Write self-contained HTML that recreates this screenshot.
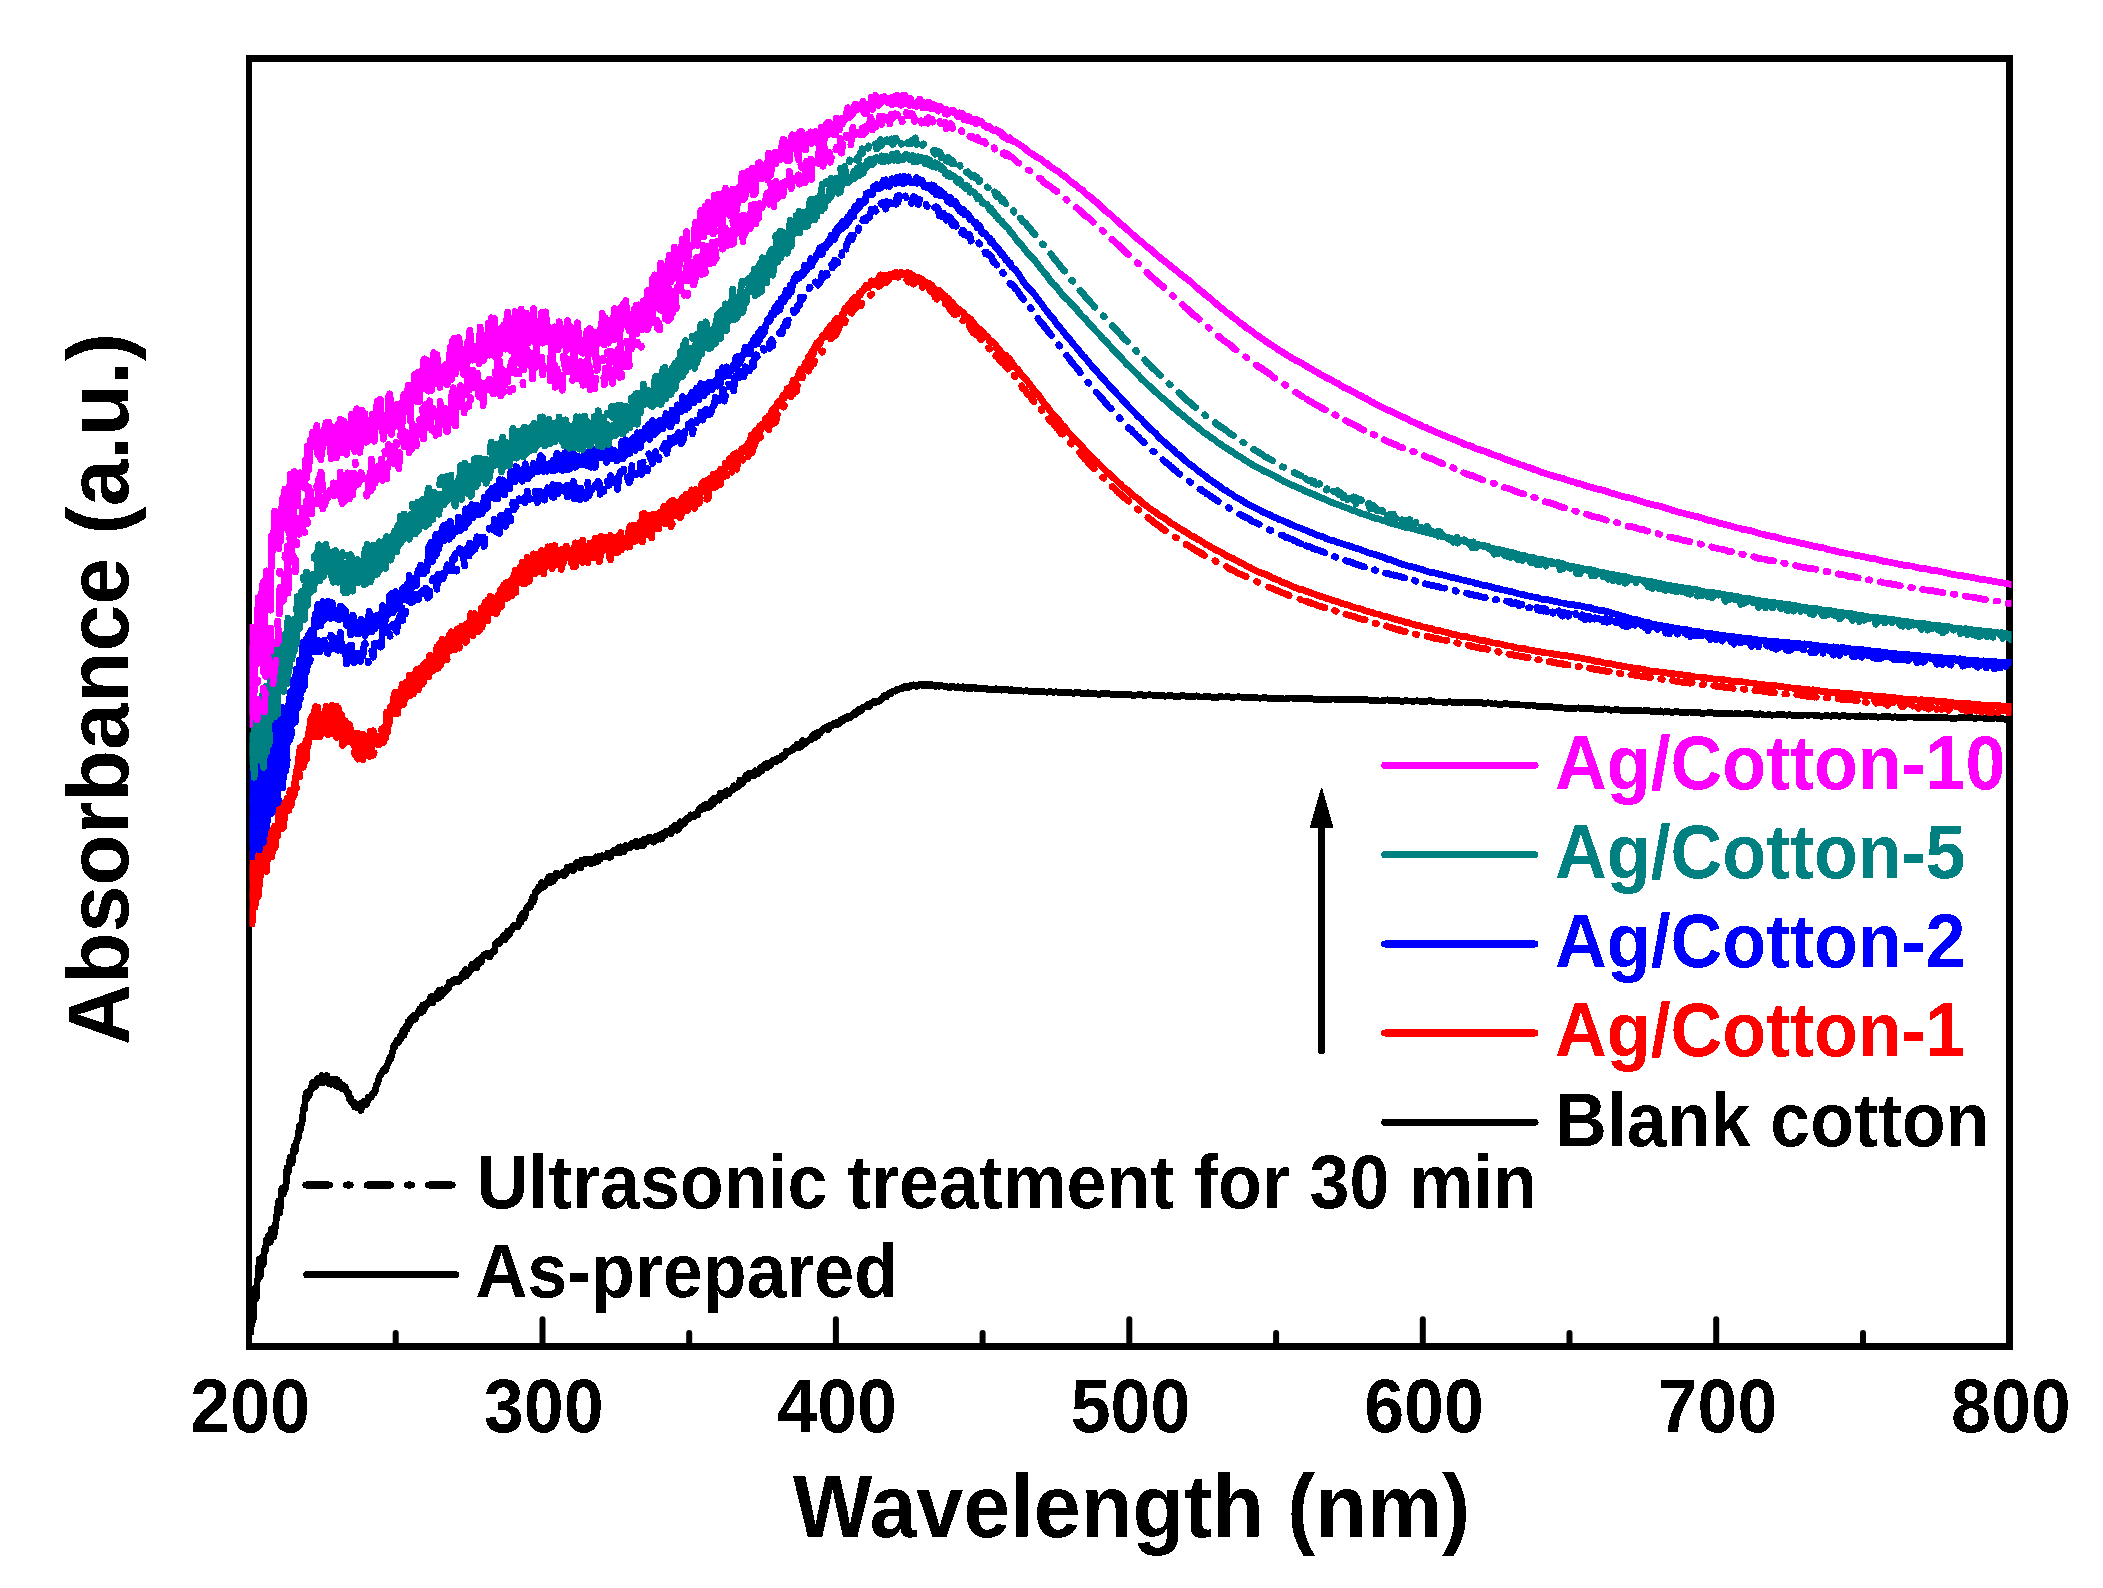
<!DOCTYPE html>
<html lang="en">
<head>
<meta charset="utf-8">
<title>UV-vis absorbance spectra of Ag/Cotton</title>
<style>
html,body{margin:0;padding:0;background:#fff;}
body{width:2103px;height:1588px;overflow:hidden;}
svg{display:block;}
text{font-family:"Liberation Sans",sans-serif;font-weight:bold;}
</style>
</head>
<body>
<svg width="2103" height="1588" viewBox="0 0 2103 1588">
<rect x="0" y="0" width="2103" height="1588" fill="#ffffff"/>
<!-- plot frame -->
<g shape-rendering="crispEdges">
<rect x="249.0" y="58.3" width="1760.7" height="1288.1" fill="none" stroke="#000" stroke-width="6.6"/>
</g>
<g stroke="#000" stroke-width="6" stroke-linecap="round">
<line x1="395.7" y1="1346.4" x2="395.7" y2="1332.9"/>
<line x1="542.5" y1="1346.4" x2="542.5" y2="1319.2"/>
<line x1="689.2" y1="1346.4" x2="689.2" y2="1332.9"/>
<line x1="835.9" y1="1346.4" x2="835.9" y2="1319.2"/>
<line x1="982.6" y1="1346.4" x2="982.6" y2="1332.9"/>
<line x1="1129.3" y1="1346.4" x2="1129.3" y2="1319.2"/>
<line x1="1276.1" y1="1346.4" x2="1276.1" y2="1332.9"/>
<line x1="1422.8" y1="1346.4" x2="1422.8" y2="1319.2"/>
<line x1="1569.5" y1="1346.4" x2="1569.5" y2="1332.9"/>
<line x1="1716.2" y1="1346.4" x2="1716.2" y2="1319.2"/>
<line x1="1863.0" y1="1346.4" x2="1863.0" y2="1332.9"/>
</g>
<!-- data curves -->
<defs><filter id="crisp" x="-5%" y="-5%" width="110%" height="110%" color-interpolation-filters="sRGB"><feComponentTransfer><feFuncA type="discrete" tableValues="0 1"/></feComponentTransfer></filter><clipPath id="pc"><rect x="249.6" y="0" width="1761.9" height="1588"/></clipPath></defs>
<g fill="none" stroke-width="6.8" stroke-linecap="round" stroke-linejoin="round" shape-rendering="crispEdges" clip-path="url(#pc)">
<path d="M250.0,1310.6 L251.0,1332.1 L252.1,1289.3 L253.1,1320.9 L254.1,1289.4 L255.1,1289.4 L256.2,1298.8 L257.2,1279.7 L258.2,1279.5 L259.2,1259.1 L260.3,1276.1 L261.3,1265.8 L262.3,1256.7 L263.4,1264.5 L264.4,1249.8 L265.4,1250.2 L266.4,1240.0 L267.5,1243.3 L268.5,1236.0 L269.5,1234.5 L270.5,1242.2 L271.6,1228.9 L272.6,1230.0 L273.6,1237.0 L274.6,1232.8 L275.7,1224.1 L276.7,1216.4 L277.7,1207.2 L278.8,1200.9 L279.8,1213.0 L280.8,1200.1 L281.8,1188.5 L282.9,1194.4 L283.9,1193.3 L284.9,1186.3 L285.9,1188.0 L287.0,1168.1 L288.0,1173.1 L289.0,1168.0 L290.1,1157.3 L291.1,1163.5 L292.1,1163.2 L293.1,1155.3 L294.2,1146.4 L295.2,1151.5 L296.2,1142.7 L297.2,1138.8 L298.3,1138.1 L299.3,1126.0 L300.3,1130.5 L301.4,1124.4 L302.4,1120.9 L303.4,1108.6 L304.4,1109.5 L305.5,1097.6 L306.5,1092.6 L307.5,1097.9 L308.5,1096.0 L309.6,1094.6 L310.6,1089.3 L311.6,1086.2 L312.7,1082.6 L313.7,1087.5 L314.7,1086.9 L315.7,1086.7 L316.8,1080.2 L317.8,1078.4 L318.8,1081.0 L319.8,1081.7 L320.9,1082.8 L321.9,1075.7 L322.9,1078.7 L323.9,1082.4 L325.0,1078.4 L326.0,1080.1 L327.0,1075.5 L328.1,1081.4 L329.1,1083.8 L330.1,1083.3 L331.1,1084.1 L332.2,1082.5 L333.2,1079.3 L334.2,1084.2 L335.2,1079.9 L336.3,1085.8 L337.3,1079.7 L338.3,1086.9 L339.4,1082.0 L340.4,1084.5 L341.4,1084.9 L342.4,1089.0 L343.5,1085.6 L344.5,1088.8 L345.5,1087.0 L346.5,1090.9 L347.6,1094.0 L348.6,1093.0 L349.6,1099.1 L350.7,1098.3 L351.7,1102.5 L352.7,1103.0 L353.7,1102.1 L354.8,1106.8 L355.8,1105.7 L356.8,1107.9 L357.8,1104.5 L358.9,1106.6 L359.9,1103.8 L360.9,1110.6 L362.0,1103.8 L363.0,1103.4 L364.0,1101.1 L365.0,1101.7 L366.1,1104.9 L367.1,1103.1 L368.1,1097.0 L369.1,1097.7 L370.2,1096.6 L371.2,1097.1 L372.2,1093.7 L373.2,1093.0 L374.3,1093.3 L375.3,1090.4 L376.3,1085.3 L377.4,1083.9 L378.4,1081.0 L379.4,1076.6 L380.4,1075.2 L381.5,1073.6 L382.5,1071.6 L383.5,1069.4 L384.5,1069.3 L385.6,1070.3 L386.6,1066.4 L387.6,1064.2 L388.7,1061.7 L389.7,1058.2 L390.7,1058.8 L391.7,1054.8 L392.8,1051.2 L393.8,1045.7 L394.8,1047.2 L395.8,1043.0 L396.9,1040.5 L397.9,1041.8 L398.9,1042.3 L400.0,1036.5 L401.0,1038.7 L402.0,1034.9 L403.0,1030.1 L404.1,1035.2 L405.1,1028.8 L406.1,1026.3 L407.1,1029.3 L408.2,1021.7 L409.2,1025.2 L410.2,1019.2 L411.3,1019.4 L412.3,1016.7 L413.3,1020.4 L414.3,1015.4 L415.4,1019.0 L416.4,1014.9 L417.4,1014.4 L418.4,1011.9 L419.5,1009.2 L420.5,1008.9 L421.5,1012.4 L422.5,1005.4 L423.6,1010.9 L424.6,1008.1 L425.6,1004.0 L426.7,1005.4 L427.7,1002.4 L428.7,1001.5 L429.7,1001.6 L430.8,996.8 L431.8,999.9 L432.8,1002.9 L433.8,996.5 L434.9,999.4 L435.9,996.1 L436.9,993.4 L438.0,998.3 L439.0,990.2 L440.0,991.8 L441.0,996.6 L442.1,989.8 L443.1,993.8 L444.1,991.0 L445.1,991.8 L446.2,989.6 L447.2,986.6 L448.2,989.0 L449.3,982.2 L450.3,984.8 L451.3,983.4 L452.3,983.4 L453.4,979.8 L454.4,979.7 L455.4,981.6 L456.4,979.4 L457.5,981.9 L458.5,979.5 L459.5,980.8 L460.6,978.9 L461.6,977.0 L462.6,973.7 L463.6,976.9 L464.7,971.8 L465.7,969.5 L466.7,975.8 L467.7,971.6 L468.8,972.7 L469.8,970.0 L470.8,969.8 L471.8,964.4 L472.9,964.8 L473.9,967.9 L474.9,966.3 L476.0,962.2 L477.0,967.7 L478.0,960.5 L479.0,962.5 L480.1,958.8 L481.1,962.5 L482.1,958.1 L483.1,956.1 L484.2,954.5 L485.2,954.6 L486.2,953.8 L487.3,955.6 L488.3,953.9 L489.3,957.0 L490.3,955.9 L491.4,953.7 L492.4,951.6 L493.4,952.0 L494.4,951.7 L495.5,943.4 L496.5,943.1 L497.5,943.9 L498.6,940.8 L499.6,943.7 L500.6,940.0 L501.6,939.0 L502.7,938.1 L503.7,935.6 L504.7,939.7 L505.7,938.0 L506.8,936.6 L507.8,931.2 L508.8,933.3 L509.8,934.3 L510.9,929.2 L511.9,930.0 L512.9,926.1 L514.0,925.5 L515.0,925.4 L516.0,925.8 L517.0,924.9 L518.1,926.9 L519.1,921.1 L520.1,917.3 L521.1,922.1 L522.2,914.6 L523.2,913.2 L524.2,918.3 L525.3,915.0 L526.3,910.0 L527.3,906.7 L528.3,907.0 L529.4,904.8 L530.4,907.2 L531.4,901.9 L532.4,897.4 L533.5,902.1 L534.5,897.9 L535.5,892.1 L536.6,890.3 L537.6,891.3 L538.6,886.8 L539.6,889.5 L540.7,888.0 L541.7,882.4 L542.7,887.3 L543.7,886.2 L544.8,886.3 L545.8,883.6 L546.8,883.1 L547.9,878.3 L548.9,876.6 L549.9,876.3 L550.9,882.6 L552.0,879.6 L553.0,881.4 L554.0,876.3 L555.0,878.8 L556.1,873.1 L557.1,873.3 L558.1,873.6 L559.1,875.2 L560.2,874.7 L561.2,873.7 L562.2,872.6 L563.3,873.2 L564.3,875.6 L565.3,871.2 L566.3,873.5 L567.4,867.0 L568.4,869.0 L569.4,869.8 L570.4,869.7 L571.5,866.4 L572.5,867.0 L573.5,870.7 L574.6,867.9 L575.6,867.0 L576.6,862.6 L577.6,862.1 L578.7,862.9 L579.7,861.9 L580.7,867.9 L581.7,860.2 L582.8,862.6 L583.8,859.9 L584.8,864.0 L585.9,859.2 L586.9,859.1 L587.9,858.9 L588.9,860.0 L590.0,862.0 L591.0,863.5 L592.0,859.2 L593.0,859.0 L594.1,862.7 L595.1,861.8 L596.1,856.9 L597.2,861.6 L598.2,861.5 L599.2,856.3 L600.2,859.3 L601.3,855.7 L602.3,855.7 L603.3,857.1 L604.3,857.0 L605.4,856.2 L606.4,856.3 L607.4,853.4 L608.4,857.2 L609.5,853.1 L610.5,857.3 L611.5,854.0 L612.6,852.0 L613.6,850.6 L614.6,852.5 L615.6,851.3 L616.7,852.7 L617.7,851.3 L618.7,847.5 L619.7,852.9 L620.8,846.8 L621.8,852.1 L622.8,851.5 L623.9,851.9 L624.9,849.6 L625.9,845.5 L626.9,847.1 L628.0,846.7 L629.0,847.6 L630.0,845.4 L631.0,847.1 L632.1,843.3 L633.1,844.0 L634.1,845.0 L635.2,843.8 L636.2,841.2 L637.2,847.0 L638.2,844.7 L639.3,845.3 L640.3,841.6 L641.3,845.5 L642.3,844.3 L643.4,845.2 L644.4,839.3 L645.4,841.0 L646.5,840.1 L647.5,841.4 L648.5,838.5 L649.5,837.1 L650.6,839.5 L651.6,840.4 L652.6,838.2 L653.6,842.2 L654.7,837.7 L655.7,836.6 L656.7,839.8 L657.7,836.9 L658.8,835.1 L659.8,834.8 L660.8,839.1 L661.9,838.7 L662.9,836.0 L663.9,832.8 L664.9,835.4 L666.0,831.4 L667.0,831.6 L668.0,832.6 L669.0,831.0 L670.1,830.1 L671.1,834.0 L672.1,827.7 L673.2,830.2 L674.2,825.6 L675.2,825.3 L676.2,825.5 L677.3,830.4 L678.3,827.8 L679.3,828.1 L680.3,821.7 L681.4,825.4 L682.4,823.0 L683.4,822.1 L684.5,823.4 L685.5,819.8 L686.5,820.5 L687.5,817.9 L688.6,818.1 L689.6,818.3 L690.6,814.9 L691.6,815.0 L692.7,815.3 L693.7,814.9 L694.7,816.5 L695.8,814.6 L696.8,813.4 L697.8,814.8 L698.8,809.4 L699.9,808.0 L700.9,809.3 L701.9,806.9 L702.9,809.1 L704.0,808.5 L705.0,804.7 L706.0,808.0 L707.0,806.2 L708.1,804.6 L709.1,807.3 L710.1,806.2 L711.2,801.1 L712.2,800.0 L713.2,804.4 L714.2,798.5 L715.3,801.9 L716.3,798.2 L717.3,797.8 L718.3,798.4 L719.4,800.1 L720.4,793.2 L721.4,793.6 L722.5,796.6 L723.5,793.7 L724.5,792.3 L725.5,796.0 L726.6,790.7 L727.6,792.9 L728.6,793.9 L729.6,791.8 L730.7,790.7 L731.7,790.1 L732.7,789.9 L733.8,785.7 L734.8,787.3 L735.8,787.7 L736.8,787.5 L737.9,786.9 L738.9,786.1 L739.9,780.1 L740.9,781.2 L742.0,781.0 L743.0,783.1 L744.0,779.3 L745.1,777.6 L746.1,775.3 L747.1,776.3 L748.1,778.8 L749.2,773.3 L750.2,773.6 L751.2,773.9 L752.2,774.6 L753.3,773.0 L754.3,775.7 L755.3,770.8 L756.3,772.5 L757.4,773.3 L758.4,773.7 L759.4,772.7 L760.5,767.6 L761.5,771.1 L762.5,769.8 L763.5,767.7 L764.6,764.7 L765.6,765.0 L766.6,768.0 L767.6,763.3 L768.7,764.1 L769.7,763.1 L770.7,765.5 L771.8,762.4 L772.8,760.1 L773.8,761.1 L774.8,760.2 L775.9,761.8 L776.9,758.7 L777.9,760.2 L778.9,758.5 L780.0,759.9 L781.0,758.2 L782.0,755.5 L783.1,755.3 L784.1,754.5 L785.1,756.2 L786.1,751.1 L787.2,752.2 L788.2,752.1 L789.2,750.9 L790.2,751.2 L791.3,750.0 L792.3,748.8 L793.3,749.8 L794.3,747.0 L795.4,748.0 L796.4,748.1 L797.4,744.0 L798.5,744.5 L799.5,747.4 L800.5,746.9 L801.5,746.4 L802.6,740.4 L803.6,744.2 L804.6,744.2 L805.6,743.4 L806.7,741.7 L807.7,740.9 L808.7,740.5 L809.8,739.1 L810.8,739.6 L811.8,737.5 L812.8,735.4 L813.9,734.1 L814.9,737.8 L815.9,736.4 L816.9,732.8 L818.0,735.6 L819.0,732.3 L820.0,733.4 L821.1,731.4 L822.1,730.1 L823.1,729.3 L824.1,728.2 L825.2,727.6 L826.2,727.0 L827.2,726.6 L828.2,729.6 L829.3,727.5 L830.3,725.0 L831.3,726.3 L832.4,725.8 L833.4,725.0 L834.4,723.1 L835.4,723.6 L836.5,724.9 L837.5,722.2 L838.5,722.1 L839.5,723.4 L840.6,719.8 L841.6,721.3 L842.6,719.7 L843.6,720.4 L844.7,718.0 L845.7,718.2 L846.7,716.9 L847.8,718.4 L848.8,718.0 L849.8,716.3 L850.8,717.1 L851.9,715.5 L852.9,715.3 L853.9,715.0 L854.9,712.0 L856.0,714.2 L857.0,711.3 L858.0,711.2 L859.1,709.4 L860.1,711.3 L861.1,708.9 L862.1,709.6 L863.2,707.4 L864.2,707.3 L865.2,706.9 L866.2,705.8 L867.3,704.6 L868.3,706.5 L869.3,706.6 L870.4,703.6 L871.4,702.8 L872.4,702.9 L873.4,701.5 L874.5,702.8 L875.5,701.4 L876.5,701.4 L877.5,702.0 L878.6,701.3 L879.6,700.9 L880.6,700.4 L881.7,698.8 L882.7,697.9 L883.7,696.0 L884.7,695.6 L885.8,696.2 L886.8,696.5 L887.8,694.8 L888.8,693.0 L889.9,693.0 L890.9,693.8 L891.9,691.7 L892.9,691.2 L894.0,690.9 L895.0,691.1 L896.0,691.2 L897.1,689.2 L898.1,689.6 L899.1,689.1 L900.1,688.5 L901.2,688.4 L902.2,688.6 L903.2,687.0 L904.2,687.4 L905.3,686.2 L906.3,686.9 L907.3,687.4 L908.4,687.6 L909.4,686.3 L910.4,685.7 L911.4,686.2 L912.5,685.6 L913.5,684.9 L914.5,685.6 L915.5,686.1 L916.6,686.2 L917.6,686.2 L918.6,684.9 L919.7,684.5 L920.7,684.2 L921.7,684.8 L922.7,685.6 L923.8,684.4 L924.8,685.7 L925.8,685.4 L926.8,684.4 L927.9,685.3 L928.9,685.7 L929.9,686.0 L931.0,684.5 L932.0,685.9 L933.0,685.8 L934.0,684.9 L935.1,685.0 L936.1,686.4 L937.1,685.3 L938.1,685.3 L939.2,686.2 L940.2,685.2 L941.2,685.9 L942.2,685.8 L943.3,686.2 L944.3,686.4 L945.3,686.6 L946.4,686.3 L947.4,687.2 L948.4,687.2 L949.4,687.4 L950.5,686.6 L951.5,687.2 L952.5,686.7 L953.5,686.5 L954.6,687.2 L955.6,687.8 L956.6,687.6 L957.7,686.8 L958.7,686.8 L959.7,687.8 L960.7,687.7 L961.8,688.0 L962.8,686.9 L963.8,688.2 L964.8,687.5 L965.9,687.3 L966.9,687.5 L967.9,688.6 L969.0,688.6 L970.0,687.3 L971.0,687.7 L972.0,688.4 L973.1,687.4 L974.1,687.5 L975.1,687.5 L976.1,688.9 L977.2,688.1 L978.2,688.2 L979.2,688.9 L980.3,688.3 L981.3,689.0 L982.3,688.5 L983.3,688.4 L984.4,688.6 L985.4,688.4 L986.4,688.3 L987.4,689.5 L988.5,689.5 L989.5,689.0 L990.5,689.4 L991.5,689.7 L992.6,689.1 L993.6,689.6 L994.6,689.7 L995.7,688.8 L996.7,689.0 L997.7,689.8 L998.7,689.8 L999.8,689.2 L1000.8,690.1 L1001.8,690.1 L1002.8,689.5 L1003.9,689.6 L1004.9,689.4 L1005.9,689.8 L1007.0,689.5 L1008.0,690.1 L1009.0,690.2 L1010.0,690.2 L1011.1,689.6 L1012.0,690.4 L1014.9,690.7 L1017.8,690.0 L1020.8,690.7 L1023.7,691.2 L1026.6,690.5 L1029.6,691.5 L1032.5,691.7 L1035.4,691.5 L1038.4,691.9 L1041.3,691.2 L1044.2,691.8 L1047.2,692.3 L1050.1,691.3 L1053.1,692.4 L1056.0,691.8 L1058.9,692.6 L1061.9,692.5 L1064.8,692.8 L1067.7,692.4 L1070.7,692.6 L1073.6,693.3 L1076.5,692.3 L1079.5,692.5 L1082.4,693.7 L1085.3,693.7 L1088.3,692.8 L1091.2,694.0 L1094.1,693.2 L1097.1,694.1 L1100.0,694.2 L1102.9,693.2 L1105.9,693.2 L1108.8,693.7 L1111.7,694.6 L1114.7,694.5 L1117.6,694.1 L1120.5,694.8 L1123.5,694.2 L1126.4,694.3 L1129.3,694.2 L1132.3,695.3 L1135.2,695.2 L1138.2,694.8 L1141.1,694.6 L1144.0,695.6 L1147.0,695.0 L1149.9,694.8 L1152.8,695.2 L1155.8,695.6 L1158.7,695.8 L1161.6,695.0 L1164.6,696.2 L1167.5,695.9 L1170.4,695.2 L1173.4,696.2 L1176.3,696.5 L1179.2,696.4 L1182.2,695.4 L1185.1,696.1 L1188.0,696.3 L1191.0,696.8 L1193.9,696.3 L1196.8,695.9 L1199.8,697.0 L1202.7,697.1 L1205.6,696.6 L1208.6,696.1 L1211.5,697.2 L1214.5,697.1 L1217.4,697.5 L1220.3,696.3 L1223.3,697.0 L1226.2,696.8 L1229.1,696.7 L1232.1,697.6 L1235.0,697.1 L1237.9,696.8 L1240.9,697.0 L1243.8,697.9 L1246.7,697.7 L1249.7,697.3 L1252.6,698.0 L1255.5,697.3 L1258.5,698.1 L1261.4,698.1 L1264.3,697.3 L1267.3,698.1 L1270.2,698.4 L1273.1,698.5 L1276.1,698.5 L1279.0,698.8 L1281.9,698.7 L1284.9,699.0 L1287.8,698.4 L1290.7,698.0 L1293.7,698.2 L1296.6,698.4 L1299.6,698.2 L1302.5,698.3 L1305.4,698.9 L1308.4,698.6 L1311.3,698.7 L1314.2,699.4 L1317.2,699.6 L1320.1,699.7 L1323.0,699.1 L1326.0,699.6 L1328.9,699.9 L1331.8,699.0 L1334.8,699.1 L1337.7,699.8 L1340.6,699.3 L1343.6,699.3 L1346.5,699.6 L1349.4,699.2 L1352.4,699.8 L1355.3,699.4 L1358.2,699.7 L1361.2,699.7 L1364.1,699.9 L1367.0,699.7 L1370.0,700.2 L1372.9,700.5 L1375.8,700.1 L1378.8,700.9 L1381.7,700.9 L1384.7,700.2 L1387.6,699.9 L1390.5,700.9 L1393.5,700.3 L1396.4,700.5 L1399.3,700.9 L1402.3,701.5 L1405.2,700.6 L1408.1,700.9 L1411.1,701.1 L1414.0,701.3 L1416.9,700.7 L1419.9,701.3 L1422.8,701.3 L1425.7,701.5 L1428.7,700.8 L1431.6,700.9 L1434.5,702.1 L1437.5,701.9 L1440.4,702.0 L1443.3,702.2 L1446.3,702.4 L1449.2,701.7 L1452.1,702.2 L1455.1,702.2 L1458.0,702.2 L1460.9,702.4 L1463.9,702.0 L1466.8,702.9 L1469.8,702.4 L1472.7,702.1 L1475.6,702.1 L1478.6,703.0 L1481.5,702.6 L1484.4,703.7 L1487.4,702.8 L1490.3,703.1 L1493.2,704.1 L1496.2,703.7 L1499.1,704.4 L1502.0,704.3 L1505.0,703.6 L1507.9,703.9 L1510.8,704.3 L1513.8,705.1 L1516.7,704.5 L1519.6,704.9 L1522.6,705.1 L1525.5,705.0 L1528.4,705.8 L1531.4,705.0 L1534.3,705.4 L1537.2,706.4 L1540.2,706.3 L1543.1,706.3 L1546.0,706.3 L1549.0,706.1 L1551.9,706.7 L1554.9,707.6 L1557.8,707.2 L1560.7,707.4 L1563.7,708.1 L1566.6,708.1 L1569.5,708.4 L1572.5,708.5 L1575.4,708.3 L1578.3,707.9 L1581.3,708.5 L1584.2,708.3 L1587.1,709.0 L1590.1,708.3 L1593.0,708.8 L1595.9,709.5 L1598.9,709.1 L1601.8,709.4 L1604.7,708.9 L1607.7,709.2 L1610.6,710.2 L1613.5,710.0 L1616.5,709.7 L1619.4,710.0 L1622.3,710.5 L1625.3,710.6 L1628.2,710.8 L1631.1,710.2 L1634.1,710.2 L1637.0,710.8 L1640.0,710.8 L1642.9,711.0 L1645.8,710.6 L1648.8,710.8 L1651.7,711.5 L1654.6,711.1 L1657.6,711.7 L1660.5,710.9 L1663.4,712.2 L1666.4,711.3 L1669.3,711.8 L1672.2,712.5 L1675.2,711.7 L1678.1,711.7 L1681.0,712.8 L1684.0,712.8 L1686.9,712.4 L1689.8,711.9 L1692.8,712.7 L1695.7,712.3 L1698.6,712.4 L1701.6,713.4 L1704.5,713.1 L1707.4,712.9 L1710.4,712.5 L1713.3,713.0 L1716.2,713.7 L1719.2,713.1 L1722.1,713.2 L1725.1,713.6 L1728.0,713.3 L1730.9,713.7 L1733.9,714.1 L1736.8,713.5 L1739.7,713.8 L1742.7,714.1 L1745.6,713.8 L1748.5,713.7 L1751.5,713.7 L1754.4,714.3 L1757.3,714.9 L1760.3,713.7 L1763.2,714.9 L1766.1,715.1 L1769.1,714.6 L1772.0,715.2 L1774.9,715.0 L1777.9,714.8 L1780.8,714.8 L1783.7,714.8 L1786.7,715.2 L1789.6,714.7 L1792.5,715.3 L1795.5,715.1 L1798.4,715.4 L1801.4,715.8 L1804.3,715.0 L1807.2,715.2 L1810.2,715.1 L1813.1,714.9 L1816.0,715.7 L1819.0,715.8 L1821.9,716.3 L1824.8,715.8 L1827.8,715.6 L1830.7,716.3 L1833.6,715.2 L1836.6,715.7 L1839.5,716.3 L1842.4,715.6 L1845.4,715.9 L1848.3,716.6 L1851.2,716.0 L1854.2,715.9 L1857.1,716.8 L1860.0,715.8 L1863.0,716.8 L1865.9,716.2 L1868.8,716.1 L1871.8,716.5 L1874.7,716.6 L1877.6,717.2 L1880.6,717.0 L1883.5,716.7 L1886.5,716.9 L1889.4,716.6 L1892.3,717.5 L1895.3,716.8 L1898.2,717.5 L1901.1,717.2 L1904.1,717.6 L1907.0,716.9 L1909.9,717.1 L1912.9,717.0 L1915.8,717.7 L1918.7,717.9 L1921.7,717.8 L1924.6,717.3 L1927.5,717.9 L1930.5,717.8 L1933.4,717.6 L1936.3,717.2 L1939.3,717.3 L1942.2,718.0 L1945.1,717.3 L1948.1,717.9 L1951.0,718.2 L1953.9,718.1 L1956.9,718.1 L1959.8,717.6 L1962.7,717.5 L1965.7,717.4 L1968.6,717.5 L1971.6,717.8 L1974.5,718.3 L1977.4,718.1 L1980.4,717.9 L1983.3,718.1 L1986.2,718.3 L1989.2,718.8 L1992.1,718.6 L1995.0,717.9 L1998.0,718.5 L2000.9,718.1 L2003.8,719.1 L2006.8,719.1 L2009.7,718.8 L2011.0,719.0" stroke="#000000"/>
<path d="M250.0,871.6 L251.0,874.5 L252.1,924.1 L253.1,852.2 L254.1,898.3 L255.1,907.1 L256.2,857.4 L257.2,846.5 L258.2,862.6 L259.2,885.9 L260.3,875.6 L261.3,850.2 L262.3,861.1 L263.4,868.2 L264.4,853.7 L265.4,860.0 L266.4,871.5 L267.5,856.6 L268.5,841.9 L269.5,831.4 L270.5,835.7 L271.6,839.9 L272.6,852.1 L273.6,845.3 L274.6,826.3 L275.7,845.7 L276.7,827.4 L277.7,832.5 L278.8,810.6 L279.8,808.5 L280.8,809.2 L281.8,828.7 L282.9,819.7 L283.9,822.7 L284.9,813.6 L285.9,803.3 L287.0,804.3 L288.0,804.2 L289.0,810.4 L290.1,793.5 L291.1,805.8 L292.1,793.4 L293.1,797.5 L294.2,783.2 L295.2,786.5 L296.2,771.2 L297.2,774.3 L298.3,760.4 L299.3,753.1 L300.3,747.6 L301.4,767.3 L302.4,755.4 L303.4,767.2 L304.4,761.7 L305.5,742.6 L306.5,758.9 L307.5,741.8 L308.5,744.1 L309.6,728.9 L310.6,719.6 L311.6,717.1 L312.7,715.9 L313.7,728.8 L314.7,710.8 L315.7,706.5 L316.8,732.8 L317.8,707.3 L318.8,718.3 L319.8,719.0 L320.9,723.1 L321.9,719.1 L322.9,733.5 L323.9,727.3 L325.0,721.5 L326.0,723.0 L327.0,719.5 L328.1,734.6 L329.1,710.6 L330.1,725.9 L331.1,721.7 L332.2,705.3 L333.2,713.8 L334.2,734.4 L335.2,730.2 L336.3,705.9 L337.3,716.0 L338.3,708.1 L339.4,735.7 L340.4,714.4 L341.4,714.5 L342.4,745.3 L343.5,730.1 L344.5,727.7 L345.5,720.8 L346.5,732.6 L347.6,733.0 L348.6,738.9 L349.6,724.5 L350.7,729.9 L351.7,732.8 L352.7,740.7 L353.7,737.5 L354.8,747.4 L355.8,738.7 L356.8,757.2 L357.8,759.0 L358.9,733.7 L359.9,738.1 L360.9,748.0 L362.0,753.7 L363.0,734.1 L364.0,737.2 L365.0,744.3 L366.1,749.7 L367.1,755.5 L368.1,754.0 L369.1,751.5 L370.2,731.6 L371.2,755.2 L372.2,745.2 L373.2,730.7 L374.3,734.4 L375.3,743.1 L376.3,736.1 L377.4,736.7 L378.4,745.0 L379.4,744.3 L380.4,735.8 L381.5,740.8 L382.5,729.2 L383.5,742.3 L384.5,730.9 L385.6,738.4 L386.6,712.3 L387.6,731.7 L388.7,721.0 L389.7,722.5 L390.7,706.6 L391.7,713.3 L392.8,704.3 L393.8,697.2 L394.8,692.5 L395.8,713.8 L396.9,705.9 L397.9,692.2 L398.9,692.0 L400.0,695.9 L401.0,703.6 L402.0,684.2 L403.0,704.8 L404.1,702.9 L405.1,683.7 L406.1,692.8 L407.1,684.4 L408.2,692.0 L409.2,675.2 L410.2,684.0 L411.3,686.0 L412.3,685.9 L413.3,686.5 L414.3,690.6 L415.4,672.8 L416.4,669.5 L417.4,674.5 L418.4,678.0 L419.5,686.9 L420.5,679.4 L421.5,679.0 L422.5,683.9 L423.6,664.8 L424.6,663.5 L425.6,666.5 L426.7,662.2 L427.7,670.2 L428.7,676.8 L429.7,655.4 L430.8,663.6 L431.8,666.6 L432.8,660.9 L433.8,670.5 L434.9,665.0 L435.9,667.7 L436.9,647.1 L438.0,648.2 L439.0,643.9 L440.0,662.3 L441.0,664.7 L442.1,639.6 L443.1,658.3 L444.1,655.8 L445.1,659.4 L446.2,642.3 L447.2,652.6 L448.2,639.5 L449.3,634.5 L450.3,650.5 L451.3,631.8 L452.3,647.5 L453.4,636.1 L454.4,640.3 L455.4,649.6 L456.4,632.3 L457.5,637.1 L458.5,633.3 L459.5,628.2 L460.6,634.4 L461.6,626.2 L462.6,640.8 L463.6,635.2 L464.7,626.0 L465.7,642.4 L466.7,625.7 L467.7,633.0 L468.8,633.6 L469.8,621.0 L470.8,613.7 L471.8,634.9 L472.9,635.6 L473.9,615.0 L474.9,613.7 L476.0,619.8 L477.0,623.0 L478.0,631.9 L479.0,630.4 L480.1,630.0 L481.1,610.6 L482.1,618.5 L483.1,613.4 L484.2,607.4 L485.2,602.2 L486.2,603.8 L487.3,607.5 L488.3,599.6 L489.3,600.1 L490.3,596.3 L491.4,609.5 L492.4,605.1 L493.4,597.8 L494.4,603.6 L495.5,600.0 L496.5,604.7 L497.5,610.4 L498.6,594.9 L499.6,601.1 L500.6,589.6 L501.6,606.4 L502.7,597.4 L503.7,585.1 L504.7,586.5 L505.7,583.0 L506.8,582.5 L507.8,584.6 L508.8,596.2 L509.8,586.1 L510.9,580.5 L511.9,582.9 L512.9,578.0 L514.0,588.3 L515.0,570.5 L516.0,575.0 L517.0,574.7 L518.1,570.1 L519.1,582.6 L520.1,567.8 L521.1,569.7 L522.2,562.6 L523.2,578.8 L524.2,568.2 L525.3,574.5 L526.3,562.9 L527.3,557.3 L528.3,563.8 L529.4,574.3 L530.4,575.0 L531.4,562.4 L532.4,573.9 L533.5,553.8 L534.5,564.7 L535.5,557.6 L536.6,561.4 L537.6,555.5 L538.6,571.3 L539.6,556.3 L540.7,571.4 L541.7,550.5 L542.7,557.8 L543.7,557.6 L544.8,563.6 L545.8,554.3 L546.8,557.4 L547.9,546.8 L548.9,552.2 L549.9,561.8 L550.9,546.5 L552.0,554.7 L553.0,549.0 L554.0,546.9 L555.0,545.6 L556.1,562.1 L557.1,558.8 L558.1,551.1 L559.1,551.2 L560.2,559.2 L561.2,556.0 L562.2,563.3 L563.3,563.3 L564.3,552.6 L565.3,556.7 L566.3,553.8 L567.4,548.0 L568.4,551.4 L569.4,557.7 L570.4,553.5 L571.5,555.3 L572.5,551.7 L573.5,562.8 L574.6,558.4 L575.6,542.8 L576.6,559.1 L577.6,561.5 L578.7,558.9 L579.7,547.4 L580.7,547.9 L581.7,544.8 L582.8,540.1 L583.8,549.9 L584.8,558.8 L585.9,556.7 L586.9,553.9 L587.9,558.2 L588.9,553.5 L590.0,542.9 L591.0,556.5 L592.0,545.9 L593.0,558.1 L594.1,544.5 L595.1,538.7 L596.1,553.6 L597.2,538.6 L598.2,556.5 L599.2,545.3 L600.2,553.8 L601.3,536.3 L602.3,547.6 L603.3,550.5 L604.3,537.3 L605.4,548.3 L606.4,537.0 L607.4,540.5 L608.4,541.6 L609.5,547.3 L610.5,535.4 L611.5,536.3 L612.6,550.0 L613.6,548.1 L614.6,541.5 L615.6,537.0 L616.7,546.3 L617.7,540.5 L618.7,536.3 L619.7,549.0 L620.8,532.6 L621.8,546.2 L622.8,541.2 L623.9,541.2 L624.9,541.4 L625.9,542.3 L626.9,544.8 L628.0,545.0 L629.0,528.7 L630.0,525.9 L631.0,542.3 L632.1,525.4 L633.1,525.2 L634.1,538.1 L635.2,541.2 L636.2,537.6 L637.2,529.3 L638.2,525.4 L639.3,539.0 L640.3,532.5 L641.3,529.4 L642.3,514.4 L643.4,518.1 L644.4,513.3 L645.4,533.5 L646.5,517.4 L647.5,515.3 L648.5,524.4 L649.5,515.0 L650.6,522.5 L651.6,531.2 L652.6,528.7 L653.6,514.1 L654.7,528.7 L655.7,516.6 L656.7,518.9 L657.7,514.0 L658.8,528.3 L659.8,512.6 L660.8,521.4 L661.9,518.4 L662.9,519.3 L663.9,506.4 L664.9,515.0 L666.0,524.0 L667.0,514.4 L668.0,506.3 L669.0,502.9 L670.1,508.0 L671.1,515.8 L672.1,500.8 L673.2,500.7 L674.2,512.2 L675.2,515.9 L676.2,506.7 L677.3,509.6 L678.3,502.0 L679.3,501.7 L680.3,504.9 L681.4,499.5 L682.4,503.2 L683.4,497.0 L684.5,510.5 L685.5,504.8 L686.5,494.2 L687.5,495.3 L688.6,505.9 L689.6,497.2 L690.6,494.5 L691.6,489.8 L692.7,500.2 L693.7,497.7 L694.7,501.5 L695.8,489.6 L696.8,498.4 L697.8,498.8 L698.8,498.0 L699.9,495.9 L700.9,490.2 L701.9,483.2 L702.9,491.7 L704.0,481.4 L705.0,481.5 L706.0,485.5 L707.0,480.3 L708.1,484.3 L709.1,489.1 L710.1,478.5 L711.2,486.3 L712.2,488.0 L713.2,473.9 L714.2,478.2 L715.3,480.9 L716.3,480.2 L717.3,473.3 L718.3,479.0 L719.4,472.5 L720.4,469.4 L721.4,472.2 L722.5,472.3 L723.5,473.9 L724.5,470.8 L725.5,463.1 L726.6,467.6 L727.6,464.0 L728.6,466.8 L729.6,458.7 L730.7,464.1 L731.7,464.4 L732.7,455.7 L733.8,454.4 L734.8,461.9 L735.8,460.7 L736.8,452.8 L737.9,458.5 L738.9,452.7 L739.9,452.6 L740.9,451.0 L742.0,448.7 L743.0,452.2 L744.0,448.7 L745.1,450.2 L746.1,446.4 L747.1,447.7 L748.1,443.1 L749.2,441.6 L750.2,441.2 L751.2,435.4 L752.2,440.3 L753.3,434.0 L754.3,439.1 L755.3,430.8 L756.3,434.8 L757.4,433.9 L758.4,430.9 L759.4,426.3 L760.5,430.4 L761.5,425.4 L762.5,423.9 L763.5,425.5 L764.6,426.2 L765.6,418.6 L766.6,419.7 L767.6,420.0 L768.7,415.9 L769.7,419.0 L770.7,415.4 L771.8,410.4 L772.8,409.6 L773.8,408.2 L774.8,408.9 L775.9,410.5 L776.9,403.8 L777.9,402.6 L778.9,401.6 L780.0,402.5 L781.0,400.2 L782.0,398.6 L783.1,395.4 L784.1,398.3 L785.1,394.6 L786.1,395.6 L787.2,388.7 L788.2,389.9 L789.2,387.8 L790.2,389.3 L791.3,386.7 L792.3,384.1 L793.3,380.2 L794.3,381.9 L795.4,381.6 L796.4,379.2 L797.4,378.8 L798.5,374.8 L799.5,371.4 L800.5,369.1 L801.5,371.2 L802.6,369.6 L803.6,366.9 L804.6,366.2 L805.6,362.7 L806.7,363.5 L807.7,360.9 L808.7,356.4 L809.8,357.1 L810.8,356.0 L811.8,351.6 L812.8,354.8 L813.9,352.4 L814.9,346.7 L815.9,345.7 L816.9,342.9 L818.0,347.4 L819.0,341.1 L820.0,343.9 L821.1,340.4 L822.1,336.1 L823.1,335.7 L824.1,334.6 L825.2,336.5 L826.2,332.7 L827.2,329.9 L828.2,333.8 L829.3,329.7 L830.3,325.6 L831.3,330.2 L832.4,327.0 L833.4,324.3 L834.4,321.2 L835.4,323.5 L836.5,318.5 L837.5,322.6 L838.5,320.2 L839.5,318.8 L840.6,317.9 L841.6,317.3 L842.6,313.6 L843.6,314.5 L844.7,308.8 L845.7,311.4 L846.7,310.5 L847.8,305.8 L848.8,304.0 L849.8,307.9 L850.8,306.6 L851.9,300.4 L852.9,302.3 L853.9,298.6 L854.9,297.5 L856.0,301.0 L857.0,298.2 L858.0,297.6 L859.1,293.4 L860.1,295.4 L861.1,293.6 L862.1,290.5 L863.2,290.4 L864.2,287.8 L865.2,289.0 L866.2,285.4 L867.3,286.2 L868.3,288.0 L869.3,285.9 L870.4,284.8 L871.4,280.9 L872.4,284.7 L873.4,282.7 L874.5,284.1 L875.5,283.4 L876.5,282.8 L877.5,279.7 L878.6,280.6 L879.6,275.9 L880.6,275.0 L881.7,279.3 L882.7,278.2 L883.7,279.6 L884.7,275.1 L885.8,276.0 L886.8,277.6 L887.8,276.2 L888.8,277.4 L889.9,274.3 L890.9,276.9 L891.9,276.8 L892.9,276.8 L894.0,273.4 L895.0,276.5 L896.0,272.5 L897.1,274.1 L898.1,276.5 L899.1,274.2 L900.1,273.8 L901.2,272.3 L902.2,273.4 L903.2,273.3 L904.2,274.7 L905.3,274.1 L906.3,273.0 L907.3,272.6 L908.4,277.9 L909.4,276.0 L910.4,273.7 L911.4,275.1 L912.5,277.4 L913.5,275.4 L914.5,279.8 L915.5,278.1 L916.6,279.4 L917.6,279.8 L918.6,277.4 L919.7,282.4 L920.7,282.4 L921.7,278.9 L922.7,281.9 L923.8,282.3 L924.8,281.6 L925.8,282.6 L926.8,282.6 L927.9,285.3 L928.9,284.8 L929.9,283.7 L931.0,285.1 L932.0,285.4 L933.0,288.7 L934.0,289.0 L935.1,288.9 L936.1,290.5 L937.1,291.7 L938.1,290.3 L939.2,290.3 L940.2,295.8 L941.2,292.6 L942.2,293.8 L943.3,297.0 L944.3,299.3 L945.3,295.8 L946.4,298.1 L947.4,301.3 L948.4,298.4 L949.4,300.1 L950.5,302.8 L951.5,304.8 L952.5,302.2 L953.5,304.7 L954.6,306.5 L955.6,307.2 L956.6,308.1 L957.7,311.2 L958.7,312.1 L959.7,309.5 L960.7,310.7 L961.8,312.3 L962.8,312.0 L963.8,313.2 L964.8,316.1 L965.9,318.9 L966.9,316.8 L967.9,317.4 L969.0,320.2 L970.0,319.9 L971.0,319.6 L972.0,321.0 L973.1,325.4 L974.1,323.1 L975.1,326.3 L976.1,326.4 L977.2,328.9 L978.2,328.8 L979.2,328.7 L980.3,329.6 L981.3,330.7 L982.3,331.7 L983.3,332.8 L984.4,334.0 L985.4,336.2 L986.4,336.9 L987.4,336.2 L988.5,338.5 L989.5,341.5 L990.5,342.5 L991.5,341.2 L992.6,341.6 L993.6,343.1 L994.6,343.6 L995.7,345.1 L996.7,348.5 L997.7,349.3 L998.7,348.8 L999.8,350.2 L1000.8,351.7 L1001.8,352.7 L1002.8,353.7 L1003.9,354.9 L1004.9,355.5 L1005.9,355.0 L1007.0,357.9 L1008.0,359.0 L1009.0,358.5 L1010.0,359.7 L1011.1,362.3 L1012.0,362.5 L1014.9,367.2 L1017.8,369.2 L1020.8,374.0 L1023.7,377.5 L1026.6,379.9 L1029.6,384.2 L1032.5,388.1 L1035.4,391.8 L1038.4,395.0 L1041.3,399.1 L1044.2,403.5 L1047.2,406.4 L1050.1,410.9 L1053.1,414.0 L1056.0,417.5 L1058.9,420.5 L1061.9,425.0 L1064.8,427.1 L1067.7,431.9 L1070.7,434.6 L1073.6,438.4 L1076.5,441.0 L1079.5,443.9 L1082.4,447.0 L1085.3,450.8 L1088.3,453.4 L1091.2,456.2 L1094.1,459.0 L1097.1,461.9 L1100.0,465.1 L1102.9,468.0 L1105.9,471.1 L1108.8,473.3 L1111.7,476.3 L1114.7,478.7 L1117.6,481.5 L1120.5,484.3 L1123.5,487.3 L1126.4,489.2 L1129.3,491.7 L1132.3,494.6 L1135.2,496.9 L1138.2,498.8 L1141.1,501.7 L1144.0,504.2 L1147.0,506.2 L1149.9,508.6 L1152.8,510.6 L1155.8,512.3 L1158.7,514.8 L1161.6,516.6 L1164.6,518.2 L1167.5,520.4 L1170.4,522.9 L1173.4,524.5 L1176.3,526.2 L1179.2,528.3 L1182.2,530.1 L1185.1,531.5 L1188.0,533.6 L1191.0,535.7 L1193.9,536.8 L1196.8,538.9 L1199.8,540.3 L1202.7,542.1 L1205.6,544.3 L1208.6,545.6 L1211.5,547.6 L1214.5,549.2 L1217.4,550.7 L1220.3,551.9 L1223.3,553.7 L1226.2,555.7 L1229.1,557.0 L1232.1,558.0 L1235.0,559.9 L1237.9,561.4 L1240.9,562.9 L1243.8,564.3 L1246.7,566.1 L1249.7,567.3 L1252.6,569.0 L1255.5,570.5 L1258.5,571.8 L1261.4,573.1 L1264.3,573.8 L1267.3,575.1 L1270.2,576.6 L1273.1,578.2 L1276.1,579.3 L1279.0,580.4 L1281.9,582.3 L1284.9,583.1 L1287.8,584.1 L1290.7,585.5 L1293.7,587.1 L1296.6,588.0 L1299.6,589.3 L1302.5,589.6 L1305.4,591.2 L1308.4,591.9 L1311.3,593.0 L1314.2,594.1 L1317.2,595.1 L1320.1,596.4 L1323.0,596.9 L1326.0,598.1 L1328.9,599.0 L1331.8,600.1 L1334.8,601.0 L1337.7,601.5 L1340.6,603.1 L1343.6,603.9 L1346.5,604.4 L1349.4,605.6 L1352.4,606.9 L1355.3,607.8 L1358.2,608.2 L1361.2,609.0 L1364.1,610.5 L1367.0,611.2 L1370.0,612.0 L1372.9,612.7 L1375.8,613.9 L1378.8,614.2 L1381.7,615.6 L1384.7,616.4 L1387.6,617.0 L1390.5,617.8 L1393.5,618.9 L1396.4,619.5 L1399.3,620.3 L1402.3,621.0 L1405.2,622.3 L1408.1,622.5 L1411.1,623.7 L1414.0,624.4 L1416.9,625.7 L1419.9,625.7 L1422.8,626.9 L1425.7,627.3 L1428.7,628.7 L1431.6,628.7 L1434.5,630.1 L1437.5,630.6 L1440.4,630.9 L1443.3,631.8 L1446.3,632.3 L1449.2,633.2 L1452.1,634.2 L1455.1,634.5 L1458.0,635.6 L1460.9,636.2 L1463.9,636.2 L1466.8,636.8 L1469.8,637.9 L1472.7,638.2 L1475.6,638.8 L1478.6,640.0 L1481.5,640.3 L1484.4,640.7 L1487.4,641.5 L1490.3,642.1 L1493.2,643.0 L1496.2,643.2 L1499.1,643.9 L1502.0,644.2 L1505.0,645.4 L1507.9,646.1 L1510.8,645.9 L1513.8,647.1 L1516.7,647.9 L1519.6,648.3 L1522.6,648.8 L1525.5,648.9 L1528.4,650.1 L1531.4,650.0 L1534.3,651.0 L1537.2,651.4 L1540.2,651.8 L1543.1,652.5 L1546.0,653.0 L1549.0,653.0 L1551.9,653.5 L1554.9,654.4 L1557.8,654.5 L1560.7,655.3 L1563.7,655.2 L1566.6,655.7 L1569.5,656.3 L1572.5,656.7 L1575.4,657.4 L1578.3,657.7 L1581.3,658.1 L1584.2,658.8 L1587.1,659.2 L1590.1,659.9 L1593.0,660.5 L1595.9,661.5 L1598.9,661.6 L1601.8,662.3 L1604.7,663.1 L1607.7,663.3 L1610.6,663.7 L1613.5,664.5 L1616.5,665.2 L1619.4,665.3 L1622.3,666.3 L1625.3,666.6 L1628.2,667.1 L1631.1,667.7 L1634.1,668.1 L1637.0,668.3 L1640.0,668.8 L1642.9,669.1 L1645.8,670.3 L1648.8,670.6 L1651.7,671.3 L1654.6,671.1 L1657.6,671.8 L1660.5,672.2 L1663.4,672.2 L1666.4,673.0 L1669.3,673.4 L1672.2,673.6 L1675.2,674.0 L1678.1,674.2 L1681.0,674.5 L1684.0,675.3 L1686.9,675.3 L1689.8,675.6 L1692.8,676.7 L1695.7,677.0 L1698.6,676.9 L1701.6,677.3 L1704.5,677.4 L1707.4,678.4 L1710.4,678.2 L1713.3,679.0 L1716.2,679.3 L1719.2,679.0 L1722.1,679.3 L1725.1,680.0 L1728.0,680.0 L1730.9,681.1 L1733.9,681.5 L1736.8,681.5 L1739.7,681.6 L1742.7,681.9 L1745.6,682.1 L1748.5,682.9 L1751.5,682.9 L1754.4,683.3 L1757.3,684.0 L1760.3,684.5 L1763.2,684.6 L1766.1,685.3 L1769.1,685.5 L1772.0,685.5 L1774.9,685.8 L1777.9,686.0 L1780.8,686.8 L1783.7,686.9 L1786.7,687.6 L1789.6,687.6 L1792.5,688.2 L1795.5,688.4 L1798.4,688.6 L1801.4,689.1 L1804.3,689.4 L1807.2,689.2 L1810.2,690.1 L1813.1,689.8 L1816.0,690.5 L1819.0,690.8 L1821.9,691.3 L1824.8,691.2 L1827.8,691.9 L1830.7,692.3 L1833.6,692.2 L1836.6,692.7 L1839.5,692.8 L1842.4,693.4 L1845.4,693.8 L1848.3,693.7 L1851.2,693.6 L1854.2,694.6 L1857.1,694.6 L1860.0,694.5 L1863.0,695.3 L1865.9,695.3 L1868.8,695.3 L1871.8,695.7 L1874.7,696.2 L1877.6,696.2 L1880.6,696.3 L1883.5,696.5 L1886.5,697.1 L1889.4,697.6 L1892.3,697.5 L1895.3,697.8 L1898.2,698.4 L1901.1,698.5 L1904.1,699.1 L1907.0,699.2 L1909.9,699.5 L1912.9,699.4 L1915.8,699.8 L1918.7,700.3 L1921.7,699.7 L1924.6,700.3 L1927.5,700.8 L1930.5,700.6 L1933.4,700.7 L1936.3,701.3 L1939.3,701.1 L1942.2,701.4 L1945.1,701.6 L1948.1,702.4 L1951.0,702.0 L1953.9,703.0 L1956.9,702.9 L1959.8,703.0 L1962.7,703.0 L1965.7,703.4 L1968.6,703.5 L1971.6,704.3 L1974.5,704.2 L1977.4,704.0 L1980.4,705.0 L1983.3,705.3 L1986.2,705.5 L1989.2,705.1 L1992.1,705.5 L1995.0,705.9 L1998.0,705.5 L2000.9,706.0 L2003.8,706.1 L2006.8,706.8 L2009.7,706.3 L2011.0,707.1" stroke="#ff0000"/>
<path d="M250.0,854.2 L251.0,869.3 L252.1,923.8 L253.1,900.0 L254.1,852.5 L255.1,881.7 L256.2,883.4 L257.2,855.8 L258.2,896.8 L259.2,851.6 L260.3,866.8 L261.3,870.1 L262.3,862.2 L263.4,865.6 L264.4,868.9 L265.4,875.2 L266.4,843.4 L267.5,856.3 L268.5,855.7 L269.5,836.9 L270.5,823.3 L271.6,859.0 L272.6,830.9 L273.6,829.5 L274.6,848.3 L275.7,834.9 L276.7,828.6 L277.7,836.5 L278.8,809.4 L279.8,829.1 L280.8,816.0 L281.8,804.4 L282.9,820.4 L283.9,826.7 L284.9,800.7 L285.9,812.0 L287.0,798.5 L288.0,810.5 L289.0,807.1 L290.1,787.6 L291.1,805.1 L292.1,796.3 L293.1,794.0 L294.2,795.5 L295.2,779.0 L296.2,787.0 L297.2,788.0 L298.3,758.0 L299.3,780.5 L300.3,761.4 L301.4,761.0 L302.4,746.1 L303.4,761.9 L304.4,744.5 L305.5,760.8 L306.5,736.5 L307.5,742.4 L308.5,733.2 L309.6,737.5 L310.6,721.2 L311.6,719.0 L312.7,736.7 L313.7,735.4 L314.7,727.8 L315.7,738.5 L316.8,713.4 L317.8,734.1 L318.8,710.6 L319.8,736.6 L320.9,724.9 L321.9,724.2 L322.9,736.3 L323.9,730.2 L325.0,730.3 L326.0,706.2 L327.0,716.7 L328.1,707.5 L329.1,711.3 L330.1,712.1 L331.1,733.4 L332.2,709.8 L333.2,715.6 L334.2,722.2 L335.2,734.1 L336.3,738.4 L337.3,731.1 L338.3,716.5 L339.4,728.5 L340.4,735.3 L341.4,716.2 L342.4,737.7 L343.5,729.6 L344.5,738.0 L345.5,741.9 L346.5,743.1 L347.6,739.7 L348.6,741.8 L349.6,732.2 L350.7,742.2 L351.7,732.3 L352.7,743.9 L353.7,746.4 L354.8,754.1 L355.8,743.8 L356.8,733.7 L357.8,748.7 L358.9,739.9 L359.9,755.1 L360.9,745.3 L362.0,745.0 L363.0,759.4 L364.0,745.0 L365.0,743.5 L366.1,743.2 L367.1,746.3 L368.1,735.7 L369.1,747.2 L370.2,756.5 L371.2,746.6 L372.2,750.7 L373.2,755.4 L374.3,751.9 L375.3,748.6 L376.3,749.5 L377.4,748.7 L378.4,732.9 L379.4,737.6 L380.4,732.8 L381.5,729.3 L382.5,735.8 L383.5,727.6 L384.5,733.6 L385.6,730.7 L386.6,716.1 L387.6,722.6 L388.7,718.9 L389.7,724.7 L390.7,706.2 L391.7,705.9 L392.8,712.4 L393.8,707.4 L394.8,712.0 L395.8,701.4 L396.9,696.1 L397.9,713.4 L398.9,694.0 L400.0,690.1 L401.0,692.1 L402.0,692.4 L403.0,688.1 L404.1,694.9 L405.1,704.1 L406.1,682.0 L407.1,688.4 L408.2,693.8 L409.2,698.3 L410.2,700.1 L411.3,677.1 L412.3,686.2 L413.3,693.9 L414.3,671.7 L415.4,684.3 L416.4,672.6 L417.4,686.8 L418.4,690.0 L419.5,678.7 L420.5,664.1 L421.5,664.4 L422.5,672.3 L423.6,682.3 L424.6,665.6 L425.6,675.5 L426.7,667.7 L427.7,663.1 L428.7,673.2 L429.7,662.1 L430.8,662.6 L431.8,671.6 L432.8,663.7 L433.8,670.0 L434.9,662.2 L435.9,652.1 L436.9,658.3 L438.0,668.2 L439.0,659.4 L440.0,668.5 L441.0,643.1 L442.1,650.7 L443.1,660.6 L444.1,657.6 L445.1,653.5 L446.2,655.1 L447.2,659.5 L448.2,653.7 L449.3,649.4 L450.3,648.8 L451.3,650.5 L452.3,641.0 L453.4,648.8 L454.4,646.5 L455.4,649.9 L456.4,641.3 L457.5,628.9 L458.5,640.9 L459.5,648.1 L460.6,641.7 L461.6,640.8 L462.6,633.6 L463.6,631.8 L464.7,640.0 L465.7,623.0 L466.7,641.9 L467.7,641.2 L468.8,642.5 L469.8,620.9 L470.8,619.5 L471.8,638.1 L472.9,624.8 L473.9,620.7 L474.9,622.6 L476.0,628.7 L477.0,615.3 L478.0,622.6 L479.0,626.0 L480.1,626.6 L481.1,608.0 L482.1,627.0 L483.1,616.7 L484.2,615.7 L485.2,617.9 L486.2,609.8 L487.3,623.9 L488.3,606.0 L489.3,613.2 L490.3,602.7 L491.4,612.7 L492.4,618.6 L493.4,617.0 L494.4,597.3 L495.5,608.3 L496.5,613.8 L497.5,595.6 L498.6,599.9 L499.6,606.2 L500.6,605.8 L501.6,597.7 L502.7,601.4 L503.7,601.1 L504.7,592.3 L505.7,598.7 L506.8,595.8 L507.8,597.7 L508.8,592.1 L509.8,586.7 L510.9,587.9 L511.9,598.8 L512.9,579.6 L514.0,577.5 L515.0,572.9 L516.0,592.4 L517.0,594.6 L518.1,575.0 L519.1,574.6 L520.1,571.9 L521.1,580.6 L522.2,576.8 L523.2,584.0 L524.2,568.1 L525.3,583.6 L526.3,572.6 L527.3,580.2 L528.3,579.3 L529.4,581.2 L530.4,570.4 L531.4,572.5 L532.4,570.6 L533.5,560.9 L534.5,567.9 L535.5,577.7 L536.6,576.6 L537.6,554.4 L538.6,569.4 L539.6,560.7 L540.7,555.5 L541.7,555.1 L542.7,570.5 L543.7,574.0 L544.8,562.8 L545.8,559.0 L546.8,561.7 L547.9,569.0 L548.9,566.6 L549.9,549.6 L550.9,552.9 L552.0,568.4 L553.0,559.0 L554.0,562.8 L555.0,565.4 L556.1,561.7 L557.1,563.9 L558.1,559.1 L559.1,551.3 L560.2,550.1 L561.2,569.4 L562.2,545.6 L563.3,561.9 L564.3,566.3 L565.3,550.6 L566.3,546.0 L567.4,554.4 L568.4,552.6 L569.4,555.7 L570.4,554.8 L571.5,567.0 L572.5,547.2 L573.5,566.9 L574.6,545.2 L575.6,566.5 L576.6,551.9 L577.6,561.3 L578.7,543.8 L579.7,554.4 L580.7,559.8 L581.7,558.4 L582.8,562.6 L583.8,546.8 L584.8,552.6 L585.9,557.5 L586.9,543.4 L587.9,562.5 L588.9,552.3 L590.0,548.1 L591.0,547.3 L592.0,557.3 L593.0,542.8 L594.1,547.3 L595.1,548.5 L596.1,547.2 L597.2,558.2 L598.2,554.7 L599.2,561.8 L600.2,556.8 L601.3,546.9 L602.3,547.3 L603.3,542.3 L604.3,544.9 L605.4,553.2 L606.4,555.9 L607.4,545.3 L608.4,546.1 L609.5,556.7 L610.5,560.0 L611.5,539.1 L612.6,538.4 L613.6,554.3 L614.6,547.7 L615.6,545.6 L616.7,550.1 L617.7,552.6 L618.7,535.9 L619.7,556.4 L620.8,555.7 L621.8,542.4 L622.8,543.1 L623.9,537.9 L624.9,544.6 L625.9,535.0 L626.9,542.1 L628.0,550.1 L629.0,540.1 L630.0,546.9 L631.0,531.1 L632.1,546.9 L633.1,528.4 L634.1,529.8 L635.2,541.0 L636.2,530.6 L637.2,525.7 L638.2,524.3 L639.3,540.1 L640.3,521.5 L641.3,521.8 L642.3,541.9 L643.4,537.5 L644.4,527.4 L645.4,522.7 L646.5,537.9 L647.5,535.5 L648.5,532.3 L649.5,528.5 L650.6,527.9 L651.6,537.8 L652.6,526.9 L653.6,516.4 L654.7,515.8 L655.7,527.0 L656.7,529.6 L657.7,526.8 L658.8,528.8 L659.8,518.5 L660.8,519.7 L661.9,516.9 L662.9,518.8 L663.9,516.0 L664.9,527.5 L666.0,512.6 L667.0,513.4 L668.0,523.3 L669.0,516.2 L670.1,514.6 L671.1,526.8 L672.1,524.5 L673.2,510.5 L674.2,508.7 L675.2,514.8 L676.2,515.8 L677.3,510.8 L678.3,514.9 L679.3,515.9 L680.3,517.8 L681.4,506.5 L682.4,513.3 L683.4,501.9 L684.5,501.5 L685.5,500.7 L686.5,501.2 L687.5,512.5 L688.6,504.5 L689.6,506.0 L690.6,504.6 L691.6,499.7 L692.7,496.3 L693.7,498.0 L694.7,508.6 L695.8,499.2 L696.8,499.9 L697.8,496.6 L698.8,503.6 L699.9,502.2 L700.9,496.3 L701.9,497.5 L702.9,495.0 L704.0,496.9 L705.0,496.4 L706.0,495.3 L707.0,499.2 L708.1,498.9 L709.1,485.1 L710.1,489.0 L711.2,483.4 L712.2,487.2 L713.2,492.1 L714.2,489.4 L715.3,487.0 L716.3,479.8 L717.3,488.2 L718.3,484.7 L719.4,479.9 L720.4,484.9 L721.4,474.8 L722.5,475.7 L723.5,481.8 L724.5,472.3 L725.5,472.3 L726.6,475.5 L727.6,476.8 L728.6,474.5 L729.6,467.6 L730.7,469.2 L731.7,472.6 L732.7,468.0 L733.8,465.4 L734.8,462.6 L735.8,464.1 L736.8,469.3 L737.9,460.2 L738.9,463.7 L739.9,465.7 L740.9,462.8 L742.0,458.1 L743.0,460.2 L744.0,454.6 L745.1,456.7 L746.1,453.6 L747.1,457.6 L748.1,456.3 L749.2,454.3 L750.2,450.0 L751.2,452.2 L752.2,452.5 L753.3,446.5 L754.3,446.5 L755.3,442.5 L756.3,440.9 L757.4,444.4 L758.4,438.1 L759.4,441.0 L760.5,436.0 L761.5,438.9 L762.5,438.3 L763.5,438.3 L764.6,433.0 L765.6,431.7 L766.6,430.4 L767.6,431.3 L768.7,430.5 L769.7,424.4 L770.7,424.5 L771.8,421.3 L772.8,421.2 L773.8,423.2 L774.8,423.1 L775.9,421.9 L776.9,414.5 L777.9,415.3 L778.9,416.9 L780.0,413.1 L781.0,410.6 L782.0,412.0 L783.1,411.0 L784.1,405.0 L785.1,405.8 L786.1,402.0 L787.2,400.7 L788.2,401.4 L789.2,398.1 L790.2,400.0 L791.3,395.7 L792.3,392.9 L793.3,394.2 L794.3,390.2 L795.4,387.3 L796.4,391.6 L797.4,384.8 L798.5,382.8 L799.5,383.4 L800.5,378.8 L801.5,382.1 L802.6,375.9 L803.6,374.1 L804.6,378.4 L805.6,373.9 L806.7,375.0 L807.7,373.2 L808.7,370.6 L809.8,364.5 L810.8,366.9 L811.8,361.7 L812.8,359.9 L813.9,363.7 L814.9,358.8 L815.9,360.1 L816.9,357.3 L818.0,357.4 L819.0,355.1 L820.0,355.8 L821.1,351.2 L822.1,352.2 L823.1,350.6 L824.1,347.7 L825.2,345.9 L826.2,344.0 L827.2,344.1 L828.2,339.9 L829.3,340.1 L830.3,340.2 L831.3,336.7 L832.4,334.9 L833.4,332.9 L834.4,336.1 L835.4,335.3 L836.5,333.8 L837.5,331.7 L838.5,329.8 L839.5,325.1 L840.6,329.1 L841.6,325.3 L842.6,325.4 L843.6,320.6 L844.7,323.4 L845.7,318.4 L846.7,322.3 L847.8,319.6 L848.8,317.2 L849.8,316.8 L850.8,312.9 L851.9,313.4 L852.9,309.6 L853.9,309.7 L854.9,308.5 L856.0,306.6 L857.0,307.0 L858.0,303.5 L859.1,302.1 L860.1,302.8 L861.1,305.9 L862.1,303.0 L863.2,300.0 L864.2,297.4 L865.2,295.8 L866.2,296.7 L867.3,297.1 L868.3,297.3 L869.3,294.0 L870.4,295.5 L871.4,294.4 L872.4,293.7 L873.4,289.5 L874.5,289.5 L875.5,286.8 L876.5,288.7 L877.5,284.5 L878.6,286.4 L879.6,283.8 L880.6,285.2 L881.7,282.6 L882.7,280.9 L883.7,283.0 L884.7,282.5 L885.8,282.7 L886.8,279.5 L887.8,281.4 L888.8,279.6 L889.9,277.8 L890.9,279.5 L891.9,280.7 L892.9,278.1 L894.0,280.4 L895.0,280.7 L896.0,275.6 L897.1,276.8 L898.1,277.3 L899.1,279.2 L900.1,278.6 L901.2,279.2 L902.2,276.2 L903.2,277.7 L904.2,277.1 L905.3,280.9 L906.3,280.7 L907.3,278.5 L908.4,282.2 L909.4,277.9 L910.4,277.5 L911.4,279.9 L912.5,282.0 L913.5,284.1 L914.5,281.9 L915.5,280.2 L916.6,283.4 L917.6,280.6 L918.6,285.9 L919.7,283.7 L920.7,283.1 L921.7,284.0 L922.7,288.6 L923.8,289.7 L924.8,286.3 L925.8,291.6 L926.8,291.5 L927.9,289.2 L928.9,288.4 L929.9,289.7 L931.0,292.0 L932.0,291.5 L933.0,292.1 L934.0,293.4 L935.1,297.4 L936.1,293.7 L937.1,299.2 L938.1,297.5 L939.2,299.9 L940.2,299.5 L941.2,302.6 L942.2,299.5 L943.3,300.8 L944.3,303.0 L945.3,303.9" stroke="#ff0000" stroke-dasharray="23.7 16.5 2.5 16.5"/>
<path d="M945.3,303.9 L946.4,304.0 L947.4,304.8 L948.4,304.7 L949.4,307.7 L950.5,310.3 L951.5,311.4 L952.5,310.2 L953.5,313.9 L954.6,314.8 L955.6,312.7 L956.6,312.7 L957.7,317.1 L958.7,318.6 L959.7,318.2 L960.7,320.7 L961.8,319.4 L962.8,320.7 L963.8,319.7 L964.8,322.0 L965.9,325.6 L966.9,322.9 L967.9,324.1 L969.0,324.7 L970.0,327.8 L971.0,329.4 L972.0,330.1 L973.1,332.7 L974.1,332.9 L975.1,333.8 L976.1,334.7 L977.2,335.4 L978.2,334.7 L979.2,335.9 L980.3,339.2 L981.3,338.5 L982.3,340.5 L983.3,342.4 L984.4,343.3 L985.4,343.0 L986.4,344.2 L987.4,344.8 L988.5,347.8 L989.5,349.1 L990.5,348.0 L991.5,349.6 L992.6,350.2 L993.6,353.0 L994.6,352.9 L995.7,356.1 L996.7,355.0 L997.7,357.4 L998.7,358.5 L999.8,360.7 L1000.8,361.1 L1001.8,362.9 L1002.8,362.9 L1003.9,362.1 L1004.9,364.3 L1005.9,366.9 L1007.0,366.8 L1008.0,369.1 L1009.0,368.5 L1010.0,371.5 L1011.1,371.9 L1012.0,374.8 L1013.1,373.6 L1014.3,375.9 L1015.5,378.7 L1016.7,379.0 L1017.8,380.8 L1019.0,381.9 L1020.2,382.7 L1021.4,384.9 L1022.5,388.0 L1023.7,389.1 L1024.9,389.4 L1026.1,391.8 L1027.2,393.7 L1028.4,395.1 L1029.6,394.6 L1030.8,396.4 L1031.9,399.9 L1033.1,399.6 L1034.3,402.3 L1035.4,403.3 L1036.6,405.3 L1037.8,404.8 L1039.0,408.3 L1040.1,409.5 L1041.3,409.4 L1042.5,411.9 L1043.7,411.7 L1044.8,415.0 L1046.0,415.4 L1047.2,417.4 L1048.4,418.9 L1049.5,418.6 L1050.7,421.8 L1051.9,421.5 L1053.1,423.0 L1054.2,424.9 L1055.4,425.9 L1056.6,427.9 L1057.7,428.4 L1058.9,430.5 L1060.1,432.1 L1061.3,433.8 L1062.4,434.1 L1063.6,435.2 L1064.8,437.0 L1066.0,438.4 L1067.1,440.2 L1068.3,440.9 L1069.5,442.0 L1070.7,443.0 L1071.8,445.0 L1073.0,446.2 L1074.2,446.6 L1075.4,448.2 L1076.5,449.3 L1077.7,451.1 L1078.9,452.2 L1080.1,453.2 L1081.2,454.9 L1082.4,456.4 L1083.6,457.2 L1084.7,459.1 L1085.9,459.4 L1087.1,460.6 L1088.3,462.6 L1089.4,463.7 L1090.6,465.1 L1091.8,466.6 L1093.0,467.3 L1094.1,468.9 L1095.3,469.9 L1096.5,471.0 L1097.7,472.2 L1098.8,473.8 L1100.0,474.4 L1101.2,475.6 L1102.4,476.9 L1103.5,478.2 L1104.7,478.8 L1105.9,480.5 L1107.0,481.1 L1108.2,482.6 L1109.4,483.8 L1110.6,485.0 L1111.7,486.1 L1112.9,487.3 L1114.1,487.9 L1115.3,489.2 L1116.4,490.7 L1117.6,491.5 L1118.8,493.0 L1120.0,493.8 L1121.1,494.9 L1122.3,496.1 L1123.5,497.4 L1124.7,497.6 L1125.8,498.7 L1127.0,499.7 L1128.2,500.9 L1129.4,501.8 L1130.5,503.6 L1131.7,503.9 L1132.9,505.2 L1134.0,506.5 L1135.2,507.2 L1136.4,508.0 L1137.6,509.0 L1138.7,510.1 L1139.9,511.0 L1141.1,512.1 L1142.3,513.0 L1143.4,513.6 L1144.6,515.3 L1145.8,516.3 L1147.0,516.9 L1148.1,517.4 L1149.3,519.0 L1150.5,519.4 L1151.7,520.4 L1152.8,521.2 L1154.0,522.6 L1155.2,523.3 L1156.3,523.9 L1157.5,524.8 L1158.7,525.7 L1159.9,526.5 L1161.0,527.6 L1162.2,528.7 L1163.4,528.8 L1164.6,530.3 L1165.7,531.1 L1166.9,531.4 L1168.1,532.9 L1169.3,533.6 L1170.4,534.3 L1171.6,534.6 L1172.8,535.7 L1174.0,536.7 L1175.1,537.3 L1176.3,537.7 L1177.5,539.0 L1178.6,539.5 L1179.8,540.1 L1181.0,541.0 L1182.2,541.5 L1183.3,542.5 L1184.5,542.9 L1185.7,544.5 L1186.9,544.5 L1188.0,545.4 L1189.2,546.1 L1190.4,546.9 L1191.6,547.5 L1192.7,548.7 L1193.9,548.8 L1195.1,550.2 L1196.3,550.4 L1197.4,551.6 L1198.6,551.7 L1199.8,552.1 L1201.0,553.5 L1202.1,553.5 L1203.3,554.7 L1204.5,555.5 L1205.6,555.6 L1206.8,556.3 L1208.0,557.2 L1209.2,558.1 L1210.3,558.7 L1211.5,559.1 L1212.7,559.8 L1213.9,560.6 L1215.0,560.7 L1216.2,562.0 L1217.4,562.6 L1218.6,562.6 L1219.7,563.6 L1220.9,564.3 L1222.1,564.9 L1223.3,565.0 L1224.4,565.6 L1225.6,566.3 L1226.8,566.8 L1227.9,567.8 L1229.1,568.6 L1230.3,569.0 L1231.5,569.9 L1232.6,570.1 L1233.8,570.7 L1235.0,571.0 L1236.2,572.3 L1237.3,572.7 L1238.5,573.5 L1239.7,574.0 L1240.9,573.9 L1242.0,574.9 L1243.2,575.4 L1244.4,576.2 L1245.6,576.1 L1246.7,577.2 L1247.9,577.7 L1249.1,578.1 L1250.3,578.4 L1251.4,579.4 L1252.6,579.4 L1253.8,580.2 L1254.9,580.5 L1256.1,581.3 L1257.3,581.8 L1258.5,582.6 L1259.6,583.2 L1260.8,583.7 L1262.0,584.0 L1263.2,584.8 L1264.3,585.3 L1265.5,585.7 L1266.7,586.4 L1267.9,587.1 L1269.0,587.1 L1270.2,588.0 L1271.4,588.2 L1272.6,588.5 L1273.7,589.1 L1274.9,589.7 L1276.1,589.9 L1277.2,590.9 L1278.4,590.9 L1279.6,591.6 L1280.8,592.3 L1281.9,592.7 L1283.1,593.1 L1284.3,593.5 L1285.5,594.0 L1286.6,594.3 L1287.8,594.7 L1289.0,595.5 L1290.2,595.3 L1291.3,595.7 L1292.5,596.3 L1293.7,596.7 L1294.9,597.8 L1296.0,597.8 L1297.2,598.6 L1298.4,598.7 L1299.6,598.8 L1300.7,599.8" stroke="#ff0000" stroke-dasharray="22.5 12 1.5 12"/>
<path d="M1300.7,599.8 L1301.9,600.2 L1303.1,600.0 L1304.2,601.0 L1305.4,601.2 L1306.6,601.3 L1307.8,601.8 L1308.9,602.6 L1310.1,602.5 L1311.3,603.3 L1312.5,603.6 L1313.6,604.0 L1314.8,604.1 L1316.0,605.1 L1317.2,605.2 L1318.3,605.7 L1319.5,606.1 L1320.7,606.2 L1321.9,606.9 L1323.0,607.0 L1324.2,607.9 L1325.4,607.8 L1326.5,608.0 L1327.7,608.6 L1328.9,608.9 L1330.1,609.8 L1331.2,609.6 L1332.4,610.5 L1333.6,610.1 L1334.8,610.5 L1335.9,611.0 L1337.1,611.8 L1338.3,612.0 L1339.5,612.2 L1340.6,612.6 L1341.8,613.3 L1343.0,613.2 L1344.2,614.0 L1345.3,614.0 L1346.5,614.6 L1347.7,615.1 L1348.9,615.1 L1350.0,615.3 L1351.2,615.7 L1352.4,616.0 L1353.5,616.2 L1354.7,616.9 L1355.9,617.4 L1357.1,617.6 L1358.2,618.4 L1359.4,618.7 L1360.6,618.9 L1361.8,619.3 L1362.9,619.2 L1364.1,620.0 L1365.3,619.7 L1366.5,620.0 L1367.6,620.4 L1368.8,621.0 L1370.0,621.7 L1371.2,621.4 L1372.3,622.1 L1373.5,622.6 L1374.7,623.2 L1375.8,623.3 L1377.0,623.4 L1378.2,623.6 L1379.4,624.3 L1380.5,624.9 L1381.7,625.3 L1382.9,625.4 L1384.1,625.4 L1385.2,625.6 L1386.4,625.9 L1387.6,626.5 L1388.8,627.0 L1389.9,627.0 L1391.1,627.8 L1392.3,627.8 L1393.5,628.5 L1394.6,628.6 L1395.8,629.2 L1397.0,629.0 L1398.2,629.6 L1399.3,630.2 L1400.5,629.8 L1401.7,630.9 L1402.8,630.9 L1404.0,631.5 L1405.2,631.2 L1406.4,631.7 L1407.5,632.1 L1408.7,632.3 L1409.9,632.6 L1411.1,633.1 L1412.2,632.8 L1413.4,633.5 L1414.6,633.6 L1415.8,634.3 L1416.9,634.6 L1418.1,634.4 L1419.3,634.6 L1420.5,635.3 L1421.6,635.6 L1422.8,635.7 L1424.0,636.1 L1425.1,636.4 L1426.3,636.2 L1427.5,636.4 L1428.7,636.4 L1429.8,637.0 L1431.0,637.0 L1432.2,637.7 L1433.4,637.9 L1434.5,638.4 L1435.7,638.4 L1436.9,638.3 L1438.1,638.7 L1439.2,639.0 L1440.4,639.3 L1441.6,639.9 L1442.8,639.9 L1443.9,639.9 L1445.1,640.1 L1446.3,640.6 L1447.4,640.4 L1448.6,641.0 L1449.8,641.6 L1451.0,641.9 L1452.1,641.8 L1453.3,642.1 L1454.5,642.1 L1455.7,642.6 L1456.8,642.8 L1458.0,643.2 L1459.2,643.7 L1460.4,643.8 L1461.5,643.5 L1462.7,643.8 L1463.9,644.5 L1465.1,645.0 L1466.2,644.9 L1467.4,645.4 L1468.6,645.2 L1469.8,645.4 L1470.9,646.3 L1472.1,646.4 L1473.3,646.3 L1474.4,646.9 L1475.6,647.0 L1476.8,647.4 L1478.0,647.5 L1479.1,647.8 L1480.3,648.3 L1481.5,648.1 L1482.7,648.6 L1483.8,649.1 L1485.0,648.5 L1486.2,648.9 L1487.4,649.3 L1488.5,649.7 L1489.7,649.9 L1490.9,650.5 L1492.1,650.1 L1493.2,650.5 L1494.4,650.5 L1495.6,650.9 L1496.7,651.5 L1497.9,651.3 L1499.1,652.3 L1500.3,652.4 L1501.4,652.0 L1502.6,652.9 L1503.8,652.6 L1505.0,653.1 L1506.1,653.1 L1507.3,653.3 L1508.5,653.9 L1509.7,654.4 L1510.8,654.0 L1512.0,654.3 L1513.2,654.8 L1514.4,655.4 L1515.5,655.2 L1516.7,655.9 L1517.9,655.8 L1519.1,656.0 L1520.2,656.5 L1521.4,656.2 L1522.6,656.7 L1523.7,656.5 L1524.9,657.2 L1526.1,657.8 L1527.3,657.3 L1528.4,657.5 L1529.6,658.2 L1530.8,658.7 L1532.0,658.6 L1533.1,659.2 L1534.3,658.8 L1535.5,659.6 L1536.7,659.2 L1537.8,659.9 L1539.0,659.7 L1540.2,660.4 L1541.4,659.9 L1542.5,660.4 L1543.7,661.1 L1544.9,661.2 L1546.0,661.2 L1547.2,661.3 L1548.4,662.0 L1549.6,661.5 L1550.7,661.7 L1551.9,661.8 L1553.1,662.6 L1554.3,663.0 L1555.4,662.5 L1556.6,663.3 L1557.8,663.5 L1559.0,663.2 L1560.1,663.7 L1561.3,663.9 L1562.5,663.7 L1563.7,664.6 L1564.8,664.1 L1566.0,664.3 L1567.2,665.0 L1568.4,665.0 L1569.5,665.5 L1570.7,665.5 L1571.9,665.3 L1573.0,665.8 L1574.2,666.4 L1575.4,666.0 L1576.6,666.1 L1577.7,666.9 L1578.9,666.4 L1580.1,666.9 L1581.3,667.6 L1582.4,667.6 L1583.6,667.2 L1584.8,667.3 L1586.0,667.9 L1587.1,668.2 L1588.3,668.5 L1589.5,668.2 L1590.7,668.6 L1591.8,668.8 L1593.0,668.8 L1594.2,669.3 L1595.3,669.4 L1596.5,669.5 L1597.7,670.0 L1598.9,669.7 L1600.0,670.2 L1601.2,670.5 L1602.4,670.3 L1603.6,670.2 L1604.7,670.4 L1605.9,671.2 L1607.1,671.4 L1608.3,671.5 L1609.4,671.1 L1610.6,671.5 L1611.8,672.3 L1613.0,672.1 L1614.1,672.2 L1615.3,672.8 L1616.5,673.0 L1617.7,672.6 L1618.8,673.1 L1620.0,673.4 L1621.2,673.6 L1622.3,673.8 L1623.5,673.9 L1624.7,673.5 L1625.9,673.8 L1627.0,673.9 L1628.2,674.5 L1629.4,674.6 L1630.6,675.1 L1631.7,674.6 L1632.9,674.7 L1634.1,674.8 L1635.3,675.1 L1636.4,675.9 L1637.6,675.8 L1638.8,675.7 L1640.0,676.1 L1641.1,676.4 L1642.3,676.2 L1643.5,676.1 L1644.6,676.9 L1645.8,677.0 L1647.0,676.7 L1648.2,677.2 L1649.3,677.1 L1650.5,677.5 L1651.7,677.9 L1652.9,678.0 L1654.0,677.9 L1655.2,678.4 L1656.4,678.2 L1657.6,678.7 L1658.7,678.5 L1659.9,679.0 L1661.1,679.1 L1662.3,679.3 L1663.4,679.6 L1664.6,679.8 L1665.8,680.1 L1667.0,679.6 L1668.1,680.4 L1669.3,680.3 L1670.5,680.0 L1671.6,680.0 L1672.8,680.4 L1674.0,680.7 L1675.2,681.0 L1676.3,681.4 L1677.5,681.5 L1678.7,681.7 L1679.9,681.9 L1681.0,682.0 L1682.2,682.3 L1683.4,682.2 L1684.6,681.8 L1685.7,682.4 L1686.9,682.4 L1688.1,682.7 L1689.3,682.6 L1690.4,683.3 L1691.6,682.8 L1692.8,683.1 L1693.9,683.0 L1695.1,683.8 L1696.3,684.0 L1697.5,684.2 L1698.6,683.7 L1699.8,683.9 L1701.0,684.6 L1702.2,684.7 L1703.3,684.1 L1704.5,684.6 L1705.7,684.4 L1706.9,685.2 L1708.0,685.3 L1709.2,685.6 L1710.4,685.6 L1711.6,685.4 L1712.7,685.5 L1713.9,685.9 L1715.1,685.8 L1716.3,686.4 L1717.4,686.1 L1718.6,686.3 L1719.8,686.8 L1720.9,686.4 L1722.1,686.6 L1723.3,686.5 L1724.5,687.3 L1725.6,687.1 L1726.8,687.2 L1728.0,687.7 L1729.2,687.9 L1730.3,687.4 L1731.5,687.4 L1732.7,688.2 L1733.9,688.4 L1735.0,688.2 L1736.2,688.5 L1737.4,688.0 L1738.6,688.6 L1739.7,688.3 L1740.9,688.5 L1742.1,688.6 L1743.2,689.1 L1744.4,689.3 L1745.6,689.3 L1746.8,689.7 L1747.9,689.2 L1749.1,689.5 L1750.3,689.6 L1751.5,690.0 L1752.6,690.4 L1753.8,690.0 L1755.0,690.7 L1756.2,690.4 L1757.3,690.4 L1758.5,690.5 L1759.7,691.1 L1760.9,690.6 L1762.0,691.1 L1763.2,691.1 L1764.4,691.4 L1765.5,691.4 L1766.7,691.3 L1767.9,691.5 L1769.1,692.3 L1770.2,692.1 L1771.4,692.5 L1772.6,692.7 L1773.8,692.5 L1774.9,692.9 L1776.1,692.6 L1777.3,692.6 L1778.5,693.2 L1779.6,692.9 L1780.8,693.0 L1782.0,693.3 L1783.2,693.4 L1784.3,694.0 L1785.5,694.1 L1786.7,694.1 L1787.9,694.3 L1789.0,693.9 L1790.2,694.1 L1791.4,694.3 L1792.5,694.6 L1793.7,694.2 L1794.9,694.4 L1796.1,694.7 L1797.2,694.7 L1798.4,695.0 L1799.6,695.0 L1800.8,695.3 L1801.9,695.5 L1803.1,695.7 L1804.3,696.1 L1805.5,695.8 L1806.6,696.0 L1807.8,696.5 L1809.0,695.9 L1810.2,696.5 L1811.3,696.2 L1812.5,696.3 L1813.7,697.1 L1814.8,697.1 L1816.0,697.0 L1817.2,697.4 L1818.4,697.7 L1819.5,697.4 L1820.7,697.4 L1821.9,697.1 L1823.1,698.1 L1824.2,698.0 L1825.4,697.6 L1826.6,698.0 L1827.8,697.9 L1828.9,698.6 L1830.1,698.1 L1831.3,698.1 L1832.5,698.8 L1833.6,698.4 L1834.8,698.4 L1836.0,698.4 L1837.2,698.6 L1838.3,698.9 L1839.5,698.9 L1840.7,699.3 L1841.8,699.6 L1843.0,699.0 L1844.2,699.0 L1845.4,699.8 L1846.5,699.8 L1847.7,700.1 L1848.9,699.5 L1850.1,700.1 L1851.2,699.8 L1852.4,699.8 L1853.6,700.1 L1854.8,700.8 L1855.9,700.9 L1857.1,701.0 L1858.3,700.2 L1859.5,700.6 L1860.6,700.2 L1861.8,700.4 L1863.0,701.8 L1864.1,700.2 L1865.3,702.2 L1866.5,702.5 L1867.7,701.3 L1868.8,701.8 L1870.0,703.0 L1871.2,702.4 L1872.4,702.8 L1873.5,702.8 L1874.7,700.6 L1875.9,703.2 L1877.1,703.0 L1878.2,701.8 L1879.4,700.8 L1880.6,702.1 L1881.8,703.0 L1882.9,702.3 L1884.1,703.3 L1885.3,702.7 L1886.5,704.1 L1887.6,705.3 L1888.8,701.2 L1890.0,704.1 L1891.1,705.2 L1892.3,701.4 L1893.5,703.6 L1894.7,705.6 L1895.8,705.1 L1897.0,703.5 L1898.2,703.4 L1899.4,701.7 L1900.5,704.5 L1901.7,706.4 L1902.9,706.6 L1904.1,706.0 L1905.2,704.8 L1906.4,703.5 L1907.6,703.8 L1908.8,703.2 L1909.9,704.2 L1911.1,702.5 L1912.3,705.1 L1913.4,707.1 L1914.6,704.6 L1915.8,707.7 L1917.0,706.1 L1918.1,707.5 L1919.3,708.8 L1920.5,703.7 L1921.7,705.5 L1922.8,704.2 L1924.0,704.1 L1925.2,707.6 L1926.4,703.5 L1927.5,707.0 L1928.7,709.0 L1929.9,706.2 L1931.1,707.8 L1932.2,704.6 L1933.4,708.3 L1934.6,708.5 L1935.8,707.5 L1936.9,709.5 L1938.1,707.5 L1939.3,707.8 L1940.4,704.5 L1941.6,709.3 L1942.8,706.6 L1944.0,708.7 L1945.1,707.6 L1946.3,705.7 L1947.5,707.7 L1948.7,710.4 L1949.8,708.9 L1951.0,705.8 L1952.2,708.4 L1953.4,710.6 L1954.5,705.6 L1955.7,705.5 L1956.9,710.3 L1958.1,709.1 L1959.2,710.1 L1960.4,707.7 L1961.6,709.2 L1962.7,706.8 L1963.9,706.7 L1965.1,709.3 L1966.3,711.1 L1967.4,709.4 L1968.6,706.5 L1969.8,706.5 L1971.0,710.9 L1972.1,708.7 L1973.3,707.8 L1974.5,708.3 L1975.7,712.2 L1976.8,709.7 L1978.0,707.8 L1979.2,708.1 L1980.4,707.5 L1981.5,712.7 L1982.7,709.9 L1983.9,709.9 L1985.1,707.7 L1986.2,709.0 L1987.4,712.2 L1988.6,712.5 L1989.7,710.2 L1990.9,709.3 L1992.1,713.3 L1993.3,709.7 L1994.4,709.4 L1995.6,708.7 L1996.8,710.8 L1998.0,712.9 L1999.1,711.1 L2000.3,712.9 L2001.5,710.1 L2002.7,712.2 L2003.8,709.3 L2005.0,711.0 L2006.2,710.2 L2007.4,710.2 L2008.5,712.9 L2009.7,709.8 L2010.9,711.5 L2011.0,710.7" stroke="#ff0000" stroke-dasharray="20.5 10.7 1.5 10.7" stroke-dashoffset="-6"/>
<path d="M250.0,854.0 L251.0,801.3 L252.1,857.0 L253.1,748.7 L254.1,811.2 L255.1,782.9 L256.2,832.4 L257.2,757.5 L258.2,838.2 L259.2,798.4 L260.3,837.9 L261.3,786.4 L262.3,778.4 L263.4,816.5 L264.4,835.6 L265.4,763.1 L266.4,827.8 L267.5,820.7 L268.5,734.9 L269.5,780.9 L270.5,789.6 L271.6,813.6 L272.6,781.8 L273.6,723.6 L274.6,760.9 L275.7,759.0 L276.7,758.1 L277.7,803.1 L278.8,739.7 L279.8,725.4 L280.8,752.9 L281.8,762.1 L282.9,787.9 L283.9,750.1 L284.9,717.1 L285.9,771.1 L287.0,727.5 L288.0,737.5 L289.0,716.4 L290.1,692.3 L291.1,724.1 L292.1,724.9 L293.1,680.3 L294.2,694.8 L295.2,684.7 L296.2,669.4 L297.2,668.9 L298.3,707.3 L299.3,698.0 L300.3,666.8 L301.4,681.1 L302.4,642.7 L303.4,680.3 L304.4,658.5 L305.5,666.5 L306.5,639.2 L307.5,639.4 L308.5,634.6 L309.6,653.6 L310.6,630.8 L311.6,630.2 L312.7,641.7 L313.7,636.9 L314.7,618.5 L315.7,613.6 L316.8,626.7 L317.8,604.7 L318.8,612.3 L319.8,625.4 L320.9,625.7 L321.9,606.1 L322.9,601.6 L323.9,620.4 L325.0,615.7 L326.0,605.7 L327.0,612.7 L328.1,601.5 L329.1,618.0 L330.1,613.7 L331.1,618.5 L332.2,602.7 L333.2,617.4 L334.2,610.6 L335.2,614.3 L336.3,610.6 L337.3,618.8 L338.3,617.7 L339.4,619.6 L340.4,606.0 L341.4,610.8 L342.4,607.5 L343.5,616.1 L344.5,619.2 L345.5,610.5 L346.5,625.3 L347.6,621.4 L348.6,622.5 L349.6,625.7 L350.7,635.0 L351.7,627.0 L352.7,615.2 L353.7,617.1 L354.8,631.5 L355.8,622.5 L356.8,633.7 L357.8,627.7 L358.9,624.5 L359.9,633.4 L360.9,619.3 L362.0,621.5 L363.0,621.3 L364.0,624.0 L365.0,635.7 L366.1,632.9 L367.1,632.5 L368.1,627.3 L369.1,611.3 L370.2,617.6 L371.2,622.4 L372.2,631.7 L373.2,617.9 L374.3,621.9 L375.3,628.7 L376.3,615.6 L377.4,624.9 L378.4,620.5 L379.4,618.0 L380.4,619.8 L381.5,615.4 L382.5,605.5 L383.5,623.6 L384.5,624.3 L385.6,619.8 L386.6,606.9 L387.6,612.3 L388.7,614.2 L389.7,595.7 L390.7,611.8 L391.7,593.4 L392.8,612.5 L393.8,594.4 L394.8,610.3 L395.8,591.6 L396.9,597.7 L397.9,603.6 L398.9,606.3 L400.0,598.6 L401.0,600.8 L402.0,589.4 L403.0,597.0 L404.1,587.5 L405.1,599.6 L406.1,595.0 L407.1,584.8 L408.2,593.4 L409.2,575.5 L410.2,594.6 L411.3,588.0 L412.3,578.2 L413.3,584.4 L414.3,586.2 L415.4,581.1 L416.4,585.6 L417.4,573.1 L418.4,569.3 L419.5,568.8 L420.5,565.1 L421.5,568.1 L422.5,572.9 L423.6,573.9 L424.6,566.7 L425.6,568.5 L426.7,571.1 L427.7,562.2 L428.7,547.3 L429.7,558.0 L430.8,542.4 L431.8,555.7 L432.8,561.3 L433.8,548.0 L434.9,556.4 L435.9,534.2 L436.9,554.1 L438.0,534.7 L439.0,548.5 L440.0,535.0 L441.0,536.0 L442.1,529.0 L443.1,525.8 L444.1,540.7 L445.1,539.6 L446.2,524.7 L447.2,534.9 L448.2,525.9 L449.3,539.2 L450.3,521.4 L451.3,530.6 L452.3,536.4 L453.4,527.8 L454.4,529.9 L455.4,532.2 L456.4,529.1 L457.5,530.9 L458.5,517.0 L459.5,531.1 L460.6,521.5 L461.6,529.6 L462.6,524.1 L463.6,524.1 L464.7,527.9 L465.7,508.9 L466.7,524.5 L467.7,511.2 L468.8,521.7 L469.8,508.0 L470.8,512.4 L471.8,504.5 L472.9,517.8 L473.9,506.0 L474.9,508.9 L476.0,514.9 L477.0,505.0 L478.0,514.9 L479.0,506.1 L480.1,514.3 L481.1,509.8 L482.1,513.6 L483.1,506.8 L484.2,497.5 L485.2,501.2 L486.2,508.8 L487.3,507.6 L488.3,492.8 L489.3,492.0 L490.3,491.1 L491.4,498.0 L492.4,488.2 L493.4,497.9 L494.4,489.2 L495.5,499.0 L496.5,486.1 L497.5,499.1 L498.6,486.2 L499.6,479.4 L500.6,481.2 L501.6,493.6 L502.7,479.8 L503.7,480.6 L504.7,494.9 L505.7,482.4 L506.8,486.1 L507.8,483.4 L508.8,481.1 L509.8,488.9 L510.9,470.8 L511.9,477.0 L512.9,477.7 L514.0,481.7 L515.0,481.8 L516.0,466.6 L517.0,467.8 L518.1,469.9 L519.1,471.2 L520.1,479.2 L521.1,478.1 L522.2,481.2 L523.2,470.1 L524.2,469.8 L525.3,463.8 L526.3,478.2 L527.3,477.8 L528.3,478.4 L529.4,473.4 L530.4,475.9 L531.4,469.1 L532.4,474.1 L533.5,463.4 L534.5,471.6 L535.5,471.2 L536.6,468.0 L537.6,472.0 L538.6,468.5 L539.6,459.7 L540.7,455.5 L541.7,460.7 L542.7,457.8 L543.7,471.5 L544.8,464.0 L545.8,467.6 L546.8,471.2 L547.9,468.4 L548.9,469.6 L549.9,463.5 L550.9,467.2 L552.0,470.8 L553.0,460.6 L554.0,465.6 L555.0,470.4 L556.1,456.4 L557.1,453.0 L558.1,460.9 L559.1,468.8 L560.2,461.5 L561.2,455.3 L562.2,470.4 L563.3,460.4 L564.3,459.7 L565.3,452.6 L566.3,459.5 L567.4,470.0 L568.4,459.5 L569.4,466.1 L570.4,468.9 L571.5,451.0 L572.5,464.3 L573.5,453.7 L574.6,460.7 L575.6,467.3 L576.6,457.7 L577.6,464.6 L578.7,456.3 L579.7,462.2 L580.7,464.7 L581.7,461.0 L582.8,456.8 L583.8,464.7 L584.8,453.1 L585.9,456.7 L586.9,465.3 L587.9,459.8 L588.9,451.9 L590.0,462.9 L591.0,467.3 L592.0,453.0 L593.0,467.1 L594.1,449.6 L595.1,467.4 L596.1,460.7 L597.2,453.9 L598.2,451.9 L599.2,456.8 L600.2,456.5 L601.3,457.7 L602.3,457.7 L603.3,449.4 L604.3,452.1 L605.4,450.0 L606.4,462.4 L607.4,449.5 L608.4,458.9 L609.5,447.8 L610.5,458.1 L611.5,453.7 L612.6,454.6 L613.6,458.9 L614.6,450.3 L615.6,457.1 L616.7,460.8 L617.7,457.0 L618.7,453.9 L619.7,455.1 L620.8,458.3 L621.8,441.6 L622.8,458.9 L623.9,448.6 L624.9,455.8 L625.9,439.8 L626.9,443.3 L628.0,447.8 L629.0,447.4 L630.0,453.6 L631.0,441.6 L632.1,439.6 L633.1,446.4 L634.1,437.2 L635.2,450.4 L636.2,437.4 L637.2,432.6 L638.2,443.5 L639.3,435.6 L640.3,447.5 L641.3,432.1 L642.3,438.6 L643.4,439.6 L644.4,436.9 L645.4,428.0 L646.5,435.4 L647.5,427.4 L648.5,424.8 L649.5,439.5 L650.6,426.8 L651.6,422.4 L652.6,420.5 L653.6,435.1 L654.7,434.2 L655.7,431.5 L656.7,431.8 L657.7,421.9 L658.8,426.9 L659.8,429.2 L660.8,420.0 L661.9,428.2 L662.9,428.9 L663.9,423.5 L664.9,425.2 L666.0,413.6 L667.0,419.3 L668.0,417.8 L669.0,417.8 L670.1,427.1 L671.1,426.5 L672.1,409.9 L673.2,418.1 L674.2,410.0 L675.2,416.8 L676.2,421.1 L677.3,404.9 L678.3,407.8 L679.3,405.6 L680.3,410.8 L681.4,411.4 L682.4,396.6 L683.4,398.4 L684.5,400.4 L685.5,409.8 L686.5,405.5 L687.5,402.3 L688.6,407.5 L689.6,396.7 L690.6,403.1 L691.6,392.7 L692.7,392.2 L693.7,403.1 L694.7,400.7 L695.8,396.7 L696.8,388.0 L697.8,390.0 L698.8,400.1 L699.9,391.3 L700.9,383.5 L701.9,386.2 L702.9,391.7 L704.0,395.7 L705.0,388.2 L706.0,384.0 L707.0,392.5 L708.1,383.7 L709.1,382.3 L710.1,386.7 L711.2,384.9 L712.2,389.8 L713.2,382.3 L714.2,384.6 L715.3,380.7 L716.3,383.4 L717.3,386.1 L718.3,372.5 L719.4,384.2 L720.4,383.4 L721.4,374.1 L722.5,367.7 L723.5,373.9 L724.5,376.3 L725.5,368.1 L726.6,367.0 L727.6,368.8 L728.6,375.8 L729.6,370.4 L730.7,370.9 L731.7,368.2 L732.7,368.5 L733.8,364.1 L734.8,363.9 L735.8,357.3 L736.8,369.0 L737.9,356.2 L738.9,364.3 L739.9,360.6 L740.9,361.1 L742.0,357.0 L743.0,356.1 L744.0,352.2 L745.1,347.5 L746.1,353.7 L747.1,352.4 L748.1,347.4 L749.2,353.9 L750.2,352.8 L751.2,344.3 L752.2,344.3 L753.3,339.8 L754.3,345.0 L755.3,337.0 L756.3,337.3 L757.4,344.1 L758.4,332.6 L759.4,340.6 L760.5,335.0 L761.5,329.2 L762.5,335.4 L763.5,331.2 L764.6,332.1 L765.6,325.8 L766.6,323.6 L767.6,319.7 L768.7,318.5 L769.7,321.6 L770.7,318.7 L771.8,313.1 L772.8,313.1 L773.8,314.9 L774.8,308.2 L775.9,306.1 L776.9,312.0 L777.9,303.7 L778.9,305.8 L780.0,310.0 L781.0,298.8 L782.0,300.5 L783.1,296.7 L784.1,301.7 L785.1,297.0 L786.1,290.5 L787.2,296.3 L788.2,296.3 L789.2,293.2 L790.2,285.5 L791.3,292.1 L792.3,287.1 L793.3,282.4 L794.3,277.9 L795.4,281.1 L796.4,275.0 L797.4,274.2 L798.5,278.3 L799.5,278.0 L800.5,275.5 L801.5,272.6 L802.6,275.4 L803.6,274.5 L804.6,265.2 L805.6,271.1 L806.7,270.7 L807.7,267.6 L808.7,264.8 L809.8,267.1 L810.8,258.6 L811.8,266.0 L812.8,261.2 L813.9,260.5 L814.9,260.1 L815.9,257.0 L816.9,254.1 L818.0,252.4 L819.0,250.4 L820.0,247.7 L821.1,254.5 L822.1,254.3 L823.1,250.4 L824.1,245.5 L825.2,245.2 L826.2,247.8 L827.2,243.4 L828.2,241.4 L829.3,243.8 L830.3,237.8 L831.3,235.1 L832.4,236.5 L833.4,239.8 L834.4,239.6 L835.4,231.1 L836.5,235.1 L837.5,227.6 L838.5,231.6 L839.5,225.3 L840.6,225.0 L841.6,229.0 L842.6,221.6 L843.6,224.2 L844.7,221.3 L845.7,226.2 L846.7,222.9 L847.8,217.2 L848.8,222.6 L849.8,218.1 L850.8,212.4 L851.9,212.4 L852.9,216.2 L853.9,216.4 L854.9,206.5 L856.0,210.3 L857.0,205.5 L858.0,209.1 L859.1,201.2 L860.1,207.0 L861.1,203.8 L862.1,203.5 L863.2,200.9 L864.2,201.6 L865.2,202.0 L866.2,193.7 L867.3,195.2 L868.3,192.8 L869.3,194.3 L870.4,194.8 L871.4,192.0 L872.4,194.8 L873.4,186.5 L874.5,187.1 L875.5,186.0 L876.5,184.8 L877.5,189.0 L878.6,189.1 L879.6,185.4 L880.6,188.1 L881.7,184.3 L882.7,186.0 L883.7,180.3 L884.7,182.8 L885.8,179.7 L886.8,186.1 L887.8,184.9 L888.8,186.4 L889.9,186.4 L890.9,182.9 L891.9,178.7 L892.9,180.0 L894.0,183.1 L895.0,183.4 L896.0,183.4 L897.1,177.3 L898.1,177.4 L899.1,183.1 L900.1,176.7 L901.2,180.8 L902.2,180.0 L903.2,183.6 L904.2,176.4 L905.3,182.7 L906.3,178.6 L907.3,181.9 L908.4,176.8 L909.4,181.3 L910.4,182.6 L911.4,182.1 L912.5,182.9 L913.5,181.6 L914.5,180.9 L915.5,182.6 L916.6,177.7 L917.6,183.3 L918.6,178.9 L919.7,182.3 L920.7,182.8 L921.7,180.1 L922.7,181.6 L923.8,186.6 L924.8,186.3 L925.8,185.4 L926.8,187.7 L927.9,185.6 L928.9,186.8 L929.9,186.8 L931.0,190.2 L932.0,184.9 L933.0,191.7 L934.0,185.6 L935.1,188.7 L936.1,194.5 L937.1,189.1 L938.1,190.8 L939.2,189.9 L940.2,195.8 L941.2,191.3 L942.2,193.7 L943.3,194.1 L944.3,193.8 L945.3,197.1 L946.4,196.4 L947.4,201.5 L948.4,198.7 L949.4,201.4 L950.5,197.3 L951.5,203.8 L952.5,203.0 L953.5,201.8 L954.6,204.3 L955.6,201.6 L956.6,203.4 L957.7,207.9 L958.7,207.2 L959.7,210.8 L960.7,210.5 L961.8,212.8 L962.8,213.2 L963.8,209.6 L964.8,215.0 L965.9,215.0 L966.9,213.0 L967.9,213.8 L969.0,215.7 L970.0,219.6 L971.0,218.3 L972.0,220.2 L973.1,221.0 L974.1,222.8 L975.1,222.9 L976.1,222.1 L977.2,227.8 L978.2,227.0 L979.2,225.5 L980.3,227.4 L981.3,232.1 L982.3,233.3 L983.3,232.4 L984.4,232.9 L985.4,234.4 L986.4,235.1 L987.4,237.0 L988.5,238.6 L989.5,237.9 L990.5,242.4 L991.5,240.6 L992.6,241.3 L993.6,244.5 L994.6,244.8 L995.7,247.4 L996.7,246.6 L997.7,249.1 L998.7,248.9 L999.8,252.4 L1000.8,251.8 L1001.8,255.3 L1002.8,254.2 L1003.9,256.6 L1004.9,257.3 L1005.9,260.2 L1007.0,259.7 L1008.0,261.6 L1009.0,263.7 L1010.0,262.7 L1011.1,265.2 L1012.0,267.4 L1014.9,269.4 L1017.8,272.9 L1020.8,277.8 L1023.7,282.2 L1026.6,286.1 L1029.6,288.9 L1032.5,292.1 L1035.4,295.5 L1038.4,300.0 L1041.3,303.3 L1044.2,307.8 L1047.2,311.7 L1050.1,315.4 L1053.1,318.4 L1056.0,323.1 L1058.9,326.4 L1061.9,329.9 L1064.8,333.7 L1067.7,337.5 L1070.7,340.5 L1073.6,344.5 L1076.5,347.7 L1079.5,351.2 L1082.4,355.3 L1085.3,358.0 L1088.3,361.7 L1091.2,365.4 L1094.1,368.7 L1097.1,371.8 L1100.0,375.4 L1102.9,378.2 L1105.9,381.7 L1108.8,385.0 L1111.7,387.9 L1114.7,391.1 L1117.6,394.8 L1120.5,397.4 L1123.5,401.2 L1126.4,403.8 L1129.3,407.5 L1132.3,410.3 L1135.2,413.2 L1138.2,416.6 L1141.1,418.9 L1144.0,422.3 L1147.0,425.4 L1149.9,428.3 L1152.8,430.9 L1155.8,433.5 L1158.7,437.1 L1161.6,439.8 L1164.6,442.1 L1167.5,445.2 L1170.4,447.3 L1173.4,450.0 L1176.3,453.2 L1179.2,455.0 L1182.2,457.9 L1185.1,460.5 L1188.0,463.0 L1191.0,465.4 L1193.9,467.0 L1196.8,469.9 L1199.8,472.1 L1202.7,474.2 L1205.6,476.2 L1208.6,478.9 L1211.5,480.6 L1214.5,483.0 L1217.4,484.7 L1220.3,486.8 L1223.3,489.3 L1226.2,490.6 L1229.1,493.0 L1232.1,494.2 L1235.0,496.8 L1237.9,498.3 L1240.9,499.8 L1243.8,501.8 L1246.7,503.5 L1249.7,505.3 L1252.6,506.6 L1255.5,508.2 L1258.5,509.4 L1261.4,511.2 L1264.3,512.6 L1267.3,513.8 L1270.2,515.0 L1273.1,517.0 L1276.1,517.9 L1279.0,519.5 L1281.9,520.1 L1284.9,521.6 L1287.8,522.8 L1290.7,524.5 L1293.7,525.4 L1296.6,527.0 L1299.6,527.8 L1302.5,529.0 L1305.4,530.2 L1308.4,531.3 L1311.3,532.7 L1314.2,533.8 L1317.2,535.3 L1320.1,535.9 L1323.0,536.8 L1326.0,538.5 L1328.9,539.7 L1331.8,540.4 L1334.8,541.0 L1337.7,542.4 L1340.6,543.1 L1343.6,544.2 L1346.5,545.2 L1349.4,545.8 L1352.4,547.2 L1355.3,548.1 L1358.2,548.9 L1361.2,549.7 L1364.1,551.1 L1367.0,552.2 L1370.0,553.4 L1372.9,554.1 L1375.8,554.8 L1378.8,555.8 L1381.7,556.7 L1384.7,557.8 L1387.6,559.4 L1390.5,559.7 L1393.5,561.1 L1396.4,561.9 L1399.3,563.2 L1402.3,564.3 L1405.2,565.0 L1408.1,566.1 L1411.1,566.4 L1414.0,567.3 L1416.9,568.1 L1419.9,569.0 L1422.8,569.6 L1425.7,571.0 L1428.7,571.9 L1431.6,572.5 L1434.5,572.8 L1437.5,573.7 L1440.4,574.6 L1443.3,574.9 L1446.3,575.8 L1449.2,576.8 L1452.1,577.4 L1455.1,578.0 L1458.0,578.6 L1460.9,579.8 L1463.9,580.1 L1466.8,580.9 L1469.8,581.8 L1472.7,582.2 L1475.6,583.6 L1478.6,583.8 L1481.5,584.9 L1484.4,585.6 L1487.4,585.9 L1490.3,586.5 L1493.2,587.6 L1496.2,588.6 L1499.1,588.7 L1502.0,590.0 L1505.0,590.2 L1507.9,591.1 L1510.8,591.5 L1513.8,592.3 L1516.7,593.3 L1519.6,594.1 L1522.6,594.2 L1525.5,595.6 L1528.4,596.0 L1531.4,596.6 L1534.3,597.2 L1537.2,597.5 L1540.2,598.9 L1543.1,599.4 L1546.0,599.4 L1549.0,600.1 L1551.9,600.6 L1554.9,601.4 L1557.8,601.9 L1560.7,602.9 L1563.7,603.2 L1566.6,604.0 L1569.5,604.4 L1572.5,604.3 L1575.4,605.4 L1578.3,605.8 L1581.3,605.9 L1584.2,606.8 L1587.1,607.5 L1590.1,607.6 L1593.0,608.9 L1595.9,609.6 L1598.9,610.3 L1601.8,610.1 L1604.7,611.1 L1607.7,611.7 L1610.6,612.5 L1613.5,613.7 L1616.5,614.3 L1619.4,615.3 L1622.3,616.3 L1625.3,616.8 L1628.2,618.0 L1631.1,618.8 L1634.1,619.7 L1637.0,619.6 L1640.0,620.7 L1642.9,621.9 L1645.8,622.6 L1648.8,622.7 L1651.7,623.9 L1654.6,624.6 L1657.6,625.1 L1660.5,625.1 L1663.4,626.2 L1666.4,626.1 L1669.3,627.1 L1672.2,627.7 L1675.2,628.4 L1678.1,628.5 L1681.0,629.1 L1684.0,629.6 L1686.9,629.8 L1689.8,630.5 L1692.8,631.3 L1695.7,631.7 L1698.6,631.7 L1701.6,632.1 L1704.5,633.2 L1707.4,633.5 L1710.4,633.4 L1713.3,634.3 L1716.2,634.4 L1719.2,635.2 L1722.1,635.7 L1725.1,635.7 L1728.0,636.5 L1730.9,636.2 L1733.9,636.7 L1736.8,637.2 L1739.7,637.7 L1742.7,638.0 L1745.6,638.7 L1748.5,638.5 L1751.5,638.8 L1754.4,639.7 L1757.3,639.8 L1760.3,640.2 L1763.2,640.3 L1766.1,640.7 L1769.1,641.3 L1772.0,641.0 L1774.9,641.5 L1777.9,641.7 L1780.8,642.2 L1783.7,642.3 L1786.7,642.6 L1789.6,642.9 L1792.5,643.1 L1795.5,643.6 L1798.4,643.5 L1801.4,644.0 L1804.3,643.9 L1807.2,644.6 L1810.2,644.6 L1813.1,645.3 L1816.0,645.2 L1819.0,646.2 L1821.9,646.2 L1824.8,646.1 L1827.8,647.0 L1830.7,647.2 L1833.6,646.8 L1836.6,647.6 L1839.5,648.1 L1842.4,647.6 L1845.4,648.0 L1848.3,648.4 L1851.2,649.0 L1854.2,649.3 L1857.1,649.2 L1860.0,649.5 L1863.0,649.8 L1865.9,650.4 L1868.8,650.6 L1871.8,651.0 L1874.7,651.7 L1877.6,651.7 L1880.6,651.9 L1883.5,652.2 L1886.5,652.7 L1889.4,653.3 L1892.3,653.1 L1895.3,653.7 L1898.2,654.0 L1901.1,654.2 L1904.1,654.4 L1907.0,654.7 L1909.9,654.9 L1912.9,654.9 L1915.8,655.6 L1918.7,655.4 L1921.7,656.2 L1924.6,656.0 L1927.5,656.7 L1930.5,656.9 L1933.4,656.9 L1936.3,657.4 L1939.3,657.9 L1942.2,657.8 L1945.1,658.1 L1948.1,658.3 L1951.0,658.1 L1953.9,658.5 L1956.9,659.2 L1959.8,658.8 L1962.7,659.2 L1965.7,660.0 L1968.6,660.3 L1971.6,660.0 L1974.5,660.0 L1977.4,660.7 L1980.4,661.1 L1983.3,660.9 L1986.2,661.4 L1989.2,661.1 L1992.1,661.8 L1995.0,661.3 L1998.0,662.3 L2000.9,662.1 L2003.8,662.4 L2006.8,662.7 L2009.7,662.7 L2011.0,662.7" stroke="#0000ff"/>
<path d="M250.0,841.1 L251.0,841.3 L252.1,805.8 L253.1,778.0 L254.1,750.0 L255.1,788.8 L256.2,791.2 L257.2,747.6 L258.2,747.4 L259.2,857.4 L260.3,815.7 L261.3,765.7 L262.3,786.7 L263.4,845.7 L264.4,833.9 L265.4,824.8 L266.4,771.0 L267.5,779.6 L268.5,797.4 L269.5,727.1 L270.5,779.8 L271.6,747.1 L272.6,811.0 L273.6,722.4 L274.6,786.0 L275.7,804.2 L276.7,736.3 L277.7,803.0 L278.8,798.6 L279.8,711.8 L280.8,778.1 L281.8,707.3 L282.9,753.8 L283.9,745.1 L284.9,721.2 L285.9,728.9 L287.0,765.7 L288.0,719.5 L289.0,701.5 L290.1,739.7 L291.1,716.2 L292.1,737.1 L293.1,693.4 L294.2,695.6 L295.2,722.3 L296.2,699.7 L297.2,695.6 L298.3,676.2 L299.3,660.3 L300.3,705.0 L301.4,656.9 L302.4,690.4 L303.4,663.6 L304.4,686.5 L305.5,659.1 L306.5,678.8 L307.5,660.6 L308.5,646.3 L309.6,662.9 L310.6,658.6 L311.6,657.2 L312.7,648.7 L313.7,640.0 L314.7,651.9 L315.7,634.6 L316.8,651.3 L317.8,648.8 L318.8,640.6 L319.8,652.1 L320.9,634.6 L321.9,639.7 L322.9,650.3 L323.9,638.7 L325.0,647.1 L326.0,644.1 L327.0,652.3 L328.1,653.4 L329.1,646.2 L330.1,648.2 L331.1,631.1 L332.2,645.5 L333.2,649.1 L334.2,637.8 L335.2,642.2 L336.3,640.9 L337.3,654.0 L338.3,638.5 L339.4,641.7 L340.4,632.5 L341.4,644.3 L342.4,650.9 L343.5,659.7 L344.5,660.5 L345.5,646.3 L346.5,664.0 L347.6,644.5 L348.6,661.5 L349.6,645.6 L350.7,652.8 L351.7,645.3 L352.7,665.9 L353.7,666.0 L354.8,649.3 L355.8,659.5 L356.8,653.1 L357.8,659.2 L358.9,660.7 L359.9,649.2 L360.9,667.7 L362.0,652.4 L363.0,655.8 L364.0,645.2 L365.0,642.9 L366.1,646.7 L367.1,649.4 L368.1,663.0 L369.1,661.2 L370.2,650.2 L371.2,648.8 L372.2,653.3 L373.2,657.2 L374.3,643.6 L375.3,654.0 L376.3,643.5 L377.4,647.5 L378.4,650.2 L379.4,643.5 L380.4,647.2 L381.5,646.4 L382.5,628.6 L383.5,628.3 L384.5,629.9 L385.6,630.2 L386.6,628.7 L387.6,623.7 L388.7,626.4 L389.7,634.2 L390.7,639.7 L391.7,625.3 L392.8,624.2 L393.8,624.0 L394.8,628.8 L395.8,629.9 L396.9,632.1 L397.9,617.1 L398.9,623.6 L400.0,613.4 L401.0,623.4 L402.0,607.8 L403.0,621.5 L404.1,611.4 L405.1,615.1 L406.1,609.2 L407.1,602.6 L408.2,605.5 L409.2,593.7 L410.2,592.3 L411.3,602.6 L412.3,600.2 L413.3,607.4 L414.3,587.3 L415.4,598.8 L416.4,596.2 L417.4,597.7 L418.4,599.8 L419.5,594.1 L420.5,594.1 L421.5,591.5 L422.5,593.5 L423.6,584.2 L424.6,590.4 L425.6,592.4 L426.7,580.6 L427.7,598.2 L428.7,592.0 L429.7,596.1 L430.8,580.3 L431.8,583.1 L432.8,578.4 L433.8,572.9 L434.9,571.5 L435.9,576.1 L436.9,589.2 L438.0,572.6 L439.0,583.6 L440.0,572.7 L441.0,567.4 L442.1,569.1 L443.1,578.7 L444.1,573.5 L445.1,573.3 L446.2,569.9 L447.2,564.8 L448.2,568.4 L449.3,577.0 L450.3,560.1 L451.3,570.9 L452.3,559.5 L453.4,557.4 L454.4,559.4 L455.4,553.6 L456.4,571.2 L457.5,558.0 L458.5,553.1 L459.5,548.6 L460.6,549.1 L461.6,551.7 L462.6,555.4 L463.6,558.6 L464.7,566.0 L465.7,563.2 L466.7,548.5 L467.7,555.6 L468.8,561.3 L469.8,542.9 L470.8,558.1 L471.8,547.5 L472.9,554.8 L473.9,544.1 L474.9,549.6 L476.0,546.2 L477.0,536.8 L478.0,549.7 L479.0,550.1 L480.1,542.0 L481.1,539.1 L482.1,549.9 L483.1,536.9 L484.2,546.5 L485.2,536.0 L486.2,534.1 L487.3,532.9 L488.3,525.7 L489.3,529.3 L490.3,527.4 L491.4,523.0 L492.4,531.9 L493.4,528.9 L494.4,519.4 L495.5,521.2 L496.5,535.8 L497.5,518.8 L498.6,522.7 L499.6,533.5 L500.6,515.4 L501.6,520.4 L502.7,527.3 L503.7,510.4 L504.7,510.3 L505.7,526.7 L506.8,520.6 L507.8,511.0 L508.8,514.3 L509.8,508.6 L510.9,520.5 L511.9,520.6 L512.9,501.9 L514.0,510.0 L515.0,502.2 L516.0,505.7 L517.0,511.5 L518.1,510.1 L519.1,498.7 L520.1,500.8 L521.1,501.9 L522.2,500.4 L523.2,505.6 L524.2,507.1 L525.3,497.5 L526.3,499.1 L527.3,491.1 L528.3,496.5 L529.4,507.6 L530.4,498.2 L531.4,498.9 L532.4,499.3 L533.5,498.1 L534.5,502.4 L535.5,491.1 L536.6,491.8 L537.6,502.7 L538.6,494.6 L539.6,503.3 L540.7,486.8 L541.7,499.1 L542.7,492.6 L543.7,492.4 L544.8,500.1 L545.8,485.1 L546.8,492.3 L547.9,486.9 L548.9,488.6 L549.9,497.7 L550.9,489.3 L552.0,496.8 L553.0,481.6 L554.0,500.8 L555.0,499.9 L556.1,494.4 L557.1,485.0 L558.1,493.9 L559.1,484.9 L560.2,488.4 L561.2,481.8 L562.2,482.5 L563.3,484.2 L564.3,484.6 L565.3,497.3 L566.3,485.8 L567.4,497.0 L568.4,481.2 L569.4,482.2 L570.4,482.3 L571.5,499.0 L572.5,496.8 L573.5,481.4 L574.6,499.0 L575.6,485.4 L576.6,486.1 L577.6,492.2 L578.7,484.9 L579.7,499.7 L580.7,488.0 L581.7,491.9 L582.8,491.8 L583.8,486.2 L584.8,494.8 L585.9,499.6 L586.9,491.9 L587.9,482.0 L588.9,495.6 L590.0,492.7 L591.0,489.2 L592.0,492.1 L593.0,484.4 L594.1,484.9 L595.1,488.6 L596.1,479.9 L597.2,489.4 L598.2,481.4 L599.2,482.5 L600.2,494.3 L601.3,488.1 L602.3,481.3 L603.3,489.5 L604.3,494.7 L605.4,492.5 L606.4,490.2 L607.4,481.1 L608.4,485.5 L609.5,485.1 L610.5,475.5 L611.5,486.4 L612.6,482.8 L613.6,482.4 L614.6,486.0 L615.6,473.3 L616.7,475.4 L617.7,489.3 L618.7,476.1 L619.7,474.7 L620.8,470.8 L621.8,474.8 L622.8,478.9 L623.9,468.7 L624.9,472.8 L625.9,471.6 L626.9,469.2 L628.0,480.4 L629.0,482.9 L630.0,481.5 L631.0,472.1 L632.1,464.6 L633.1,469.2 L634.1,471.8 L635.2,468.6 L636.2,474.4 L637.2,474.0 L638.2,476.1 L639.3,467.7 L640.3,462.8 L641.3,474.4 L642.3,473.2 L643.4,458.7 L644.4,459.6 L645.4,467.0 L646.5,469.2 L647.5,471.0 L648.5,453.1 L649.5,455.4 L650.6,458.9 L651.6,460.4 L652.6,463.7 L653.6,458.9 L654.7,457.4 L655.7,451.6 L656.7,458.2 L657.7,456.2 L658.8,462.0 L659.8,447.6 L660.8,445.6 L661.9,449.0 L662.9,447.7 L663.9,449.2 L664.9,443.4 L666.0,452.1 L667.0,453.4 L668.0,438.0 L669.0,453.4 L670.1,437.9 L671.1,441.0 L672.1,443.4 L673.2,441.4 L674.2,436.9 L675.2,445.2 L676.2,446.3 L677.3,434.6 L678.3,432.6 L679.3,438.0 L680.3,430.6 L681.4,443.7 L682.4,441.3 L683.4,440.1 L684.5,431.7 L685.5,437.4 L686.5,429.5 L687.5,429.8 L688.6,422.7 L689.6,420.6 L690.6,430.7 L691.6,421.4 L692.7,433.8 L693.7,426.0 L694.7,425.3 L695.8,429.9 L696.8,418.5 L697.8,412.5 L698.8,415.2 L699.9,418.3 L700.9,412.0 L701.9,413.3 L702.9,420.1 L704.0,412.9 L705.0,411.3 L706.0,408.4 L707.0,412.4 L708.1,419.1 L709.1,404.3 L710.1,414.4 L711.2,412.2 L712.2,408.3 L713.2,406.3 L714.2,404.9 L715.3,397.2 L716.3,403.6 L717.3,409.2 L718.3,404.1 L719.4,398.9 L720.4,397.5 L721.4,403.1 L722.5,388.7 L723.5,390.6 L724.5,401.2 L725.5,395.5 L726.6,397.0 L727.6,391.6 L728.6,383.1 L729.6,389.5 L730.7,389.8 L731.7,380.7 L732.7,385.4 L733.8,391.0 L734.8,377.2 L735.8,375.9 L736.8,375.6 L737.9,382.7 L738.9,384.5 L739.9,373.0 L740.9,381.4 L742.0,371.7 L743.0,374.9 L744.0,376.7 L745.1,366.8 L746.1,370.5 L747.1,374.5 L748.1,366.5 L749.2,371.2 L750.2,365.5 L751.2,370.7 L752.2,362.5 L753.3,366.8 L754.3,356.0 L755.3,358.3 L756.3,354.7 L757.4,356.8 L758.4,355.7 L759.4,352.6 L760.5,353.7 L761.5,355.8 L762.5,353.4 L763.5,348.2 L764.6,352.8 L765.6,351.6 L766.6,347.0 L767.6,346.3 L768.7,341.7 L769.7,348.4 L770.7,341.5 L771.8,339.6 L772.8,345.8 L773.8,337.3 L774.8,334.8 L775.9,335.7 L776.9,336.0 L777.9,335.8 L778.9,332.1 L780.0,334.0 L781.0,325.2 L782.0,334.0 L783.1,327.4 L784.1,325.9 L785.1,324.5 L786.1,321.3 L787.2,325.7 L788.2,320.3 L789.2,315.0 L790.2,316.2 L791.3,316.1 L792.3,313.2 L793.3,308.9 L794.3,315.6 L795.4,306.3 L796.4,310.7 L797.4,305.9 L798.5,305.1 L799.5,305.4 L800.5,297.2 L801.5,300.6 L802.6,298.9 L803.6,297.2 L804.6,291.6 L805.6,290.5 L806.7,294.1 L807.7,292.6 L808.7,290.2 L809.8,287.0 L810.8,288.3 L811.8,290.3 L812.8,290.7 L813.9,289.1 L814.9,280.6 L815.9,282.8 L816.9,283.2 L818.0,285.2 L819.0,281.7 L820.0,282.8 L821.1,280.6 L822.1,273.5 L823.1,281.0 L824.1,275.8 L825.2,275.0 L826.2,270.6 L827.2,275.4 L828.2,275.1 L829.3,267.8 L830.3,267.9 L831.3,262.7 L832.4,268.0 L833.4,265.6 L834.4,260.5 L835.4,264.8 L836.5,260.8 L837.5,263.1 L838.5,260.7 L839.5,252.7 L840.6,252.6 L841.6,256.9 L842.6,247.8 L843.6,247.3 L844.7,253.2 L845.7,250.7 L846.7,244.0 L847.8,243.3 L848.8,238.9 L849.8,238.3 L850.8,235.6 L851.9,239.6 L852.9,238.3 L853.9,232.4 L854.9,237.4 L856.0,232.6 L857.0,232.2 L858.0,231.3 L859.1,225.5 L860.1,229.7 L861.1,224.5 L862.1,223.9 L863.2,218.9 L864.2,218.7 L865.2,219.4 L866.2,220.7 L867.3,217.0 L868.3,216.9 L869.3,217.9 L870.4,213.6 L871.4,209.0 L872.4,213.5 L873.4,216.4 L874.5,207.0 L875.5,210.4 L876.5,211.6 L877.5,209.3 L878.6,205.0 L879.6,208.4 L880.6,203.6 L881.7,202.9 L882.7,205.0 L883.7,202.8 L884.7,205.4 L885.8,209.1 L886.8,201.5 L887.8,208.5 L888.8,201.8 L889.9,206.0 L890.9,202.5 L891.9,204.5 L892.9,204.9 L894.0,204.3 L895.0,197.2 L896.0,204.2 L897.1,196.4 L898.1,202.1 L899.1,195.1 L900.1,197.4 L901.2,195.6 L902.2,200.2 L903.2,197.1 L904.2,199.4 L905.3,195.9 L906.3,197.7 L907.3,202.7 L908.4,199.8 L909.4,198.8 L910.4,201.4 L911.4,204.3 L912.5,198.2 L913.5,196.4 L914.5,198.0 L915.5,197.6 L916.6,200.4 L917.6,204.0 L918.6,204.6 L919.7,198.9 L920.7,199.8 L921.7,202.1 L922.7,206.9 L923.8,204.1 L924.8,205.0 L925.8,203.3 L926.8,206.1 L927.9,207.0 L928.9,205.2 L929.9,208.0 L931.0,209.8 L932.0,207.0 L933.0,208.4 L934.0,206.3 L935.1,208.0 L936.1,206.9 L937.1,207.7 L938.1,208.6 L939.2,215.7 L940.2,215.1 L941.2,214.6 L942.2,217.0 L943.3,213.0 L944.3,215.1 L945.3,217.5" stroke="#0000ff" stroke-dasharray="23.7 16.5 2.5 16.5"/>
<path d="M945.3,217.5 L946.4,220.3 L947.4,218.8 L948.4,216.6 L949.4,216.9 L950.5,217.8 L951.5,223.7 L952.5,225.5 L953.5,221.2 L954.6,226.7 L955.6,222.4 L956.6,228.5 L957.7,228.5 L958.7,227.9 L959.7,228.8 L960.7,228.0 L961.8,233.3 L962.8,230.1 L963.8,230.9 L964.8,234.8 L965.9,234.5 L966.9,235.0 L967.9,236.2 L969.0,234.5 L970.0,235.4 L971.0,241.1 L972.0,240.4 L973.1,240.8 L974.1,241.4 L975.1,240.6 L976.1,241.1 L977.2,244.2 L978.2,242.3 L979.2,243.3 L980.3,245.8 L981.3,248.0 L982.3,250.6 L983.3,249.4 L984.4,249.8 L985.4,253.8 L986.4,252.1 L987.4,254.0 L988.5,255.1 L989.5,254.6 L990.5,256.1 L991.5,256.9 L992.6,261.2 L993.6,260.9 L994.6,263.2 L995.7,263.7 L996.7,265.1 L997.7,267.7 L998.7,267.4 L999.8,267.8 L1000.8,271.0 L1001.8,270.3 L1002.8,273.2 L1003.9,274.1 L1004.9,275.6 L1005.9,277.9 L1007.0,279.5 L1008.0,281.2 L1009.0,282.0 L1010.0,283.4 L1011.1,285.0 L1012.0,284.5 L1013.1,285.9 L1014.3,286.5 L1015.5,289.0 L1016.7,289.4 L1017.8,291.3 L1019.0,293.2 L1020.2,294.7 L1021.4,297.0 L1022.5,297.7 L1023.7,299.8 L1024.9,299.6 L1026.1,302.7 L1027.2,304.3 L1028.4,304.2 L1029.6,306.5 L1030.8,308.6 L1031.9,309.1 L1033.1,312.1 L1034.3,314.0 L1035.4,315.1 L1036.6,316.4 L1037.8,318.2 L1039.0,320.1 L1040.1,321.6 L1041.3,322.1 L1042.5,324.2 L1043.7,324.8 L1044.8,327.7 L1046.0,327.9 L1047.2,329.8 L1048.4,331.8 L1049.5,332.8 L1050.7,334.6 L1051.9,336.1 L1053.1,338.1 L1054.2,339.4 L1055.4,341.3 L1056.6,342.6 L1057.7,344.2 L1058.9,344.9 L1060.1,347.2 L1061.3,349.0 L1062.4,349.6 L1063.6,351.8 L1064.8,353.4 L1066.0,354.1 L1067.1,356.2 L1068.3,357.3 L1069.5,358.9 L1070.7,361.0 L1071.8,362.1 L1073.0,363.4 L1074.2,365.3 L1075.4,366.3 L1076.5,367.5 L1077.7,369.8 L1078.9,370.5 L1080.1,372.7 L1081.2,374.2 L1082.4,375.2 L1083.6,376.3 L1084.7,378.0 L1085.9,379.6 L1087.1,381.2 L1088.3,382.9 L1089.4,383.6 L1090.6,384.8 L1091.8,387.1 L1093.0,387.6 L1094.1,389.9 L1095.3,391.2 L1096.5,392.6 L1097.7,393.6 L1098.8,394.8 L1100.0,396.5 L1101.2,397.7 L1102.4,399.3 L1103.5,400.2 L1104.7,401.8 L1105.9,403.6 L1107.0,404.6 L1108.2,406.2 L1109.4,407.4 L1110.6,408.2 L1111.7,409.9 L1112.9,410.8 L1114.1,412.0 L1115.3,413.7 L1116.4,414.5 L1117.6,415.8 L1118.8,417.3 L1120.0,418.4 L1121.1,420.1 L1122.3,421.0 L1123.5,422.2 L1124.7,423.6 L1125.8,424.8 L1127.0,426.3 L1128.2,427.5 L1129.4,428.8 L1130.5,429.2 L1131.7,430.4 L1132.9,432.2 L1134.0,433.0 L1135.2,433.9 L1136.4,435.4 L1137.6,436.4 L1138.7,437.4 L1139.9,439.0 L1141.1,440.2 L1142.3,440.9 L1143.4,442.3 L1144.6,443.1 L1145.8,444.7 L1147.0,445.4 L1148.1,446.6 L1149.3,447.4 L1150.5,448.7 L1151.7,449.7 L1152.8,451.2 L1154.0,451.7 L1155.2,453.1 L1156.3,454.0 L1157.5,455.5 L1158.7,456.3 L1159.9,457.3 L1161.0,458.0 L1162.2,458.9 L1163.4,460.4 L1164.6,461.7 L1165.7,462.0 L1166.9,463.3 L1168.1,464.2 L1169.3,464.9 L1170.4,466.4 L1171.6,467.3 L1172.8,468.2 L1174.0,469.5 L1175.1,470.3 L1176.3,470.9 L1177.5,472.5 L1178.6,473.4 L1179.8,474.1 L1181.0,474.6 L1182.2,475.9 L1183.3,476.3 L1184.5,477.4 L1185.7,478.5 L1186.9,479.4 L1188.0,480.6 L1189.2,481.2 L1190.4,482.2 L1191.6,482.9 L1192.7,484.0 L1193.9,484.4 L1195.1,485.9 L1196.3,486.7 L1197.4,487.6 L1198.6,488.4 L1199.8,489.1 L1201.0,489.5 L1202.1,490.9 L1203.3,491.6 L1204.5,492.1 L1205.6,492.6 L1206.8,494.1 L1208.0,494.3 L1209.2,495.0 L1210.3,496.1 L1211.5,497.2 L1212.7,497.4 L1213.9,498.2 L1215.0,499.4 L1216.2,500.0 L1217.4,500.7 L1218.6,501.5 L1219.7,502.4 L1220.9,503.1 L1222.1,503.4 L1223.3,504.2 L1224.4,505.5 L1225.6,506.1 L1226.8,506.6 L1227.9,507.1 L1229.1,508.3 L1230.3,508.4 L1231.5,509.3 L1232.6,510.1 L1233.8,510.9 L1235.0,511.6 L1236.2,512.2 L1237.3,512.5 L1238.5,513.3 L1239.7,514.3 L1240.9,514.8 L1242.0,515.7 L1243.2,515.7 L1244.4,517.1 L1245.6,517.3 L1246.7,517.8 L1247.9,518.2 L1249.1,518.8 L1250.3,520.3 L1251.4,520.7 L1252.6,521.5 L1253.8,522.0 L1254.9,522.2 L1256.1,522.6 L1257.3,523.5 L1258.5,523.9 L1259.6,524.4 L1260.8,525.3 L1262.0,525.9 L1263.2,526.9 L1264.3,527.3 L1265.5,527.2 L1266.7,527.9 L1267.9,528.8 L1269.0,529.5 L1270.2,530.3 L1271.4,530.5 L1272.6,530.9 L1273.7,531.1 L1274.9,532.0 L1276.1,532.9 L1277.2,532.8 L1278.4,533.7 L1279.6,534.6 L1280.8,535.2 L1281.9,534.9 L1283.1,535.6 L1284.3,536.1 L1285.5,537.3 L1286.6,537.6 L1287.8,537.7 L1289.0,538.3 L1290.2,539.1 L1291.3,539.0 L1292.5,539.6 L1293.7,540.7 L1294.9,540.7 L1296.0,541.2 L1297.2,542.3 L1298.4,542.6 L1299.6,543.2 L1300.7,543.6" stroke="#0000ff" stroke-dasharray="22.5 12 1.5 12"/>
<path d="M1300.7,543.6 L1301.9,543.9 L1303.1,544.0 L1304.2,545.0 L1305.4,545.3 L1306.6,545.9 L1307.8,546.4 L1308.9,546.9 L1310.1,546.8 L1311.3,547.3 L1312.5,548.4 L1313.6,548.7 L1314.8,549.3 L1316.0,549.1 L1317.2,550.0 L1318.3,550.0 L1319.5,550.5 L1320.7,550.9 L1321.9,551.5 L1323.0,552.0 L1324.2,552.3 L1325.4,553.2 L1326.5,553.6 L1327.7,554.1 L1328.9,554.8 L1330.1,554.7 L1331.2,555.1 L1332.4,555.6 L1333.6,556.5 L1334.8,556.8 L1335.9,557.3 L1337.1,557.3 L1338.3,557.6 L1339.5,558.3 L1340.6,559.1 L1341.8,559.0 L1343.0,559.9 L1344.2,560.2 L1345.3,560.3 L1346.5,561.0 L1347.7,561.7 L1348.9,561.4 L1350.0,561.9 L1351.2,562.4 L1352.4,562.6 L1353.5,563.2 L1354.7,563.9 L1355.9,564.4 L1357.1,564.6 L1358.2,564.9 L1359.4,565.6 L1360.6,565.4 L1361.8,566.2 L1362.9,566.3 L1364.1,567.1 L1365.3,566.9 L1366.5,567.3 L1367.6,567.5 L1368.8,568.2 L1370.0,568.7 L1371.2,568.7 L1372.3,569.6 L1373.5,569.9 L1374.7,569.8 L1375.8,570.4 L1377.0,570.8 L1378.2,570.7 L1379.4,571.5 L1380.5,571.8 L1381.7,572.3 L1382.9,572.1 L1384.1,572.3 L1385.2,573.0 L1386.4,573.6 L1387.6,573.3 L1388.8,573.7 L1389.9,573.9 L1391.1,575.0 L1392.3,575.1 L1393.5,574.8 L1394.6,575.8 L1395.8,575.8 L1397.0,575.7 L1398.2,576.0 L1399.3,576.5 L1400.5,576.6 L1401.7,577.1 L1402.8,577.3 L1404.0,577.7 L1405.2,577.9 L1406.4,578.5 L1407.5,579.2 L1408.7,579.4 L1409.9,579.5 L1411.1,579.4 L1412.2,580.5 L1413.4,580.0 L1414.6,580.3 L1415.8,581.3 L1416.9,581.4 L1418.1,581.9 L1419.3,581.8 L1420.5,582.6 L1421.6,582.9 L1422.8,582.5 L1424.0,583.6 L1425.1,583.7 L1426.3,584.1 L1427.5,584.1 L1428.7,584.6 L1429.8,585.0 L1431.0,585.3 L1432.2,585.1 L1433.4,585.3 L1434.5,586.0 L1435.7,586.1 L1436.9,586.8 L1438.1,586.7 L1439.2,586.7 L1440.4,587.2 L1441.6,588.0 L1442.8,588.1 L1443.9,587.9 L1445.1,588.2 L1446.3,588.7 L1447.4,589.4 L1448.6,589.4 L1449.8,589.4 L1451.0,589.6 L1452.1,590.0 L1453.3,590.5 L1454.5,590.5 L1455.7,590.7 L1456.8,591.6 L1458.0,591.7 L1459.2,591.9 L1460.4,591.9 L1461.5,592.3 L1462.7,592.9 L1463.9,592.7 L1465.1,593.1 L1466.2,593.1 L1467.4,593.6 L1468.6,593.6 L1469.8,594.4 L1470.9,594.9 L1472.1,594.3 L1473.3,594.8 L1474.4,595.6 L1475.6,595.1 L1476.8,596.0 L1478.0,595.6 L1479.1,596.2 L1480.3,596.7 L1481.5,597.0 L1482.7,597.2 L1483.8,597.1 L1485.0,597.5 L1486.2,597.4 L1487.4,598.4 L1488.5,598.4 L1489.7,598.3 L1490.9,598.7 L1492.1,599.0 L1493.2,599.1 L1494.4,599.3 L1495.6,600.0 L1496.7,599.6 L1497.9,600.5 L1499.1,600.4 L1500.3,600.6 L1501.4,600.8 L1502.6,600.6 L1503.8,601.2 L1505.0,601.6 L1506.1,601.2 L1507.3,601.3 L1508.5,601.5 L1509.7,602.8 L1510.8,601.9 L1512.0,603.9 L1513.2,603.6 L1514.4,604.0 L1515.5,602.7 L1516.7,604.0 L1517.9,603.5 L1519.1,605.6 L1520.2,604.3 L1521.4,604.1 L1522.6,605.0 L1523.7,604.9 L1524.9,604.6 L1526.1,606.8 L1527.3,605.2 L1528.4,607.8 L1529.6,607.5 L1530.8,608.2 L1532.0,608.0 L1533.1,608.8 L1534.3,609.4 L1535.5,605.8 L1536.7,607.0 L1537.8,610.0 L1539.0,608.7 L1540.2,610.6 L1541.4,608.8 L1542.5,608.4 L1543.7,611.0 L1544.9,608.5 L1546.0,609.4 L1547.2,611.8 L1548.4,609.7 L1549.6,611.4 L1550.7,608.8 L1551.9,609.4 L1553.1,614.0 L1554.3,609.6 L1555.4,609.7 L1556.6,608.9 L1557.8,609.5 L1559.0,611.7 L1560.1,613.3 L1561.3,615.2 L1562.5,616.1 L1563.7,612.3 L1564.8,613.4 L1566.0,613.0 L1567.2,613.6 L1568.4,616.3 L1569.5,613.7 L1570.7,616.0 L1571.9,617.0 L1573.0,614.3 L1574.2,614.1 L1575.4,612.7 L1576.6,616.6 L1577.7,617.6 L1578.9,616.8 L1580.1,614.7 L1581.3,617.7 L1582.4,614.8 L1583.6,618.7 L1584.8,619.8 L1586.0,616.1 L1587.1,618.1 L1588.3,617.3 L1589.5,616.7 L1590.7,620.5 L1591.8,617.0 L1593.0,620.3 L1594.2,620.2 L1595.3,616.3 L1596.5,621.1 L1597.7,618.4 L1598.9,618.6 L1600.0,619.3 L1601.2,619.2 L1602.4,619.5 L1603.6,621.8 L1604.7,619.2 L1605.9,618.4 L1607.1,622.4 L1608.3,620.5 L1609.4,621.4 L1610.6,619.3 L1611.8,622.7 L1613.0,622.5 L1614.1,622.8 L1615.3,624.9 L1616.5,619.6 L1617.7,622.7 L1618.8,619.9 L1620.0,622.1 L1621.2,624.0 L1622.3,625.3 L1623.5,622.1 L1624.7,626.2 L1625.9,626.6 L1627.0,626.8 L1628.2,623.9 L1629.4,625.3 L1630.6,624.5 L1631.7,622.1 L1632.9,623.6 L1634.1,627.4 L1635.3,623.4 L1636.4,625.3 L1637.6,626.9 L1638.8,625.4 L1640.0,626.7 L1641.1,626.8 L1642.3,624.2 L1643.5,623.8 L1644.6,627.1 L1645.8,628.0 L1647.0,627.7 L1648.2,630.6 L1649.3,625.5 L1650.5,625.3 L1651.7,630.3 L1652.9,630.8 L1654.0,631.5 L1655.2,631.2 L1656.4,628.2 L1657.6,629.5 L1658.7,630.2 L1659.9,629.9 L1661.1,629.2 L1662.3,631.9 L1663.4,631.8 L1664.6,627.3 L1665.8,633.1 L1667.0,630.1 L1668.1,632.3 L1669.3,634.0 L1670.5,632.2 L1671.6,629.9 L1672.8,632.3 L1674.0,631.4 L1675.2,630.0 L1676.3,630.0 L1677.5,634.1 L1678.7,632.2 L1679.9,632.4 L1681.0,632.1 L1682.2,633.9 L1683.4,634.2 L1684.6,635.4 L1685.7,632.5 L1686.9,634.6 L1688.1,634.2 L1689.3,631.8 L1690.4,636.8 L1691.6,635.4 L1692.8,634.8 L1693.9,635.2 L1695.1,635.5 L1696.3,634.9 L1697.5,635.8 L1698.6,637.9 L1699.8,635.3 L1701.0,637.9 L1702.2,633.3 L1703.3,635.5 L1704.5,638.4 L1705.7,638.0 L1706.9,634.6 L1708.0,636.5 L1709.2,637.2 L1710.4,639.7 L1711.6,635.4 L1712.7,635.9 L1713.9,637.0 L1715.1,637.8 L1716.3,639.9 L1717.4,638.1 L1718.6,640.4 L1719.8,637.4 L1720.9,638.4 L1722.1,641.2 L1723.3,639.2 L1724.5,639.9 L1725.6,639.5 L1726.8,637.5 L1728.0,640.4 L1729.2,637.6 L1730.3,638.4 L1731.5,642.3 L1732.7,642.5 L1733.9,644.1 L1735.0,642.9 L1736.2,640.8 L1737.4,639.7 L1738.6,639.9 L1739.7,640.3 L1740.9,644.7 L1742.1,641.7 L1743.2,642.5 L1744.4,642.6 L1745.6,640.2 L1746.8,643.4 L1747.9,639.7 L1749.1,643.9 L1750.3,641.5 L1751.5,646.3 L1752.6,644.3 L1753.8,643.6 L1755.0,641.3 L1756.2,642.4 L1757.3,642.6 L1758.5,646.9 L1759.7,644.4 L1760.9,644.5 L1762.0,644.4 L1763.2,643.8 L1764.4,645.9 L1765.5,644.7 L1766.7,645.5 L1767.9,646.6 L1769.1,646.3 L1770.2,643.4 L1771.4,648.2 L1772.6,643.6 L1773.8,646.3 L1774.9,648.6 L1776.1,649.2 L1777.3,645.3 L1778.5,646.7 L1779.6,647.4 L1780.8,644.9 L1782.0,646.2 L1783.2,647.5 L1784.3,645.1 L1785.5,648.7 L1786.7,650.4 L1787.9,644.2 L1789.0,650.6 L1790.2,647.5 L1791.4,649.5 L1792.5,647.8 L1793.7,647.7 L1794.9,645.4 L1796.1,646.7 L1797.2,645.3 L1798.4,648.7 L1799.6,649.5 L1800.8,648.0 L1801.9,651.3 L1803.1,651.8 L1804.3,647.3 L1805.5,648.0 L1806.6,647.3 L1807.8,647.5 L1809.0,650.6 L1810.2,651.2 L1811.3,652.7 L1812.5,649.9 L1813.7,649.3 L1814.8,652.9 L1816.0,647.3 L1817.2,650.4 L1818.4,649.1 L1819.5,652.0 L1820.7,649.5 L1821.9,648.3 L1823.1,653.7 L1824.2,653.9 L1825.4,653.8 L1826.6,649.0 L1827.8,650.2 L1828.9,650.6 L1830.1,650.9 L1831.3,651.8 L1832.5,653.8 L1833.6,655.0 L1834.8,653.6 L1836.0,653.8 L1837.2,652.0 L1838.3,651.0 L1839.5,655.5 L1840.7,651.9 L1841.8,655.6 L1843.0,654.4 L1844.2,651.8 L1845.4,651.2 L1846.5,654.6 L1847.7,654.3 L1848.9,653.9 L1850.1,653.8 L1851.2,652.2 L1852.4,656.4 L1853.6,653.9 L1854.8,656.6 L1855.9,656.0 L1857.1,655.8 L1858.3,652.2 L1859.5,652.1 L1860.6,653.7 L1861.8,657.5 L1863.0,652.4 L1864.1,652.1 L1865.3,653.1 L1866.5,653.6 L1867.7,655.8 L1868.8,653.0 L1870.0,657.1 L1871.2,656.1 L1872.4,656.3 L1873.5,657.9 L1874.7,654.9 L1875.9,658.9 L1877.1,655.9 L1878.2,657.3 L1879.4,658.2 L1880.6,655.7 L1881.8,658.7 L1882.9,653.8 L1884.1,657.1 L1885.3,657.1 L1886.5,654.4 L1887.6,657.6 L1888.8,660.4 L1890.0,658.6 L1891.1,656.4 L1892.3,658.3 L1893.5,659.5 L1894.7,659.4 L1895.8,659.5 L1897.0,660.0 L1898.2,657.6 L1899.4,659.9 L1900.5,658.3 L1901.7,657.5 L1902.9,658.2 L1904.1,661.7 L1905.2,660.3 L1906.4,658.9 L1907.6,662.1 L1908.8,660.1 L1909.9,659.7 L1911.1,660.3 L1912.3,659.0 L1913.4,656.6 L1914.6,659.2 L1915.8,658.2 L1917.0,662.7 L1918.1,661.4 L1919.3,657.6 L1920.5,658.1 L1921.7,657.3 L1922.8,662.2 L1924.0,662.0 L1925.2,659.5 L1926.4,658.6 L1927.5,659.2 L1928.7,661.5 L1929.9,658.6 L1931.1,658.1 L1932.2,659.8 L1933.4,664.4 L1934.6,659.0 L1935.8,662.5 L1936.9,664.3 L1938.1,664.1 L1939.3,662.7 L1940.4,661.6 L1941.6,663.4 L1942.8,664.4 L1944.0,661.4 L1945.1,662.6 L1946.3,662.5 L1947.5,659.3 L1948.7,664.8 L1949.8,664.8 L1951.0,665.1 L1952.2,660.7 L1953.4,661.2 L1954.5,662.9 L1955.7,661.8 L1956.9,661.0 L1958.1,660.1 L1959.2,661.2 L1960.4,661.3 L1961.6,663.5 L1962.7,666.1 L1963.9,660.8 L1965.1,660.9 L1966.3,666.9 L1967.4,660.8 L1968.6,662.1 L1969.8,665.7 L1971.0,664.8 L1972.1,663.8 L1973.3,667.3 L1974.5,662.0 L1975.7,665.1 L1976.8,666.8 L1978.0,667.2 L1979.2,662.2 L1980.4,665.3 L1981.5,663.3 L1982.7,664.2 L1983.9,662.7 L1985.1,662.6 L1986.2,668.4 L1987.4,664.4 L1988.6,665.3 L1989.7,666.7 L1990.9,668.2 L1992.1,667.8 L1993.3,666.6 L1994.4,668.8 L1995.6,664.5 L1996.8,668.1 L1998.0,663.5 L1999.1,667.7 L2000.3,667.9 L2001.5,667.7 L2002.7,667.4 L2003.8,669.6 L2005.0,664.6 L2006.2,666.7 L2007.4,665.5 L2008.5,666.7 L2009.7,668.6 L2010.9,668.9 L2011.0,666.7" stroke="#0000ff" stroke-dasharray="20.5 10.7 1.5 10.7" stroke-dashoffset="-6"/>
<path d="M250.0,752.7 L251.0,740.2 L252.1,740.5 L253.1,739.5 L254.1,777.2 L255.1,753.4 L256.2,754.9 L257.2,730.1 L258.2,752.7 L259.2,711.5 L260.3,703.9 L261.3,760.7 L262.3,695.3 L263.4,767.4 L264.4,753.8 L265.4,748.5 L266.4,686.3 L267.5,696.4 L268.5,745.4 L269.5,708.1 L270.5,720.3 L271.6,675.7 L272.6,677.2 L273.6,698.9 L274.6,716.7 L275.7,695.6 L276.7,658.9 L277.7,713.6 L278.8,657.0 L279.8,675.9 L280.8,683.0 L281.8,662.3 L282.9,665.9 L283.9,691.4 L284.9,662.1 L285.9,663.8 L287.0,684.0 L288.0,643.4 L289.0,671.9 L290.1,641.9 L291.1,636.5 L292.1,659.2 L293.1,619.8 L294.2,651.0 L295.2,645.7 L296.2,644.9 L297.2,606.5 L298.3,610.5 L299.3,628.8 L300.3,611.8 L301.4,591.5 L302.4,615.4 L303.4,616.3 L304.4,619.7 L305.5,585.7 L306.5,586.7 L307.5,605.4 L308.5,575.8 L309.6,580.0 L310.6,583.8 L311.6,580.4 L312.7,582.2 L313.7,590.3 L314.7,580.0 L315.7,578.3 L316.8,574.2 L317.8,560.6 L318.8,566.3 L319.8,580.7 L320.9,577.6 L321.9,573.3 L322.9,566.5 L323.9,576.3 L325.0,569.5 L326.0,562.9 L327.0,566.8 L328.1,557.6 L329.1,568.7 L330.1,561.4 L331.1,575.3 L332.2,577.0 L333.2,582.2 L334.2,577.9 L335.2,555.9 L336.3,575.9 L337.3,579.3 L338.3,582.3 L339.4,572.6 L340.4,573.5 L341.4,576.5 L342.4,566.8 L343.5,591.1 L344.5,592.8 L345.5,572.5 L346.5,592.8 L347.6,571.2 L348.6,567.5 L349.6,586.0 L350.7,588.1 L351.7,569.9 L352.7,591.2 L353.7,574.7 L354.8,567.9 L355.8,570.6 L356.8,564.6 L357.8,583.0 L358.9,568.3 L359.9,579.4 L360.9,572.0 L362.0,561.7 L363.0,574.4 L364.0,584.8 L365.0,561.6 L366.1,583.5 L367.1,558.5 L368.1,571.1 L369.1,558.9 L370.2,582.0 L371.2,568.5 L372.2,577.2 L373.2,571.8 L374.3,563.7 L375.3,557.5 L376.3,574.5 L377.4,574.1 L378.4,570.4 L379.4,570.3 L380.4,547.4 L381.5,551.6 L382.5,560.3 L383.5,545.6 L384.5,559.2 L385.6,568.3 L386.6,550.0 L387.6,558.3 L388.7,542.9 L389.7,558.5 L390.7,560.0 L391.7,556.1 L392.8,543.9 L393.8,539.8 L394.8,530.8 L395.8,551.4 L396.9,551.7 L397.9,540.5 L398.9,545.2 L400.0,528.6 L401.0,542.6 L402.0,527.0 L403.0,539.7 L404.1,518.1 L405.1,527.7 L406.1,522.5 L407.1,515.9 L408.2,521.2 L409.2,539.2 L410.2,520.6 L411.3,514.3 L412.3,529.2 L413.3,531.4 L414.3,518.2 L415.4,534.0 L416.4,526.7 L417.4,521.3 L418.4,530.8 L419.5,527.4 L420.5,520.8 L421.5,509.9 L422.5,516.9 L423.6,518.9 L424.6,526.1 L425.6,526.5 L426.7,500.6 L427.7,513.2 L428.7,524.2 L429.7,509.0 L430.8,517.5 L431.8,501.8 L432.8,519.4 L433.8,498.7 L434.9,500.5 L435.9,499.3 L436.9,495.6 L438.0,510.0 L439.0,514.2 L440.0,493.9 L441.0,494.4 L442.1,499.3 L443.1,495.8 L444.1,504.8 L445.1,489.1 L446.2,501.8 L447.2,498.8 L448.2,487.1 L449.3,495.8 L450.3,493.0 L451.3,483.6 L452.3,490.3 L453.4,498.6 L454.4,504.6 L455.4,506.1 L456.4,499.2 L457.5,489.2 L458.5,481.1 L459.5,495.6 L460.6,491.8 L461.6,499.3 L462.6,481.3 L463.6,492.1 L464.7,475.3 L465.7,480.7 L466.7,483.4 L467.7,493.4 L468.8,479.6 L469.8,486.6 L470.8,496.3 L471.8,494.4 L472.9,480.2 L473.9,471.8 L474.9,482.6 L476.0,486.9 L477.0,480.4 L478.0,483.9 L479.0,467.9 L480.1,469.2 L481.1,464.7 L482.1,461.1 L483.1,471.7 L484.2,479.8 L485.2,467.7 L486.2,483.3 L487.3,465.4 L488.3,465.5 L489.3,478.1 L490.3,471.8 L491.4,467.5 L492.4,458.2 L493.4,453.2 L494.4,454.7 L495.5,454.0 L496.5,460.4 L497.5,457.2 L498.6,462.6 L499.6,453.7 L500.6,465.0 L501.6,471.8 L502.7,467.4 L503.7,459.8 L504.7,450.1 L505.7,464.5 L506.8,465.1 L507.8,443.3 L508.8,464.0 L509.8,465.4 L510.9,444.3 L511.9,443.1 L512.9,457.8 L514.0,450.2 L515.0,438.0 L516.0,452.6 L517.0,458.1 L518.1,454.6 L519.1,434.8 L520.1,433.9 L521.1,446.8 L522.2,450.1 L523.2,457.0 L524.2,450.4 L525.3,448.9 L526.3,453.8 L527.3,439.9 L528.3,432.6 L529.4,430.3 L530.4,436.5 L531.4,450.3 L532.4,440.7 L533.5,425.9 L534.5,449.8 L535.5,447.0 L536.6,424.8 L537.6,445.2 L538.6,427.9 L539.6,424.0 L540.7,433.7 L541.7,442.4 L542.7,430.0 L543.7,434.6 L544.8,446.1 L545.8,425.8 L546.8,440.5 L547.9,431.3 L548.9,424.1 L549.9,444.0 L550.9,441.4 L552.0,435.4 L553.0,435.6 L554.0,433.4 L555.0,441.6 L556.1,422.7 L557.1,425.6 L558.1,425.0 L559.1,425.8 L560.2,438.5 L561.2,434.8 L562.2,441.8 L563.3,438.2 L564.3,445.8 L565.3,443.7 L566.3,425.0 L567.4,426.6 L568.4,443.0 L569.4,448.3 L570.4,447.6 L571.5,426.9 L572.5,441.2 L573.5,428.4 L574.6,432.6 L575.6,448.0 L576.6,441.4 L577.6,447.4 L578.7,440.8 L579.7,449.1 L580.7,431.2 L581.7,436.9 L582.8,449.6 L583.8,444.7 L584.8,424.4 L585.9,428.8 L586.9,433.2 L587.9,440.6 L588.9,430.7 L590.0,446.0 L591.0,445.0 L592.0,433.8 L593.0,429.0 L594.1,428.3 L595.1,427.9 L596.1,435.3 L597.2,436.3 L598.2,445.9 L599.2,434.5 L600.2,436.0 L601.3,426.2 L602.3,447.0 L603.3,432.4 L604.3,422.8 L605.4,426.3 L606.4,438.2 L607.4,424.7 L608.4,444.5 L609.5,431.8 L610.5,437.8 L611.5,431.8 L612.6,433.6 L613.6,424.9 L614.6,435.9 L615.6,435.2 L616.7,434.5 L617.7,428.9 L618.7,433.0 L619.7,432.4 L620.8,415.9 L621.8,410.0 L622.8,433.9 L623.9,418.3 L624.9,408.9 L625.9,430.5 L626.9,429.0 L628.0,421.9 L629.0,407.0 L630.0,427.7 L631.0,416.3 L632.1,404.4 L633.1,406.1 L634.1,404.4 L635.2,424.0 L636.2,423.8 L637.2,424.2 L638.2,406.4 L639.3,412.9 L640.3,413.0 L641.3,405.0 L642.3,394.6 L643.4,394.9 L644.4,394.6 L645.4,404.2 L646.5,402.2 L647.5,390.6 L648.5,390.6 L649.5,398.7 L650.6,405.2 L651.6,400.3 L652.6,406.4 L653.6,400.0 L654.7,385.9 L655.7,385.5 L656.7,391.6 L657.7,397.5 L658.8,403.8 L659.8,403.2 L660.8,404.5 L661.9,400.6 L662.9,386.9 L663.9,390.2 L664.9,375.2 L666.0,398.7 L667.0,387.8 L668.0,371.5 L669.0,393.9 L670.1,388.1 L671.1,394.4 L672.1,368.6 L673.2,376.6 L674.2,366.6 L675.2,388.7 L676.2,365.6 L677.3,380.3 L678.3,378.0 L679.3,374.8 L680.3,370.1 L681.4,367.7 L682.4,376.8 L683.4,370.3 L684.5,361.8 L685.5,371.5 L686.5,368.7 L687.5,361.1 L688.6,367.2 L689.6,351.1 L690.6,357.2 L691.6,365.9 L692.7,364.9 L693.7,362.7 L694.7,368.3 L695.8,350.2 L696.8,363.6 L697.8,358.5 L698.8,356.9 L699.9,343.5 L700.9,335.9 L701.9,353.5 L702.9,332.7 L704.0,348.1 L705.0,329.0 L706.0,332.5 L707.0,338.5 L708.1,348.2 L709.1,332.1 L710.1,348.2 L711.2,347.6 L712.2,341.1 L713.2,328.8 L714.2,330.6 L715.3,343.8 L716.3,331.4 L717.3,331.1 L718.3,329.1 L719.4,316.7 L720.4,338.7 L721.4,326.5 L722.5,327.7 L723.5,330.3 L724.5,320.3 L725.5,312.4 L726.6,330.3 L727.6,308.2 L728.6,312.3 L729.6,320.5 L730.7,312.1 L731.7,315.2 L732.7,303.7 L733.8,319.9 L734.8,319.2 L735.8,306.3 L736.8,318.3 L737.9,315.8 L738.9,308.5 L739.9,295.7 L740.9,289.1 L742.0,312.8 L743.0,311.5 L744.0,301.6 L745.1,298.4 L746.1,302.6 L747.1,292.0 L748.1,288.7 L749.2,288.3 L750.2,287.1 L751.2,291.2 L752.2,275.4 L753.3,280.1 L754.3,288.2 L755.3,295.9 L756.3,284.7 L757.4,276.7 L758.4,293.7 L759.4,290.1 L760.5,272.6 L761.5,291.3 L762.5,281.8 L763.5,268.5 L764.6,276.9 L765.6,267.8 L766.6,282.9 L767.6,273.1 L768.7,256.2 L769.7,267.6 L770.7,267.1 L771.8,273.2 L772.8,275.2 L773.8,266.5 L774.8,262.3 L775.9,259.5 L776.9,248.1 L777.9,262.2 L778.9,254.2 L780.0,249.8 L781.0,258.0 L782.0,245.9 L783.1,253.7 L784.1,242.2 L785.1,237.2 L786.1,245.5 L787.2,253.3 L788.2,233.3 L789.2,231.1 L790.2,234.1 L791.3,246.2 L792.3,235.0 L793.3,231.8 L794.3,230.4 L795.4,228.3 L796.4,232.2 L797.4,227.8 L798.5,220.7 L799.5,232.9 L800.5,218.7 L801.5,226.3 L802.6,223.8 L803.6,212.5 L804.6,216.4 L805.6,227.0 L806.7,226.5 L807.7,225.8 L808.7,210.0 L809.8,221.0 L810.8,212.1 L811.8,208.6 L812.8,206.9 L813.9,218.9 L814.9,219.6 L815.9,210.5 L816.9,216.5 L818.0,201.0 L819.0,197.7 L820.0,204.8 L821.1,211.1 L822.1,203.6 L823.1,198.4 L824.1,208.4 L825.2,202.8 L826.2,197.1 L827.2,199.9 L828.2,200.0 L829.3,190.4 L830.3,196.6 L831.3,196.5 L832.4,188.1 L833.4,188.7 L834.4,185.9 L835.4,187.8 L836.5,184.5 L837.5,191.1 L838.5,193.2 L839.5,183.3 L840.6,192.0 L841.6,183.2 L842.6,179.4 L843.6,183.3 L844.7,180.9 L845.7,180.5 L846.7,179.1 L847.8,183.0 L848.8,177.7 L849.8,181.5 L850.8,178.9 L851.9,178.2 L852.9,178.3 L853.9,171.6 L854.9,178.4 L856.0,174.3 L857.0,168.3 L858.0,169.5 L859.1,175.8 L860.1,172.5 L861.1,165.7 L862.1,166.0 L863.2,173.5 L864.2,165.7 L865.2,167.1 L866.2,167.4 L867.3,161.4 L868.3,164.5 L869.3,165.1 L870.4,159.4 L871.4,162.9 L872.4,164.8 L873.4,163.2 L874.5,158.6 L875.5,160.2 L876.5,157.5 L877.5,159.0 L878.6,158.2 L879.6,158.5 L880.6,160.8 L881.7,155.8 L882.7,161.9 L883.7,160.2 L884.7,161.5 L885.8,156.3 L886.8,158.4 L887.8,158.6 L888.8,161.0 L889.9,158.7 L890.9,157.1 L891.9,154.2 L892.9,159.3 L894.0,160.4 L895.0,158.2 L896.0,157.3 L897.1,153.2 L898.1,161.0 L899.1,159.8 L900.1,158.1 L901.2,157.2 L902.2,158.8 L903.2,159.9 L904.2,156.1 L905.3,154.7 L906.3,156.3 L907.3,154.7 L908.4,157.2 L909.4,159.5 L910.4,156.9 L911.4,157.6 L912.5,155.7 L913.5,161.6 L914.5,156.2 L915.5,161.4 L916.6,157.0 L917.6,161.7 L918.6,156.8 L919.7,160.2 L920.7,160.2 L921.7,157.6 L922.7,160.9 L923.8,160.8 L924.8,163.5 L925.8,158.6 L926.8,161.6 L927.9,159.0 L928.9,164.6 L929.9,160.1 L931.0,165.6 L932.0,165.2 L933.0,167.0 L934.0,165.1 L935.1,162.9 L936.1,167.3 L937.1,163.6 L938.1,164.7 L939.2,166.5 L940.2,168.5 L941.2,166.5 L942.2,169.6 L943.3,168.5 L944.3,169.6 L945.3,174.0 L946.4,172.5 L947.4,175.7 L948.4,174.8 L949.4,173.7 L950.5,176.9 L951.5,176.7 L952.5,175.3 L953.5,176.2 L954.6,177.2 L955.6,178.3 L956.6,181.8 L957.7,182.5 L958.7,179.0 L959.7,181.7 L960.7,181.1 L961.8,185.2 L962.8,184.5 L963.8,185.0 L964.8,187.3 L965.9,188.6 L966.9,185.5 L967.9,187.1 L969.0,187.6 L970.0,192.4 L971.0,190.6 L972.0,191.4 L973.1,192.2 L974.1,192.5 L975.1,193.6 L976.1,195.3 L977.2,198.5 L978.2,197.3 L979.2,196.9 L980.3,199.0 L981.3,200.2 L982.3,202.7 L983.3,203.3 L984.4,203.7 L985.4,203.8 L986.4,204.0 L987.4,205.4 L988.5,207.0 L989.5,210.0 L990.5,207.9 L991.5,210.4 L992.6,212.3 L993.6,211.5 L994.6,213.9 L995.7,216.1 L996.7,216.4 L997.7,216.8 L998.7,219.7 L999.8,219.6 L1000.8,220.9 L1001.8,221.3 L1002.8,223.8 L1003.9,223.7 L1004.9,225.5 L1005.9,226.3 L1007.0,227.4 L1008.0,228.0 L1009.0,229.4 L1010.0,231.3 L1011.1,232.6 L1012.0,232.7 L1014.9,237.4 L1017.8,241.5 L1020.8,244.3 L1023.7,247.8 L1026.6,251.9 L1029.6,255.0 L1032.5,257.8 L1035.4,261.2 L1038.4,265.2 L1041.3,269.2 L1044.2,272.5 L1047.2,275.9 L1050.1,280.6 L1053.1,284.0 L1056.0,286.4 L1058.9,290.2 L1061.9,294.2 L1064.8,297.3 L1067.7,299.8 L1070.7,303.0 L1073.6,306.2 L1076.5,309.1 L1079.5,313.2 L1082.4,316.4 L1085.3,318.8 L1088.3,322.8 L1091.2,325.5 L1094.1,328.8 L1097.1,332.3 L1100.0,335.0 L1102.9,338.8 L1105.9,341.5 L1108.8,344.6 L1111.7,348.0 L1114.7,351.0 L1117.6,354.3 L1120.5,357.1 L1123.5,360.4 L1126.4,363.7 L1129.3,366.4 L1132.3,369.4 L1135.2,372.3 L1138.2,375.0 L1141.1,378.5 L1144.0,381.1 L1147.0,384.0 L1149.9,386.6 L1152.8,389.4 L1155.8,392.0 L1158.7,394.7 L1161.6,397.5 L1164.6,399.8 L1167.5,402.4 L1170.4,404.8 L1173.4,407.9 L1176.3,409.9 L1179.2,412.6 L1182.2,415.0 L1185.1,417.2 L1188.0,419.8 L1191.0,422.3 L1193.9,424.8 L1196.8,426.5 L1199.8,429.0 L1202.7,431.8 L1205.6,433.6 L1208.6,435.7 L1211.5,437.9 L1214.5,439.6 L1217.4,442.4 L1220.3,443.8 L1223.3,446.3 L1226.2,447.8 L1229.1,450.1 L1232.1,451.6 L1235.0,453.6 L1237.9,455.9 L1240.9,457.2 L1243.8,459.4 L1246.7,461.2 L1249.7,463.1 L1252.6,464.9 L1255.5,466.5 L1258.5,468.0 L1261.4,469.4 L1264.3,471.3 L1267.3,472.4 L1270.2,474.0 L1273.1,475.5 L1276.1,477.0 L1279.0,478.5 L1281.9,480.3 L1284.9,482.0 L1287.8,483.0 L1290.7,484.7 L1293.7,485.8 L1296.6,487.2 L1299.6,488.4 L1302.5,489.5 L1305.4,491.3 L1308.4,492.2 L1311.3,493.6 L1314.2,494.6 L1317.2,496.1 L1320.1,497.5 L1323.0,498.5 L1326.0,499.7 L1328.9,501.3 L1331.8,502.4 L1334.8,503.6 L1337.7,504.5 L1340.6,505.6 L1343.6,506.9 L1346.5,507.8 L1349.4,508.9 L1352.4,510.3 L1355.3,511.2 L1358.2,512.0 L1361.2,513.7 L1364.1,514.2 L1367.0,515.2 L1370.0,516.3 L1372.9,517.5 L1375.8,518.4 L1378.8,518.9 L1381.7,520.2 L1384.7,520.8 L1387.6,522.1 L1390.5,523.1 L1393.5,523.9 L1396.4,524.5 L1399.3,525.2 L1402.3,526.3 L1405.2,527.2 L1408.1,527.6 L1411.1,528.2 L1414.0,529.0 L1416.9,529.9 L1419.9,530.6 L1422.8,531.5 L1425.7,532.1 L1428.7,533.1 L1431.6,533.4 L1434.5,534.5 L1437.5,534.9 L1440.4,535.9 L1443.3,536.3 L1446.3,537.3 L1449.2,537.8 L1452.1,538.9 L1455.1,538.9 L1458.0,539.8 L1460.9,540.4 L1463.9,541.1 L1466.8,541.8 L1469.8,542.7 L1472.7,542.8 L1475.6,543.8 L1478.6,544.5 L1481.5,545.7 L1484.4,546.4 L1487.4,547.0 L1490.3,547.8 L1493.2,548.6 L1496.2,549.3 L1499.1,549.7 L1502.0,550.0 L1505.0,551.4 L1507.9,551.8 L1510.8,552.1 L1513.8,552.9 L1516.7,553.9 L1519.6,554.8 L1522.6,555.7 L1525.5,556.3 L1528.4,557.0 L1531.4,557.0 L1534.3,558.0 L1537.2,559.0 L1540.2,559.7 L1543.1,559.8 L1546.0,560.8 L1549.0,561.2 L1551.9,561.7 L1554.9,563.0 L1557.8,563.2 L1560.7,564.3 L1563.7,564.2 L1566.6,565.6 L1569.5,566.1 L1572.5,566.4 L1575.4,567.1 L1578.3,567.5 L1581.3,568.3 L1584.2,569.1 L1587.1,569.7 L1590.1,570.2 L1593.0,570.4 L1595.9,571.1 L1598.9,572.3 L1601.8,572.4 L1604.7,572.9 L1607.7,573.5 L1610.6,574.5 L1613.5,574.7 L1616.5,575.4 L1619.4,575.8 L1622.3,576.2 L1625.3,576.9 L1628.2,577.4 L1631.1,578.4 L1634.1,579.2 L1637.0,579.5 L1640.0,579.8 L1642.9,580.5 L1645.8,580.9 L1648.8,581.8 L1651.7,581.7 L1654.6,582.2 L1657.6,583.3 L1660.5,583.6 L1663.4,584.4 L1666.4,585.1 L1669.3,585.0 L1672.2,586.0 L1675.2,586.5 L1678.1,586.9 L1681.0,587.3 L1684.0,588.0 L1686.9,588.4 L1689.8,588.6 L1692.8,589.5 L1695.7,589.5 L1698.6,590.3 L1701.6,591.1 L1704.5,591.8 L1707.4,592.3 L1710.4,592.3 L1713.3,592.5 L1716.2,593.8 L1719.2,593.6 L1722.1,594.6 L1725.1,594.7 L1728.0,595.7 L1730.9,595.5 L1733.9,596.8 L1736.8,596.5 L1739.7,597.4 L1742.7,598.1 L1745.6,598.0 L1748.5,598.7 L1751.5,599.0 L1754.4,600.0 L1757.3,600.2 L1760.3,600.9 L1763.2,601.5 L1766.1,601.5 L1769.1,602.2 L1772.0,602.4 L1774.9,602.8 L1777.9,603.7 L1780.8,603.6 L1783.7,604.1 L1786.7,604.5 L1789.6,604.8 L1792.5,605.3 L1795.5,605.7 L1798.4,606.7 L1801.4,607.0 L1804.3,607.3 L1807.2,607.9 L1810.2,608.3 L1813.1,608.9 L1816.0,608.6 L1819.0,609.2 L1821.9,610.1 L1824.8,610.1 L1827.8,610.2 L1830.7,610.8 L1833.6,611.2 L1836.6,612.0 L1839.5,612.6 L1842.4,612.7 L1845.4,613.2 L1848.3,613.4 L1851.2,613.8 L1854.2,614.0 L1857.1,615.2 L1860.0,615.2 L1863.0,615.8 L1865.9,616.2 L1868.8,616.9 L1871.8,617.2 L1874.7,617.5 L1877.6,617.6 L1880.6,618.5 L1883.5,618.2 L1886.5,619.0 L1889.4,619.3 L1892.3,619.3 L1895.3,620.4 L1898.2,620.3 L1901.1,620.9 L1904.1,621.3 L1907.0,621.6 L1909.9,622.0 L1912.9,622.7 L1915.8,623.3 L1918.7,623.4 L1921.7,623.7 L1924.6,623.8 L1927.5,624.0 L1930.5,624.9 L1933.4,625.4 L1936.3,625.8 L1939.3,625.7 L1942.2,626.3 L1945.1,626.5 L1948.1,626.6 L1951.0,627.6 L1953.9,628.1 L1956.9,628.0 L1959.8,628.6 L1962.7,629.1 L1965.7,628.7 L1968.6,629.6 L1971.6,629.7 L1974.5,630.1 L1977.4,630.8 L1980.4,630.7 L1983.3,631.5 L1986.2,631.8 L1989.2,631.4 L1992.1,631.9 L1995.0,632.9 L1998.0,632.7 L2000.9,633.6 L2003.8,633.7 L2006.8,633.8 L2009.7,634.0 L2011.0,634.3" stroke="#008080"/>
<path d="M250.0,746.8 L251.0,762.2 L252.1,754.3 L253.1,719.2 L254.1,722.3 L255.1,758.1 L256.2,699.1 L257.2,752.7 L258.2,749.9 L259.2,725.2 L260.3,711.3 L261.3,707.2 L262.3,703.0 L263.4,715.1 L264.4,717.4 L265.4,718.9 L266.4,752.2 L267.5,732.9 L268.5,715.9 L269.5,742.3 L270.5,675.9 L271.6,667.7 L272.6,700.8 L273.6,651.0 L274.6,646.9 L275.7,682.6 L276.7,675.6 L277.7,706.4 L278.8,681.5 L279.8,670.1 L280.8,665.9 L281.8,646.6 L282.9,629.3 L283.9,638.3 L284.9,665.0 L285.9,633.8 L287.0,640.3 L288.0,618.1 L289.0,657.6 L290.1,620.8 L291.1,623.4 L292.1,648.2 L293.1,628.1 L294.2,639.2 L295.2,626.8 L296.2,627.4 L297.2,596.8 L298.3,611.9 L299.3,607.0 L300.3,618.1 L301.4,594.5 L302.4,600.7 L303.4,576.8 L304.4,586.5 L305.5,581.1 L306.5,572.0 L307.5,593.5 L308.5,575.1 L309.6,593.6 L310.6,577.6 L311.6,575.7 L312.7,574.3 L313.7,573.0 L314.7,553.6 L315.7,560.6 L316.8,552.3 L317.8,555.4 L318.8,544.8 L319.8,569.1 L320.9,546.5 L321.9,559.5 L322.9,548.7 L323.9,565.4 L325.0,559.4 L326.0,544.2 L327.0,565.1 L328.1,568.2 L329.1,567.3 L330.1,557.9 L331.1,545.9 L332.2,547.6 L333.2,569.2 L334.2,558.8 L335.2,548.5 L336.3,569.5 L337.3,563.5 L338.3,562.6 L339.4,558.3 L340.4,560.6 L341.4,557.0 L342.4,552.5 L343.5,577.8 L344.5,566.8 L345.5,569.7 L346.5,563.4 L347.6,575.9 L348.6,554.8 L349.6,564.6 L350.7,554.4 L351.7,556.7 L352.7,580.6 L353.7,571.1 L354.8,563.9 L355.8,566.1 L356.8,575.5 L357.8,559.6 L358.9,566.1 L359.9,568.1 L360.9,558.0 L362.0,562.1 L363.0,568.6 L364.0,572.1 L365.0,549.6 L366.1,571.6 L367.1,544.3 L368.1,565.2 L369.1,566.3 L370.2,546.3 L371.2,553.8 L372.2,564.6 L373.2,540.8 L374.3,557.9 L375.3,561.9 L376.3,553.1 L377.4,558.5 L378.4,543.4 L379.4,541.8 L380.4,545.7 L381.5,539.5 L382.5,543.3 L383.5,559.6 L384.5,547.7 L385.6,539.8 L386.6,536.6 L387.6,554.9 L388.7,538.8 L389.7,552.8 L390.7,538.0 L391.7,536.7 L392.8,546.0 L393.8,540.1 L394.8,534.1 L395.8,528.3 L396.9,539.9 L397.9,525.2 L398.9,538.7 L400.0,513.0 L401.0,522.3 L402.0,523.8 L403.0,535.1 L404.1,513.9 L405.1,528.8 L406.1,524.1 L407.1,524.3 L408.2,520.8 L409.2,529.7 L410.2,510.4 L411.3,511.4 L412.3,504.9 L413.3,499.7 L414.3,503.5 L415.4,522.8 L416.4,519.8 L417.4,498.1 L418.4,511.4 L419.5,507.0 L420.5,509.5 L421.5,510.6 L422.5,499.7 L423.6,517.7 L424.6,502.7 L425.6,506.6 L426.7,506.1 L427.7,492.4 L428.7,488.2 L429.7,497.4 L430.8,506.8 L431.8,507.5 L432.8,504.4 L433.8,486.0 L434.9,508.2 L435.9,504.3 L436.9,505.7 L438.0,494.8 L439.0,505.3 L440.0,479.7 L441.0,478.5 L442.1,477.5 L443.1,483.4 L444.1,482.6 L445.1,480.2 L446.2,490.3 L447.2,474.5 L448.2,489.6 L449.3,476.8 L450.3,490.7 L451.3,471.2 L452.3,478.8 L453.4,496.1 L454.4,484.0 L455.4,491.1 L456.4,486.0 L457.5,484.0 L458.5,471.3 L459.5,481.5 L460.6,465.6 L461.6,486.6 L462.6,490.4 L463.6,486.7 L464.7,463.0 L465.7,470.5 L466.7,469.2 L467.7,462.6 L468.8,476.5 L469.8,480.6 L470.8,466.1 L471.8,481.0 L472.9,478.3 L473.9,458.5 L474.9,475.9 L476.0,478.4 L477.0,458.1 L478.0,468.0 L479.0,469.0 L480.1,467.4 L481.1,452.0 L482.1,467.3 L483.1,465.6 L484.2,470.3 L485.2,468.9 L486.2,454.5 L487.3,465.0 L488.3,468.3 L489.3,468.2 L490.3,446.6 L491.4,442.0 L492.4,459.0 L493.4,445.9 L494.4,455.0 L495.5,465.1 L496.5,448.3 L497.5,444.0 L498.6,449.0 L499.6,454.0 L500.6,437.5 L501.6,444.7 L502.7,437.0 L503.7,451.3 L504.7,455.4 L505.7,441.8 L506.8,440.9 L507.8,445.0 L508.8,435.1 L509.8,435.3 L510.9,436.9 L511.9,439.9 L512.9,428.5 L514.0,446.9 L515.0,441.3 L516.0,432.7 L517.0,425.8 L518.1,444.6 L519.1,426.0 L520.1,425.5 L521.1,424.8 L522.2,422.8 L523.2,445.6 L524.2,426.9 L525.3,427.3 L526.3,441.6 L527.3,434.9 L528.3,422.0 L529.4,428.4 L530.4,440.5 L531.4,425.4 L532.4,434.3 L533.5,416.4 L534.5,433.7 L535.5,434.6 L536.6,435.7 L537.6,431.0 L538.6,422.2 L539.6,413.4 L540.7,426.1 L541.7,432.8 L542.7,416.8 L543.7,418.9 L544.8,426.5 L545.8,432.5 L546.8,436.7 L547.9,414.9 L548.9,416.6 L549.9,434.0 L550.9,429.6 L552.0,431.7 L553.0,439.5 L554.0,437.9 L555.0,435.2 L556.1,433.4 L557.1,422.7 L558.1,429.7 L559.1,416.9 L560.2,433.3 L561.2,433.5 L562.2,432.6 L563.3,425.0 L564.3,423.4 L565.3,424.7 L566.3,414.0 L567.4,437.0 L568.4,428.6 L569.4,424.2 L570.4,428.8 L571.5,433.6 L572.5,424.0 L573.5,436.6 L574.6,439.0 L575.6,423.9 L576.6,416.8 L577.6,434.3 L578.7,440.7 L579.7,416.8 L580.7,432.6 L581.7,435.6 L582.8,438.2 L583.8,415.6 L584.8,414.6 L585.9,439.7 L586.9,415.0 L587.9,416.6 L588.9,427.7 L590.0,423.9 L591.0,432.3 L592.0,416.4 L593.0,436.6 L594.1,416.8 L595.1,432.1 L596.1,412.2 L597.2,423.3 L598.2,410.7 L599.2,418.3 L600.2,417.9 L601.3,429.0 L602.3,421.2 L603.3,409.6 L604.3,435.6 L605.4,432.1 L606.4,432.4 L607.4,413.1 L608.4,416.7 L609.5,411.5 L610.5,408.0 L611.5,404.9 L612.6,417.5 L613.6,406.2 L614.6,407.1 L615.6,425.7 L616.7,414.5 L617.7,405.4 L618.7,418.4 L619.7,406.4 L620.8,413.1 L621.8,405.6 L622.8,411.5 L623.9,414.0 L624.9,410.8 L625.9,406.2 L626.9,416.6 L628.0,418.2 L629.0,398.1 L630.0,396.2 L631.0,394.8 L632.1,418.4 L633.1,416.6 L634.1,395.9 L635.2,415.9 L636.2,393.7 L637.2,401.3 L638.2,400.3 L639.3,411.2 L640.3,385.9 L641.3,392.7 L642.3,399.9 L643.4,384.1 L644.4,388.0 L645.4,393.5 L646.5,404.3 L647.5,400.1 L648.5,401.1 L649.5,398.3 L650.6,395.9 L651.6,399.0 L652.6,393.4 L653.6,394.0 L654.7,380.9 L655.7,376.2 L656.7,391.7 L657.7,374.3 L658.8,394.3 L659.8,384.3 L660.8,375.8 L661.9,391.8 L662.9,368.9 L663.9,377.9 L664.9,365.0 L666.0,388.4 L667.0,376.4 L668.0,381.7 L669.0,366.0 L670.1,379.4 L671.1,375.6 L672.1,372.8 L673.2,380.2 L674.2,364.7 L675.2,363.1 L676.2,369.7 L677.3,372.5 L678.3,357.5 L679.3,365.6 L680.3,351.7 L681.4,360.1 L682.4,365.0 L683.4,344.3 L684.5,361.6 L685.5,340.6 L686.5,365.7 L687.5,350.9 L688.6,348.1 L689.6,355.6 L690.6,348.9 L691.6,353.5 L692.7,334.3 L693.7,346.4 L694.7,345.1 L695.8,354.3 L696.8,328.3 L697.8,338.6 L698.8,342.3 L699.9,338.9 L700.9,324.4 L701.9,337.6 L702.9,326.1 L704.0,324.2 L705.0,342.0 L706.0,321.8 L707.0,327.8 L708.1,334.8 L709.1,332.4 L710.1,327.0 L711.2,332.9 L712.2,322.2 L713.2,325.4 L714.2,329.7 L715.3,324.7 L716.3,322.5 L717.3,314.8 L718.3,317.9 L719.4,312.3 L720.4,320.8 L721.4,309.6 L722.5,310.8 L723.5,317.7 L724.5,309.6 L725.5,303.9 L726.6,316.3 L727.6,302.8 L728.6,314.5 L729.6,311.7 L730.7,301.2 L731.7,307.4 L732.7,287.5 L733.8,296.2 L734.8,308.1 L735.8,299.1 L736.8,297.4 L737.9,299.2 L738.9,298.3 L739.9,294.6 L740.9,288.9 L742.0,281.1 L743.0,282.9 L744.0,281.8 L745.1,284.4 L746.1,298.9 L747.1,279.8 L748.1,281.3 L749.2,278.0 L750.2,282.6 L751.2,291.5 L752.2,288.6 L753.3,273.3 L754.3,269.0 L755.3,284.8 L756.3,272.8 L757.4,276.9 L758.4,258.7 L759.4,279.4 L760.5,262.8 L761.5,266.6 L762.5,257.1 L763.5,262.0 L764.6,271.9 L765.6,270.6 L766.6,259.5 L767.6,266.3 L768.7,256.4 L769.7,252.7 L770.7,256.1 L771.8,245.2 L772.8,246.9 L773.8,256.2 L774.8,256.5 L775.9,235.4 L776.9,252.5 L777.9,253.4 L778.9,241.6 L780.0,229.6 L781.0,245.2 L782.0,231.8 L783.1,241.1 L784.1,232.5 L785.1,238.0 L786.1,226.7 L787.2,231.0 L788.2,230.8 L789.2,232.2 L790.2,220.2 L791.3,237.7 L792.3,219.9 L793.3,219.1 L794.3,216.7 L795.4,211.1 L796.4,218.3 L797.4,225.2 L798.5,222.5 L799.5,209.7 L800.5,207.3 L801.5,210.3 L802.6,219.0 L803.6,211.7 L804.6,219.8 L805.6,213.0 L806.7,211.1 L807.7,212.9 L808.7,211.4 L809.8,202.1 L810.8,199.3 L811.8,201.7 L812.8,201.7 L813.9,194.0 L814.9,198.6 L815.9,201.2 L816.9,190.9 L818.0,190.0 L819.0,189.6 L820.0,190.6 L821.1,201.2 L822.1,184.3 L823.1,186.0 L824.1,184.7 L825.2,188.8 L826.2,180.5 L827.2,186.5 L828.2,181.0 L829.3,181.7 L830.3,188.5 L831.3,178.5 L832.4,183.8 L833.4,179.8 L834.4,178.9 L835.4,183.4 L836.5,173.5 L837.5,182.6 L838.5,181.1 L839.5,177.1 L840.6,168.3 L841.6,174.9 L842.6,173.1 L843.6,174.0 L844.7,166.5 L845.7,173.8 L846.7,171.9 L847.8,162.6 L848.8,163.7 L849.8,159.9 L850.8,167.0 L851.9,166.8 L852.9,166.5 L853.9,161.7 L854.9,161.3 L856.0,160.4 L857.0,158.4 L858.0,161.2 L859.1,156.9 L860.1,153.4 L861.1,154.3 L862.1,148.8 L863.2,154.8 L864.2,153.8 L865.2,150.5 L866.2,153.8 L867.3,152.3 L868.3,147.7 L869.3,144.7 L870.4,144.7 L871.4,144.6 L872.4,145.2 L873.4,146.0 L874.5,149.9 L875.5,143.6 L876.5,148.8 L877.5,146.4 L878.6,147.6 L879.6,143.2 L880.6,139.4 L881.7,145.9 L882.7,140.9 L883.7,139.7 L884.7,145.1 L885.8,143.9 L886.8,139.8 L887.8,140.1 L888.8,145.6 L889.9,140.0 L890.9,143.6 L891.9,138.9 L892.9,144.5 L894.0,138.9 L895.0,142.2 L896.0,138.4 L897.1,142.6 L898.1,145.0 L899.1,139.0 L900.1,140.6 L901.2,144.4 L902.2,143.2 L903.2,141.0 L904.2,143.4 L905.3,142.0 L906.3,145.0 L907.3,140.7 L908.4,144.0 L909.4,143.0 L910.4,143.6 L911.4,140.8 L912.5,143.2 L913.5,142.9 L914.5,140.5 L915.5,137.9 L916.6,144.5 L917.6,142.8 L918.6,139.4 L919.7,143.3 L920.7,140.6 L921.7,142.4 L922.7,145.5 L923.8,143.4 L924.8,143.0 L925.8,143.8 L926.8,143.1 L927.9,144.7 L928.9,145.8 L929.9,146.0 L931.0,146.0 L932.0,149.3 L933.0,148.5 L934.0,152.5 L935.1,154.3 L936.1,150.9 L937.1,153.4 L938.1,153.7 L939.2,151.7 L940.2,152.7 L941.2,157.8 L942.2,156.0 L943.3,158.6 L944.3,155.0 L945.3,158.6" stroke="#008080" stroke-dasharray="23.7 16.5 2.5 16.5"/>
<path d="M945.3,158.6 L946.4,160.8 L947.4,161.5 L948.4,157.3 L949.4,160.9 L950.5,160.7 L951.5,163.5 L952.5,160.5 L953.5,162.2 L954.6,165.8 L955.6,164.7 L956.6,165.3 L957.7,168.6 L958.7,166.0 L959.7,165.2 L960.7,167.7 L961.8,167.2 L962.8,167.5 L963.8,170.5 L964.8,173.0 L965.9,171.8 L966.9,172.8 L967.9,171.9 L969.0,173.7 L970.0,175.2 L971.0,175.1 L972.0,176.7 L973.1,176.3 L974.1,175.4 L975.1,177.8 L976.1,178.1 L977.2,177.5 L978.2,180.1 L979.2,181.7 L980.3,179.7 L981.3,182.1 L982.3,183.7 L983.3,183.2 L984.4,183.4 L985.4,184.7 L986.4,186.1 L987.4,187.5 L988.5,187.9 L989.5,187.1 L990.5,190.6 L991.5,191.8 L992.6,189.8 L993.6,191.2 L994.6,191.9 L995.7,195.1 L996.7,196.3 L997.7,194.3 L998.7,196.2 L999.8,196.8 L1000.8,198.6 L1001.8,201.0 L1002.8,199.4 L1003.9,200.7 L1004.9,202.6 L1005.9,203.8 L1007.0,205.4 L1008.0,205.5 L1009.0,205.7 L1010.0,207.4 L1011.1,210.2 L1012.0,210.4 L1013.1,209.9 L1014.3,213.0 L1015.5,212.9 L1016.7,215.4 L1017.8,214.6 L1019.0,218.1 L1020.2,217.5 L1021.4,219.5 L1022.5,221.3 L1023.7,222.2 L1024.9,222.7 L1026.1,223.9 L1027.2,225.6 L1028.4,226.4 L1029.6,228.1 L1030.8,229.3 L1031.9,231.3 L1033.1,232.4 L1034.3,234.3 L1035.4,235.0 L1036.6,235.9 L1037.8,237.9 L1039.0,240.1 L1040.1,240.6 L1041.3,242.3 L1042.5,244.3 L1043.7,245.1 L1044.8,247.4 L1046.0,248.9 L1047.2,249.3 L1048.4,251.4 L1049.5,252.2 L1050.7,253.5 L1051.9,255.4 L1053.1,257.1 L1054.2,259.0 L1055.4,259.4 L1056.6,261.6 L1057.7,262.8 L1058.9,263.8 L1060.1,266.3 L1061.3,267.5 L1062.4,268.3 L1063.6,270.6 L1064.8,271.2 L1066.0,272.6 L1067.1,274.4 L1068.3,276.5 L1069.5,276.9 L1070.7,279.3 L1071.8,280.5 L1073.0,281.3 L1074.2,283.3 L1075.4,284.6 L1076.5,286.1 L1077.7,287.6 L1078.9,289.0 L1080.1,290.7 L1081.2,291.2 L1082.4,293.2 L1083.6,294.2 L1084.7,295.9 L1085.9,297.4 L1087.1,298.8 L1088.3,299.4 L1089.4,300.9 L1090.6,302.7 L1091.8,304.0 L1093.0,304.8 L1094.1,306.6 L1095.3,307.4 L1096.5,308.7 L1097.7,310.3 L1098.8,311.3 L1100.0,312.6 L1101.2,313.8 L1102.4,315.1 L1103.5,316.1 L1104.7,317.3 L1105.9,319.2 L1107.0,320.3 L1108.2,321.6 L1109.4,323.0 L1110.6,323.7 L1111.7,325.0 L1112.9,326.3 L1114.1,327.6 L1115.3,329.2 L1116.4,330.1 L1117.6,331.3 L1118.8,332.8 L1120.0,333.7 L1121.1,334.9 L1122.3,336.6 L1123.5,337.9 L1124.7,338.7 L1125.8,340.3 L1127.0,341.0 L1128.2,342.6 L1129.4,343.9 L1130.5,344.9 L1131.7,346.2 L1132.9,347.7 L1134.0,348.9 L1135.2,349.7 L1136.4,351.4 L1137.6,352.1 L1138.7,354.1 L1139.9,354.7 L1141.1,355.9 L1142.3,357.1 L1143.4,359.0 L1144.6,359.6 L1145.8,361.1 L1147.0,362.6 L1148.1,363.8 L1149.3,364.2 L1150.5,365.8 L1151.7,367.0 L1152.8,368.3 L1154.0,369.2 L1155.2,370.3 L1156.3,371.2 L1157.5,372.4 L1158.7,374.0 L1159.9,374.8 L1161.0,376.0 L1162.2,377.3 L1163.4,378.2 L1164.6,379.3 L1165.7,381.2 L1166.9,381.9 L1168.1,382.8 L1169.3,384.3 L1170.4,384.8 L1171.6,386.1 L1172.8,387.8 L1174.0,388.9 L1175.1,389.7 L1176.3,390.3 L1177.5,391.6 L1178.6,392.4 L1179.8,393.6 L1181.0,394.5 L1182.2,395.6 L1183.3,397.1 L1184.5,397.7 L1185.7,398.8 L1186.9,400.4 L1188.0,401.0 L1189.2,402.0 L1190.4,402.7 L1191.6,404.4 L1192.7,405.2 L1193.9,406.1 L1195.1,407.2 L1196.3,407.7 L1197.4,408.8 L1198.6,410.0 L1199.8,411.3 L1201.0,412.1 L1202.1,412.9 L1203.3,413.7 L1204.5,414.2 L1205.6,415.9 L1206.8,416.1 L1208.0,417.0 L1209.2,418.4 L1210.3,419.4 L1211.5,420.3 L1212.7,420.9 L1213.9,421.5 L1215.0,422.3 L1216.2,423.8 L1217.4,424.8 L1218.6,425.0 L1219.7,426.4 L1220.9,426.9 L1222.1,427.6 L1223.3,428.6 L1224.4,429.0 L1225.6,430.2 L1226.8,430.8 L1227.9,432.1 L1229.1,432.7 L1230.3,433.9 L1231.5,434.7 L1232.6,435.0 L1233.8,435.8 L1235.0,437.2 L1236.2,437.6 L1237.3,438.0 L1238.5,438.8 L1239.7,440.4 L1240.9,440.8 L1242.0,441.2 L1243.2,442.4 L1244.4,443.1 L1245.6,443.9 L1246.7,445.1 L1247.9,445.9 L1249.1,445.9 L1250.3,446.7 L1251.4,447.7 L1252.6,448.8 L1253.8,449.4 L1254.9,450.3 L1256.1,450.9 L1257.3,451.3 L1258.5,452.6 L1259.6,452.6 L1260.8,454.0 L1262.0,454.3 L1263.2,455.3 L1264.3,456.4 L1265.5,456.8 L1266.7,457.1 L1267.9,458.1 L1269.0,459.0 L1270.2,459.2 L1271.4,460.1 L1272.6,460.6 L1273.7,461.7 L1274.9,462.2 L1276.1,463.0 L1277.2,463.5 L1278.4,464.5 L1279.6,464.7 L1280.8,466.0 L1281.9,466.7 L1283.1,466.9 L1284.3,467.5 L1285.5,468.5 L1286.6,468.6 L1287.8,469.7 L1289.0,469.9 L1290.2,470.9 L1291.3,471.1 L1292.5,471.9 L1293.7,472.8 L1294.9,472.6 L1296.0,473.9 L1297.2,474.2 L1298.4,474.7 L1299.6,475.2 L1300.7,475.5" stroke="#008080" stroke-dasharray="22.5 12 1.5 12"/>
<path d="M1300.7,475.5 L1301.9,476.2 L1303.1,477.2 L1304.2,477.0 L1305.4,478.4 L1306.6,479.6 L1307.8,480.3 L1308.9,480.7 L1310.1,481.1 L1311.3,480.1 L1312.5,482.8 L1313.6,481.1 L1314.8,483.7 L1316.0,484.3 L1317.2,484.0 L1318.3,484.2 L1319.5,483.5 L1320.7,485.3 L1321.9,484.9 L1323.0,484.7 L1324.2,485.1 L1325.4,488.8 L1326.5,490.0 L1327.7,486.6 L1328.9,486.4 L1330.1,488.2 L1331.2,487.9 L1332.4,488.7 L1333.6,491.5 L1334.8,491.1 L1335.9,491.6 L1337.1,490.7 L1338.3,494.2 L1339.5,492.2 L1340.6,493.4 L1341.8,494.4 L1343.0,498.0 L1344.2,493.9 L1345.3,497.7 L1346.5,495.4 L1347.7,499.9 L1348.9,497.0 L1350.0,498.2 L1351.2,501.3 L1352.4,500.4 L1353.5,496.9 L1354.7,497.6 L1355.9,504.1 L1357.1,497.9 L1358.2,500.3 L1359.4,505.3 L1360.6,499.3 L1361.8,500.8 L1362.9,501.6 L1364.1,501.2 L1365.3,504.4 L1366.5,505.7 L1367.6,504.3 L1368.8,503.3 L1370.0,508.7 L1371.2,509.1 L1372.3,507.9 L1373.5,505.4 L1374.7,508.7 L1375.8,509.8 L1377.0,508.9 L1378.2,512.4 L1379.4,509.6 L1380.5,511.0 L1381.7,508.7 L1382.9,512.3 L1384.1,514.2 L1385.2,514.4 L1386.4,511.6 L1387.6,517.2 L1388.8,515.8 L1389.9,514.2 L1391.1,514.7 L1392.3,517.7 L1393.5,514.0 L1394.6,517.7 L1395.8,518.7 L1397.0,517.8 L1398.2,520.7 L1399.3,518.4 L1400.5,518.9 L1401.7,518.1 L1402.8,523.0 L1404.0,519.3 L1405.2,522.4 L1406.4,520.8 L1407.5,525.0 L1408.7,525.5 L1409.9,519.6 L1411.1,526.8 L1412.2,524.5 L1413.4,521.3 L1414.6,524.7 L1415.8,522.1 L1416.9,526.0 L1418.1,523.9 L1419.3,525.6 L1420.5,525.7 L1421.6,528.2 L1422.8,530.2 L1424.0,531.4 L1425.1,527.6 L1426.3,529.7 L1427.5,526.2 L1428.7,529.2 L1429.8,533.8 L1431.0,528.3 L1432.2,534.0 L1433.4,532.9 L1434.5,530.9 L1435.7,534.7 L1436.9,531.7 L1438.1,536.3 L1439.2,531.1 L1440.4,531.8 L1441.6,536.6 L1442.8,534.9 L1443.9,533.2 L1445.1,536.2 L1446.3,535.1 L1447.4,537.3 L1448.6,539.0 L1449.8,540.2 L1451.0,535.1 L1452.1,539.2 L1453.3,542.3 L1454.5,539.0 L1455.7,541.6 L1456.8,537.3 L1458.0,543.1 L1459.2,541.4 L1460.4,544.0 L1461.5,543.6 L1462.7,544.6 L1463.9,539.3 L1465.1,544.3 L1466.2,541.0 L1467.4,541.9 L1468.6,542.6 L1469.8,544.8 L1470.9,545.5 L1472.1,547.9 L1473.3,541.9 L1474.4,543.5 L1475.6,545.0 L1476.8,548.5 L1478.0,547.0 L1479.1,547.0 L1480.3,549.1 L1481.5,548.7 L1482.7,546.5 L1483.8,545.4 L1485.0,548.3 L1486.2,551.5 L1487.4,549.9 L1488.5,546.4 L1489.7,549.4 L1490.9,549.3 L1492.1,551.0 L1493.2,551.4 L1494.4,554.2 L1495.6,550.2 L1496.7,551.0 L1497.9,552.7 L1499.1,554.9 L1500.3,554.0 L1501.4,552.6 L1502.6,555.3 L1503.8,553.3 L1505.0,556.9 L1506.1,552.5 L1507.3,551.7 L1508.5,556.8 L1509.7,553.4 L1510.8,557.5 L1512.0,556.1 L1513.2,555.7 L1514.4,553.0 L1515.5,558.2 L1516.7,553.4 L1517.9,560.0 L1519.1,559.6 L1520.2,555.9 L1521.4,555.0 L1522.6,560.5 L1523.7,558.0 L1524.9,555.8 L1526.1,558.6 L1527.3,557.1 L1528.4,558.5 L1529.6,560.4 L1530.8,562.6 L1532.0,562.1 L1533.1,557.9 L1534.3,560.3 L1535.5,560.7 L1536.7,564.4 L1537.8,558.4 L1539.0,561.6 L1540.2,564.7 L1541.4,561.4 L1542.5,560.7 L1543.7,563.0 L1544.9,561.6 L1546.0,566.1 L1547.2,560.5 L1548.4,561.6 L1549.6,561.0 L1550.7,565.6 L1551.9,563.0 L1553.1,567.5 L1554.3,567.7 L1555.4,568.2 L1556.6,563.8 L1557.8,562.3 L1559.0,565.2 L1560.1,569.5 L1561.3,568.3 L1562.5,563.7 L1563.7,568.4 L1564.8,570.2 L1566.0,570.8 L1567.2,569.3 L1568.4,570.6 L1569.5,570.7 L1570.7,567.6 L1571.9,566.0 L1573.0,570.7 L1574.2,566.8 L1575.4,568.8 L1576.6,573.3 L1577.7,570.5 L1578.9,570.5 L1580.1,573.7 L1581.3,569.4 L1582.4,574.6 L1583.6,574.2 L1584.8,570.7 L1586.0,570.7 L1587.1,569.5 L1588.3,575.3 L1589.5,570.5 L1590.7,569.5 L1591.8,575.9 L1593.0,574.1 L1594.2,574.8 L1595.3,575.5 L1596.5,571.0 L1597.7,571.5 L1598.9,574.6 L1600.0,571.7 L1601.2,575.2 L1602.4,577.0 L1603.6,576.7 L1604.7,576.7 L1605.9,572.9 L1607.1,574.5 L1608.3,579.4 L1609.4,574.2 L1610.6,577.3 L1611.8,574.2 L1613.0,580.6 L1614.1,575.5 L1615.3,577.4 L1616.5,578.6 L1617.7,580.0 L1618.8,581.8 L1620.0,580.6 L1621.2,578.2 L1622.3,576.5 L1623.5,581.2 L1624.7,583.2 L1625.9,576.8 L1627.0,582.3 L1628.2,578.4 L1629.4,580.6 L1630.6,581.3 L1631.7,582.2 L1632.9,585.0 L1634.1,583.1 L1635.3,581.3 L1636.4,583.8 L1637.6,582.3 L1638.8,582.1 L1640.0,582.0 L1641.1,583.2 L1642.3,581.9 L1643.5,581.9 L1644.6,581.5 L1645.8,583.7 L1647.0,582.9 L1648.2,586.9 L1649.3,587.2 L1650.5,583.9 L1651.7,586.1 L1652.9,588.3 L1654.0,584.7 L1655.2,586.3 L1656.4,585.8 L1657.6,587.4 L1658.7,589.8 L1659.9,584.3 L1661.1,590.3 L1662.3,588.4 L1663.4,589.6 L1664.6,588.7 L1665.8,590.5 L1667.0,586.9 L1668.1,589.8 L1669.3,587.0 L1670.5,588.9 L1671.6,590.3 L1672.8,587.2 L1674.0,586.4 L1675.2,591.7 L1676.3,592.1 L1677.5,591.3 L1678.7,589.1 L1679.9,591.7 L1681.0,587.9 L1682.2,592.1 L1683.4,591.7 L1684.6,592.2 L1685.7,591.3 L1686.9,589.9 L1688.1,593.6 L1689.3,592.0 L1690.4,594.2 L1691.6,591.7 L1692.8,590.0 L1693.9,593.4 L1695.1,594.2 L1696.3,596.5 L1697.5,596.4 L1698.6,590.9 L1699.8,596.0 L1701.0,592.7 L1702.2,595.9 L1703.3,593.9 L1704.5,593.7 L1705.7,595.1 L1706.9,595.6 L1708.0,596.9 L1709.2,596.8 L1710.4,597.2 L1711.6,595.4 L1712.7,597.6 L1713.9,595.5 L1715.1,597.6 L1716.3,596.7 L1717.4,597.6 L1718.6,594.1 L1719.8,597.6 L1720.9,595.9 L1722.1,597.2 L1723.3,595.2 L1724.5,599.5 L1725.6,601.3 L1726.8,597.8 L1728.0,596.2 L1729.2,600.0 L1730.3,596.8 L1731.5,602.3 L1732.7,597.1 L1733.9,599.0 L1735.0,600.1 L1736.2,597.7 L1737.4,599.3 L1738.6,599.2 L1739.7,602.4 L1740.9,604.5 L1742.1,600.3 L1743.2,603.5 L1744.4,599.2 L1745.6,602.4 L1746.8,601.6 L1747.9,600.8 L1749.1,604.7 L1750.3,604.3 L1751.5,600.2 L1752.6,601.5 L1753.8,605.4 L1755.0,606.8 L1756.2,604.3 L1757.3,606.3 L1758.5,607.2 L1759.7,605.7 L1760.9,605.2 L1762.0,602.5 L1763.2,603.7 L1764.4,605.6 L1765.5,607.9 L1766.7,603.8 L1767.9,604.6 L1769.1,602.2 L1770.2,607.0 L1771.4,605.4 L1772.6,608.1 L1773.8,604.3 L1774.9,607.5 L1776.1,607.7 L1777.3,606.5 L1778.5,604.7 L1779.6,606.4 L1780.8,608.9 L1782.0,605.2 L1783.2,604.7 L1784.3,607.5 L1785.5,606.1 L1786.7,610.2 L1787.9,610.5 L1789.0,611.5 L1790.2,611.0 L1791.4,609.8 L1792.5,606.8 L1793.7,611.4 L1794.9,610.9 L1796.1,611.2 L1797.2,611.0 L1798.4,612.1 L1799.6,608.6 L1800.8,611.3 L1801.9,610.4 L1803.1,609.3 L1804.3,609.4 L1805.5,608.4 L1806.6,610.9 L1807.8,610.2 L1809.0,610.8 L1810.2,613.9 L1811.3,612.9 L1812.5,613.1 L1813.7,615.3 L1814.8,610.2 L1816.0,612.4 L1817.2,609.6 L1818.4,611.9 L1819.5,615.9 L1820.7,610.1 L1821.9,614.9 L1823.1,615.9 L1824.2,613.5 L1825.4,615.7 L1826.6,613.4 L1827.8,613.0 L1828.9,614.2 L1830.1,612.2 L1831.3,613.1 L1832.5,613.3 L1833.6,618.2 L1834.8,613.8 L1836.0,613.3 L1837.2,618.4 L1838.3,613.0 L1839.5,618.9 L1840.7,618.3 L1841.8,617.0 L1843.0,615.6 L1844.2,614.2 L1845.4,613.7 L1846.5,613.9 L1847.7,615.8 L1848.9,616.3 L1850.1,620.1 L1851.2,617.6 L1852.4,620.9 L1853.6,619.2 L1854.8,615.3 L1855.9,618.3 L1857.1,615.8 L1858.3,615.1 L1859.5,621.6 L1860.6,617.5 L1861.8,616.6 L1863.0,616.2 L1864.1,620.2 L1865.3,619.0 L1866.5,616.1 L1867.7,621.1 L1868.8,618.1 L1870.0,621.9 L1871.2,620.1 L1872.4,620.5 L1873.5,620.2 L1874.7,621.9 L1875.9,624.2 L1877.1,623.0 L1878.2,618.1 L1879.4,621.2 L1880.6,619.6 L1881.8,618.8 L1882.9,619.7 L1884.1,620.2 L1885.3,625.3 L1886.5,624.0 L1887.6,624.9 L1888.8,624.0 L1890.0,621.5 L1891.1,622.1 L1892.3,622.6 L1893.5,621.8 L1894.7,622.8 L1895.8,625.4 L1897.0,620.7 L1898.2,622.3 L1899.4,623.9 L1900.5,625.4 L1901.7,625.3 L1902.9,626.1 L1904.1,621.9 L1905.2,622.6 L1906.4,623.6 L1907.6,623.6 L1908.8,627.0 L1909.9,628.8 L1911.1,626.8 L1912.3,622.5 L1913.4,624.5 L1914.6,628.1 L1915.8,629.1 L1917.0,627.0 L1918.1,625.4 L1919.3,625.6 L1920.5,627.7 L1921.7,629.5 L1922.8,626.0 L1924.0,625.1 L1925.2,623.9 L1926.4,625.0 L1927.5,630.1 L1928.7,628.7 L1929.9,631.4 L1931.1,625.1 L1932.2,627.3 L1933.4,630.4 L1934.6,629.6 L1935.8,625.7 L1936.9,628.1 L1938.1,629.9 L1939.3,630.4 L1940.4,628.9 L1941.6,627.2 L1942.8,632.8 L1944.0,629.4 L1945.1,631.3 L1946.3,630.2 L1947.5,627.2 L1948.7,628.4 L1949.8,627.3 L1951.0,628.3 L1952.2,628.5 L1953.4,630.2 L1954.5,629.7 L1955.7,630.1 L1956.9,633.4 L1958.1,628.0 L1959.2,628.7 L1960.4,633.7 L1961.6,631.9 L1962.7,631.4 L1963.9,630.3 L1965.1,632.4 L1966.3,630.3 L1967.4,634.9 L1968.6,634.8 L1969.8,631.4 L1971.0,629.4 L1972.1,635.6 L1973.3,631.6 L1974.5,634.2 L1975.7,635.8 L1976.8,635.5 L1978.0,636.1 L1979.2,633.6 L1980.4,636.2 L1981.5,633.6 L1982.7,632.4 L1983.9,634.0 L1985.1,633.1 L1986.2,636.3 L1987.4,636.9 L1988.6,632.2 L1989.7,632.5 L1990.9,634.1 L1992.1,634.8 L1993.3,638.3 L1994.4,638.4 L1995.6,638.7 L1996.8,637.1 L1998.0,636.9 L1999.1,634.2 L2000.3,635.0 L2001.5,632.6 L2002.7,638.5 L2003.8,634.7 L2005.0,633.5 L2006.2,635.2 L2007.4,635.4 L2008.5,638.3 L2009.7,633.4 L2010.9,635.1 L2011.0,639.7" stroke="#008080" stroke-dasharray="20.5 10.7 1.5 10.7" stroke-dashoffset="-6"/>
<path d="M250.0,627.4 L251.0,712.3 L252.1,627.0 L253.1,684.9 L254.1,693.5 L255.1,635.7 L256.2,640.5 L257.2,631.0 L258.2,597.8 L259.2,633.5 L260.3,603.0 L261.3,599.6 L262.3,586.4 L263.4,581.5 L264.4,638.4 L265.4,593.0 L266.4,570.8 L267.5,597.6 L268.5,593.0 L269.5,591.3 L270.5,610.2 L271.6,535.5 L272.6,550.9 L273.6,538.7 L274.6,511.2 L275.7,521.9 L276.7,536.7 L277.7,533.2 L278.8,548.5 L279.8,531.8 L280.8,541.1 L281.8,507.3 L282.9,497.5 L283.9,509.7 L284.9,489.1 L285.9,506.6 L287.0,510.6 L288.0,526.4 L289.0,533.9 L290.1,474.1 L291.1,534.0 L292.1,515.3 L293.1,530.7 L294.2,471.7 L295.2,486.6 L296.2,492.9 L297.2,506.1 L298.3,477.9 L299.3,484.4 L300.3,472.6 L301.4,480.7 L302.4,482.1 L303.4,483.0 L304.4,488.1 L305.5,460.0 L306.5,478.1 L307.5,446.0 L308.5,470.3 L309.6,459.2 L310.6,439.7 L311.6,443.6 L312.7,432.0 L313.7,445.3 L314.7,444.9 L315.7,447.1 L316.8,425.7 L317.8,454.5 L318.8,434.8 L319.8,432.0 L320.9,459.5 L321.9,445.4 L322.9,447.5 L323.9,441.1 L325.0,426.1 L326.0,422.7 L327.0,423.9 L328.1,430.8 L329.1,422.6 L330.1,436.5 L331.1,458.8 L332.2,448.1 L333.2,428.0 L334.2,427.6 L335.2,449.3 L336.3,457.9 L337.3,441.1 L338.3,424.4 L339.4,433.1 L340.4,419.4 L341.4,431.9 L342.4,452.7 L343.5,420.9 L344.5,431.7 L345.5,440.2 L346.5,454.5 L347.6,439.6 L348.6,430.8 L349.6,440.2 L350.7,423.5 L351.7,414.3 L352.7,447.6 L353.7,430.5 L354.8,451.3 L355.8,417.1 L356.8,408.8 L357.8,431.4 L358.9,440.2 L359.9,452.4 L360.9,436.0 L362.0,410.6 L363.0,431.6 L364.0,423.3 L365.0,413.7 L366.1,442.3 L367.1,437.1 L368.1,441.0 L369.1,431.5 L370.2,435.0 L371.2,434.1 L372.2,413.9 L373.2,427.4 L374.3,441.2 L375.3,417.8 L376.3,408.0 L377.4,401.0 L378.4,403.1 L379.4,418.8 L380.4,399.3 L381.5,428.7 L382.5,430.2 L383.5,439.2 L384.5,429.9 L385.6,414.9 L386.6,430.1 L387.6,428.6 L388.7,396.5 L389.7,394.0 L390.7,400.9 L391.7,434.3 L392.8,407.8 L393.8,426.8 L394.8,405.6 L395.8,417.7 L396.9,404.4 L397.9,423.8 L398.9,409.3 L400.0,427.9 L401.0,421.1 L402.0,427.9 L403.0,397.8 L404.1,394.5 L405.1,410.3 L406.1,412.0 L407.1,398.5 L408.2,385.1 L409.2,388.4 L410.2,420.9 L411.3,388.3 L412.3,388.0 L413.3,394.5 L414.3,374.8 L415.4,374.5 L416.4,401.5 L417.4,386.1 L418.4,372.2 L419.5,401.5 L420.5,371.5 L421.5,389.1 L422.5,388.5 L423.6,360.6 L424.6,358.9 L425.6,389.1 L426.7,359.8 L427.7,361.7 L428.7,391.2 L429.7,376.1 L430.8,390.8 L431.8,389.8 L432.8,382.1 L433.8,352.7 L434.9,371.5 L435.9,359.1 L436.9,354.7 L438.0,365.9 L439.0,381.8 L440.0,387.5 L441.0,367.6 L442.1,367.0 L443.1,382.9 L444.1,369.1 L445.1,379.7 L446.2,364.2 L447.2,384.7 L448.2,372.3 L449.3,360.5 L450.3,346.9 L451.3,379.7 L452.3,341.2 L453.4,340.5 L454.4,338.1 L455.4,373.9 L456.4,368.0 L457.5,338.2 L458.5,337.6 L459.5,341.8 L460.6,364.4 L461.6,348.9 L462.6,368.5 L463.6,374.6 L464.7,360.3 L465.7,351.9 L466.7,368.9 L467.7,341.9 L468.8,361.1 L469.8,330.5 L470.8,339.9 L471.8,356.1 L472.9,360.1 L473.9,345.9 L474.9,346.6 L476.0,358.4 L477.0,357.4 L478.0,356.8 L479.0,363.6 L480.1,326.9 L481.1,335.7 L482.1,354.8 L483.1,360.9 L484.2,358.3 L485.2,340.2 L486.2,355.0 L487.3,345.2 L488.3,323.5 L489.3,355.2 L490.3,335.7 L491.4,317.8 L492.4,325.7 L493.4,325.9 L494.4,318.3 L495.5,357.1 L496.5,333.3 L497.5,338.5 L498.6,339.7 L499.6,354.5 L500.6,336.7 L501.6,327.4 L502.7,331.2 L503.7,325.3 L504.7,344.5 L505.7,349.2 L506.8,318.7 L507.8,312.0 L508.8,348.1 L509.8,338.3 L510.9,350.5 L511.9,324.2 L512.9,318.1 L514.0,348.2 L515.0,311.7 L516.0,342.7 L517.0,343.0 L518.1,344.8 L519.1,328.1 L520.1,317.6 L521.1,309.0 L522.2,327.9 L523.2,350.5 L524.2,322.1 L525.3,330.2 L526.3,313.2 L527.3,336.5 L528.3,342.9 L529.4,319.9 L530.4,329.7 L531.4,318.4 L532.4,319.0 L533.5,308.7 L534.5,324.3 L535.5,342.9 L536.6,339.5 L537.6,337.1 L538.6,323.8 L539.6,329.6 L540.7,333.8 L541.7,312.5 L542.7,343.2 L543.7,320.2 L544.8,324.1 L545.8,311.8 L546.8,328.8 L547.9,341.6 L548.9,327.3 L549.9,333.1 L550.9,337.1 L552.0,351.0 L553.0,348.1 L554.0,333.1 L555.0,326.9 L556.1,348.8 L557.1,336.6 L558.1,349.6 L559.1,321.8 L560.2,326.3 L561.2,344.7 L562.2,341.6 L563.3,330.6 L564.3,332.4 L565.3,332.1 L566.3,350.7 L567.4,320.6 L568.4,326.8 L569.4,346.6 L570.4,326.3 L571.5,344.4 L572.5,337.1 L573.5,353.7 L574.6,352.8 L575.6,332.1 L576.6,328.6 L577.6,322.8 L578.7,339.0 L579.7,339.3 L580.7,351.9 L581.7,352.3 L582.8,353.3 L583.8,350.9 L584.8,347.6 L585.9,339.6 L586.9,330.8 L587.9,353.0 L588.9,355.0 L590.0,328.5 L591.0,332.4 L592.0,344.3 L593.0,332.1 L594.1,341.1 L595.1,357.9 L596.1,332.7 L597.2,344.8 L598.2,341.8 L599.2,331.5 L600.2,329.1 L601.3,332.2 L602.3,313.5 L603.3,317.2 L604.3,345.0 L605.4,317.7 L606.4,322.2 L607.4,329.4 L608.4,343.2 L609.5,339.0 L610.5,327.4 L611.5,338.2 L612.6,318.3 L613.6,340.1 L614.6,308.4 L615.6,316.1 L616.7,315.5 L617.7,321.0 L618.7,308.9 L619.7,340.3 L620.8,316.4 L621.8,325.7 L622.8,304.6 L623.9,320.9 L624.9,316.9 L625.9,300.7 L626.9,319.6 L628.0,325.8 L629.0,330.5 L630.0,325.4 L631.0,326.8 L632.1,319.5 L633.1,322.1 L634.1,309.1 L635.2,310.5 L636.2,304.9 L637.2,315.3 L638.2,304.9 L639.3,309.3 L640.3,321.5 L641.3,310.4 L642.3,304.5 L643.4,300.9 L644.4,310.0 L645.4,310.2 L646.5,315.6 L647.5,290.5 L648.5,295.2 L649.5,299.2 L650.6,306.1 L651.6,293.7 L652.6,278.9 L653.6,300.5 L654.7,274.9 L655.7,288.6 L656.7,307.8 L657.7,302.4 L658.8,301.8 L659.8,272.9 L660.8,263.2 L661.9,265.2 L662.9,291.7 L663.9,298.2 L664.9,298.2 L666.0,275.2 L667.0,286.2 L668.0,288.0 L669.0,255.4 L670.1,274.2 L671.1,282.0 L672.1,265.1 L673.2,267.8 L674.2,247.1 L675.2,252.5 L676.2,249.6 L677.3,262.2 L678.3,278.9 L679.3,264.4 L680.3,260.5 L681.4,249.3 L682.4,239.1 L683.4,252.5 L684.5,251.6 L685.5,243.9 L686.5,231.7 L687.5,266.0 L688.6,252.0 L689.6,248.0 L690.6,247.0 L691.6,246.0 L692.7,244.4 L693.7,245.4 L694.7,228.0 L695.8,222.2 L696.8,237.6 L697.8,245.3 L698.8,228.5 L699.9,231.5 L700.9,210.6 L701.9,227.5 L702.9,218.0 L704.0,236.8 L705.0,206.6 L706.0,210.6 L707.0,232.1 L708.1,202.4 L709.1,211.8 L710.1,219.5 L711.2,217.7 L712.2,217.8 L713.2,234.0 L714.2,195.5 L715.3,221.3 L716.3,205.9 L717.3,203.7 L718.3,194.0 L719.4,200.2 L720.4,225.1 L721.4,224.4 L722.5,225.0 L723.5,206.8 L724.5,192.0 L725.5,188.0 L726.6,196.2 L727.6,202.3 L728.6,202.0 L729.6,215.3 L730.7,199.8 L731.7,210.2 L732.7,189.3 L733.8,215.3 L734.8,212.9 L735.8,189.5 L736.8,209.7 L737.9,197.8 L738.9,188.5 L739.9,186.1 L740.9,189.8 L742.0,173.8 L743.0,199.5 L744.0,180.0 L745.1,197.6 L746.1,172.7 L747.1,184.5 L748.1,171.1 L749.2,183.2 L750.2,189.6 L751.2,182.7 L752.2,167.9 L753.3,195.1 L754.3,192.7 L755.3,193.3 L756.3,175.1 L757.4,176.4 L758.4,163.0 L759.4,162.4 L760.5,177.2 L761.5,179.0 L762.5,167.8 L763.5,174.9 L764.6,174.1 L765.6,166.7 L766.6,163.0 L767.6,179.8 L768.7,153.0 L769.7,157.2 L770.7,175.4 L771.8,165.4 L772.8,162.9 L773.8,159.7 L774.8,152.4 L775.9,164.0 L776.9,159.6 L777.9,152.1 L778.9,157.3 L780.0,157.2 L781.0,159.4 L782.0,143.5 L783.1,139.3 L784.1,139.5 L785.1,150.1 L786.1,153.8 L787.2,160.5 L788.2,149.6 L789.2,160.9 L790.2,148.4 L791.3,136.9 L792.3,134.8 L793.3,148.6 L794.3,143.2 L795.4,135.2 L796.4,141.7 L797.4,154.5 L798.5,159.8 L799.5,132.1 L800.5,131.6 L801.5,131.6 L802.6,139.3 L803.6,139.4 L804.6,136.4 L805.6,149.9 L806.7,134.8 L807.7,136.6 L808.7,136.6 L809.8,137.7 L810.8,131.9 L811.8,143.4 L812.8,139.4 L813.9,141.5 L814.9,135.4 L815.9,131.6 L816.9,135.5 L818.0,142.3 L819.0,146.0 L820.0,140.5 L821.1,127.3 L822.1,130.9 L823.1,138.0 L824.1,140.8 L825.2,126.1 L826.2,124.1 L827.2,122.6 L828.2,134.5 L829.3,122.4 L830.3,132.7 L831.3,129.4 L832.4,134.2 L833.4,125.0 L834.4,128.4 L835.4,135.1 L836.5,118.1 L837.5,122.3 L838.5,124.9 L839.5,130.0 L840.6,120.3 L841.6,118.7 L842.6,124.0 L843.6,118.2 L844.7,117.2 L845.7,119.4 L846.7,111.8 L847.8,107.8 L848.8,115.7 L849.8,117.2 L850.8,113.0 L851.9,111.6 L852.9,114.2 L853.9,107.0 L854.9,104.4 L856.0,110.6 L857.0,104.8 L858.0,106.6 L859.1,107.3 L860.1,104.7 L861.1,108.5 L862.1,110.2 L863.2,101.2 L864.2,113.2 L865.2,108.4 L866.2,113.4 L867.3,110.3 L868.3,105.0 L869.3,106.9 L870.4,104.9 L871.4,97.3 L872.4,109.5 L873.4,99.2 L874.5,99.4 L875.5,95.4 L876.5,101.0 L877.5,97.9 L878.6,105.6 L879.6,102.0 L880.6,103.7 L881.7,97.7 L882.7,100.3 L883.7,99.8 L884.7,96.5 L885.8,100.1 L886.8,100.9 L887.8,102.8 L888.8,98.2 L889.9,98.5 L890.9,100.8 L891.9,104.9 L892.9,97.0 L894.0,103.9 L895.0,104.0 L896.0,95.8 L897.1,99.3 L898.1,95.8 L899.1,100.4 L900.1,104.5 L901.2,105.2 L902.2,95.9 L903.2,95.5 L904.2,103.9 L905.3,95.4 L906.3,104.1 L907.3,99.6 L908.4,102.5 L909.4,105.3 L910.4,98.3 L911.4,103.4 L912.5,102.3 L913.5,105.3 L914.5,103.2 L915.5,104.3 L916.6,106.5 L917.6,101.7 L918.6,102.0 L919.7,99.2 L920.7,106.1 L921.7,103.6 L922.7,108.0 L923.8,102.7 L924.8,107.6 L925.8,103.8 L926.8,107.5 L927.9,102.6 L928.9,102.0 L929.9,103.9 L931.0,108.5 L932.0,109.0 L933.0,104.0 L934.0,105.4 L935.1,108.3 L936.1,105.7 L937.1,110.3 L938.1,111.0 L939.2,106.7 L940.2,106.2 L941.2,108.6 L942.2,109.3 L943.3,109.2 L944.3,110.9 L945.3,114.0 L946.4,109.2 L947.4,114.3 L948.4,113.3 L949.4,112.1 L950.5,111.0 L951.5,110.5 L952.5,110.6 L953.5,110.4 L954.6,113.0 L955.6,113.6 L956.6,113.2 L957.7,116.8 L958.7,116.9 L959.7,112.9 L960.7,116.2 L961.8,114.2 L962.8,113.7 L963.8,119.5 L964.8,116.4 L965.9,116.8 L966.9,116.5 L967.9,120.5 L969.0,116.6 L970.0,119.7 L971.0,121.5 L972.0,121.6 L973.1,120.1 L974.1,121.5 L975.1,119.0 L976.1,123.6 L977.2,119.8 L978.2,123.0 L979.2,123.1 L980.3,121.3 L981.3,121.6 L982.3,123.0 L983.3,124.3 L984.4,126.0 L985.4,125.6 L986.4,127.5 L987.4,127.4 L988.5,127.9 L989.5,126.4 L990.5,128.7 L991.5,129.1 L992.6,130.0 L993.6,130.4 L994.6,130.3 L995.7,129.8 L996.7,130.3 L997.7,131.8 L998.7,131.2 L999.8,133.2 L1000.8,132.2 L1001.8,133.1 L1002.8,136.7 L1003.9,135.0 L1004.9,137.5 L1005.9,137.9 L1007.0,137.6 L1008.0,139.5 L1009.0,139.3 L1010.0,137.8 L1011.1,139.3 L1012.0,140.8 L1014.9,141.8 L1017.8,143.5 L1020.8,145.6 L1023.7,147.5 L1026.6,150.3 L1029.6,152.4 L1032.5,154.1 L1035.4,156.0 L1038.4,158.2 L1041.3,159.4 L1044.2,162.3 L1047.2,163.6 L1050.1,166.4 L1053.1,168.4 L1056.0,170.2 L1058.9,171.8 L1061.9,174.8 L1064.8,176.3 L1067.7,178.7 L1070.7,181.6 L1073.6,183.6 L1076.5,185.6 L1079.5,188.7 L1082.4,190.1 L1085.3,193.3 L1088.3,195.9 L1091.2,197.6 L1094.1,200.8 L1097.1,202.6 L1100.0,205.3 L1102.9,208.1 L1105.9,211.1 L1108.8,213.2 L1111.7,215.5 L1114.7,218.7 L1117.6,221.0 L1120.5,224.2 L1123.5,226.2 L1126.4,229.2 L1129.3,231.2 L1132.3,234.3 L1135.2,236.4 L1138.2,239.5 L1141.1,241.4 L1144.0,244.1 L1147.0,246.8 L1149.9,248.7 L1152.8,251.3 L1155.8,254.1 L1158.7,256.5 L1161.6,258.9 L1164.6,261.2 L1167.5,263.5 L1170.4,265.7 L1173.4,268.5 L1176.3,270.4 L1179.2,273.2 L1182.2,275.4 L1185.1,277.6 L1188.0,279.7 L1191.0,282.1 L1193.9,284.8 L1196.8,287.7 L1199.8,290.1 L1202.7,292.1 L1205.6,294.9 L1208.6,297.1 L1211.5,299.5 L1214.5,302.4 L1217.4,304.7 L1220.3,307.3 L1223.3,309.5 L1226.2,312.3 L1229.1,313.9 L1232.1,316.7 L1235.0,318.6 L1237.9,320.8 L1240.9,323.6 L1243.8,325.3 L1246.7,328.2 L1249.7,329.7 L1252.6,331.8 L1255.5,334.3 L1258.5,336.0 L1261.4,338.4 L1264.3,340.2 L1267.3,342.5 L1270.2,344.3 L1273.1,346.1 L1276.1,348.0 L1279.0,350.2 L1281.9,351.7 L1284.9,353.7 L1287.8,355.6 L1290.7,357.3 L1293.7,359.0 L1296.6,360.8 L1299.6,362.2 L1302.5,363.7 L1305.4,365.6 L1308.4,367.4 L1311.3,368.9 L1314.2,370.7 L1317.2,372.4 L1320.1,374.2 L1323.0,375.7 L1326.0,377.5 L1328.9,378.9 L1331.8,380.2 L1334.8,382.1 L1337.7,383.3 L1340.6,385.4 L1343.6,387.3 L1346.5,388.6 L1349.4,389.6 L1352.4,391.6 L1355.3,392.8 L1358.2,394.9 L1361.2,395.9 L1364.1,398.0 L1367.0,398.9 L1370.0,401.1 L1372.9,402.5 L1375.8,404.1 L1378.8,405.6 L1381.7,406.9 L1384.7,408.6 L1387.6,409.9 L1390.5,411.1 L1393.5,412.5 L1396.4,413.9 L1399.3,415.4 L1402.3,417.1 L1405.2,417.9 L1408.1,419.4 L1411.1,421.3 L1414.0,422.3 L1416.9,423.9 L1419.9,424.8 L1422.8,426.7 L1425.7,427.3 L1428.7,429.1 L1431.6,430.0 L1434.5,431.7 L1437.5,432.9 L1440.4,433.8 L1443.3,435.2 L1446.3,436.2 L1449.2,437.7 L1452.1,438.7 L1455.1,439.9 L1458.0,441.2 L1460.9,442.3 L1463.9,444.1 L1466.8,445.1 L1469.8,445.6 L1472.7,446.8 L1475.6,448.6 L1478.6,449.4 L1481.5,450.4 L1484.4,451.1 L1487.4,452.2 L1490.3,453.6 L1493.2,454.7 L1496.2,455.7 L1499.1,456.5 L1502.0,457.8 L1505.0,459.3 L1507.9,460.1 L1510.8,461.1 L1513.8,462.5 L1516.7,463.0 L1519.6,464.6 L1522.6,465.2 L1525.5,466.7 L1528.4,467.4 L1531.4,468.2 L1534.3,469.6 L1537.2,470.3 L1540.2,471.8 L1543.1,472.9 L1546.0,473.6 L1549.0,474.8 L1551.9,475.5 L1554.9,476.7 L1557.8,477.1 L1560.7,478.0 L1563.7,478.8 L1566.6,479.9 L1569.5,480.9 L1572.5,481.7 L1575.4,482.4 L1578.3,483.6 L1581.3,484.0 L1584.2,485.2 L1587.1,486.4 L1590.1,487.0 L1593.0,487.9 L1595.9,488.6 L1598.9,489.4 L1601.8,489.9 L1604.7,490.7 L1607.7,491.8 L1610.6,493.0 L1613.5,493.6 L1616.5,494.5 L1619.4,495.5 L1622.3,496.3 L1625.3,497.0 L1628.2,497.6 L1631.1,498.1 L1634.1,499.2 L1637.0,499.9 L1640.0,501.0 L1642.9,502.0 L1645.8,502.9 L1648.8,503.6 L1651.7,504.3 L1654.6,505.1 L1657.6,505.8 L1660.5,506.3 L1663.4,507.4 L1666.4,508.3 L1669.3,509.1 L1672.2,510.4 L1675.2,511.0 L1678.1,512.0 L1681.0,512.7 L1684.0,513.3 L1686.9,514.2 L1689.8,515.0 L1692.8,515.7 L1695.7,516.3 L1698.6,517.0 L1701.6,517.9 L1704.5,518.8 L1707.4,520.2 L1710.4,520.5 L1713.3,521.3 L1716.2,522.0 L1719.2,523.2 L1722.1,523.8 L1725.1,524.4 L1728.0,525.4 L1730.9,525.9 L1733.9,526.9 L1736.8,527.9 L1739.7,528.2 L1742.7,529.5 L1745.6,529.8 L1748.5,530.3 L1751.5,530.9 L1754.4,531.8 L1757.3,532.7 L1760.3,533.8 L1763.2,534.2 L1766.1,535.2 L1769.1,535.7 L1772.0,536.4 L1774.9,536.7 L1777.9,537.9 L1780.8,538.8 L1783.7,539.4 L1786.7,540.1 L1789.6,540.8 L1792.5,541.0 L1795.5,542.0 L1798.4,542.6 L1801.4,543.4 L1804.3,543.8 L1807.2,544.6 L1810.2,545.4 L1813.1,546.0 L1816.0,546.6 L1819.0,547.2 L1821.9,547.6 L1824.8,548.3 L1827.8,549.7 L1830.7,550.1 L1833.6,550.3 L1836.6,551.5 L1839.5,552.2 L1842.4,552.7 L1845.4,553.1 L1848.3,554.1 L1851.2,554.0 L1854.2,555.1 L1857.1,555.7 L1860.0,555.9 L1863.0,556.6 L1865.9,557.1 L1868.8,557.9 L1871.8,558.8 L1874.7,558.8 L1877.6,559.5 L1880.6,560.5 L1883.5,561.3 L1886.5,561.7 L1889.4,562.1 L1892.3,562.9 L1895.3,563.2 L1898.2,564.1 L1901.1,564.4 L1904.1,565.2 L1907.0,565.8 L1909.9,565.9 L1912.9,566.2 L1915.8,567.3 L1918.7,567.9 L1921.7,568.5 L1924.6,568.7 L1927.5,569.0 L1930.5,570.1 L1933.4,570.7 L1936.3,570.7 L1939.3,571.4 L1942.2,572.0 L1945.1,572.4 L1948.1,573.4 L1951.0,574.1 L1953.9,574.7 L1956.9,575.1 L1959.8,575.4 L1962.7,575.8 L1965.7,576.7 L1968.6,576.8 L1971.6,577.4 L1974.5,577.9 L1977.4,578.5 L1980.4,579.4 L1983.3,579.5 L1986.2,580.0 L1989.2,580.4 L1992.1,581.1 L1995.0,581.6 L1998.0,582.1 L2000.9,582.7 L2003.8,583.1 L2006.8,583.4 L2009.7,584.2 L2011.0,584.2" stroke="#ff00ff"/>
<path d="M250.0,724.3 L251.0,648.6 L252.1,688.6 L253.1,709.3 L254.1,700.6 L255.1,722.8 L256.2,714.7 L257.2,719.6 L258.2,619.8 L259.2,664.1 L260.3,668.1 L261.3,622.5 L262.3,615.3 L263.4,698.9 L264.4,711.9 L265.4,689.5 L266.4,641.0 L267.5,676.6 L268.5,635.1 L269.5,673.9 L270.5,628.0 L271.6,670.6 L272.6,685.1 L273.6,680.6 L274.6,666.9 L275.7,664.3 L276.7,640.7 L277.7,621.2 L278.8,645.2 L279.8,570.8 L280.8,588.5 L281.8,602.3 L282.9,587.4 L283.9,606.9 L284.9,556.8 L285.9,542.7 L287.0,543.2 L288.0,599.2 L289.0,536.2 L290.1,539.7 L291.1,547.3 L292.1,561.0 L293.1,568.6 L294.2,520.0 L295.2,572.1 L296.2,558.4 L297.2,528.4 L298.3,518.1 L299.3,539.8 L300.3,537.1 L301.4,515.9 L302.4,508.0 L303.4,539.1 L304.4,531.2 L305.5,535.4 L306.5,501.3 L307.5,525.3 L308.5,487.6 L309.6,480.7 L310.6,486.2 L311.6,513.8 L312.7,499.5 L313.7,502.2 L314.7,500.1 L315.7,501.5 L316.8,486.0 L317.8,504.1 L318.8,470.9 L319.8,487.3 L320.9,472.0 L321.9,474.9 L322.9,510.7 L323.9,496.3 L325.0,504.7 L326.0,495.7 L327.0,493.8 L328.1,503.7 L329.1,495.4 L330.1,489.8 L331.1,491.6 L332.2,491.8 L333.2,481.0 L334.2,495.8 L335.2,483.4 L336.3,494.5 L337.3,486.4 L338.3,498.2 L339.4,495.4 L340.4,465.0 L341.4,498.9 L342.4,503.8 L343.5,477.5 L344.5,495.7 L345.5,500.5 L346.5,484.3 L347.6,467.0 L348.6,494.4 L349.6,499.0 L350.7,474.4 L351.7,469.8 L352.7,494.7 L353.7,482.8 L354.8,459.5 L355.8,467.5 L356.8,468.1 L357.8,484.5 L358.9,483.1 L359.9,480.9 L360.9,472.5 L362.0,474.5 L363.0,479.1 L364.0,481.9 L365.0,481.4 L366.1,487.9 L367.1,500.2 L368.1,488.6 L369.1,476.4 L370.2,498.2 L371.2,458.9 L372.2,496.2 L373.2,475.1 L374.3,473.8 L375.3,489.9 L376.3,478.3 L377.4,487.3 L378.4,466.0 L379.4,473.7 L380.4,477.2 L381.5,457.6 L382.5,480.6 L383.5,452.0 L384.5,450.0 L385.6,455.2 L386.6,478.7 L387.6,462.4 L388.7,441.3 L389.7,447.6 L390.7,463.0 L391.7,439.1 L392.8,449.5 L393.8,443.6 L394.8,464.0 L395.8,438.2 L396.9,447.2 L397.9,449.5 L398.9,468.7 L400.0,444.9 L401.0,431.4 L402.0,442.9 L403.0,439.1 L404.1,446.5 L405.1,425.0 L406.1,436.9 L407.1,445.8 L408.2,433.3 L409.2,455.9 L410.2,428.2 L411.3,449.6 L412.3,424.0 L413.3,425.6 L414.3,438.0 L415.4,429.4 L416.4,445.9 L417.4,442.8 L418.4,414.9 L419.5,415.7 L420.5,429.4 L421.5,435.3 L422.5,404.1 L423.6,439.1 L424.6,413.8 L425.6,403.8 L426.7,408.8 L427.7,432.2 L428.7,407.4 L429.7,400.8 L430.8,421.8 L431.8,435.5 L432.8,408.3 L433.8,416.8 L434.9,410.9 L435.9,435.3 L436.9,431.4 L438.0,414.2 L439.0,435.7 L440.0,401.6 L441.0,409.9 L442.1,416.0 L443.1,424.7 L444.1,421.3 L445.1,408.1 L446.2,430.7 L447.2,432.0 L448.2,425.6 L449.3,407.4 L450.3,422.9 L451.3,397.7 L452.3,392.8 L453.4,387.7 L454.4,419.1 L455.4,426.0 L456.4,395.1 L457.5,412.9 L458.5,391.8 L459.5,413.4 L460.6,385.7 L461.6,400.3 L462.6,411.4 L463.6,418.3 L464.7,404.3 L465.7,404.0 L466.7,390.7 L467.7,379.3 L468.8,406.5 L469.8,373.7 L470.8,402.3 L471.8,382.2 L472.9,370.0 L473.9,373.6 L474.9,389.8 L476.0,379.7 L477.0,370.9 L478.0,378.7 L479.0,399.1 L480.1,395.4 L481.1,383.4 L482.1,378.7 L483.1,405.5 L484.2,384.0 L485.2,390.7 L486.2,397.4 L487.3,382.5 L488.3,387.2 L489.3,379.0 L490.3,395.7 L491.4,392.0 L492.4,377.9 L493.4,394.1 L494.4,367.9 L495.5,372.4 L496.5,386.1 L497.5,361.9 L498.6,396.5 L499.6,356.5 L500.6,395.8 L501.6,367.4 L502.7,393.2 L503.7,367.3 L504.7,387.6 L505.7,376.3 L506.8,371.7 L507.8,375.7 L508.8,395.0 L509.8,390.3 L510.9,363.9 L511.9,360.6 L512.9,390.1 L514.0,354.3 L515.0,352.1 L516.0,376.5 L517.0,355.5 L518.1,347.1 L519.1,374.2 L520.1,350.1 L521.1,355.3 L522.2,376.5 L523.2,385.7 L524.2,363.4 L525.3,363.8 L526.3,345.5 L527.3,364.5 L528.3,350.9 L529.4,365.5 L530.4,346.5 L531.4,354.0 L532.4,379.1 L533.5,356.0 L534.5,376.2 L535.5,370.2 L536.6,346.4 L537.6,361.5 L538.6,364.3 L539.6,362.7 L540.7,350.7 L541.7,355.5 L542.7,374.9 L543.7,368.2 L544.8,360.8 L545.8,363.1 L546.8,363.3 L547.9,365.3 L548.9,368.4 L549.9,383.5 L550.9,345.9 L552.0,371.6 L553.0,349.0 L554.0,349.9 L555.0,387.3 L556.1,373.6 L557.1,368.7 L558.1,381.5 L559.1,369.9 L560.2,385.2 L561.2,386.0 L562.2,390.2 L563.3,351.1 L564.3,365.3 L565.3,357.4 L566.3,379.1 L567.4,375.9 L568.4,364.7 L569.4,355.9 L570.4,371.8 L571.5,355.0 L572.5,382.6 L573.5,371.3 L574.6,354.7 L575.6,383.4 L576.6,362.0 L577.6,372.8 L578.7,381.9 L579.7,367.9 L580.7,360.6 L581.7,375.9 L582.8,383.4 L583.8,388.9 L584.8,360.8 L585.9,370.2 L586.9,382.8 L587.9,357.0 L588.9,354.0 L590.0,390.4 L591.0,368.0 L592.0,388.5 L593.0,387.3 L594.1,381.4 L595.1,393.2 L596.1,360.4 L597.2,370.5 L598.2,359.9 L599.2,357.6 L600.2,361.2 L601.3,363.3 L602.3,356.3 L603.3,370.3 L604.3,384.7 L605.4,368.2 L606.4,352.9 L607.4,351.9 L608.4,377.2 L609.5,358.8 L610.5,347.4 L611.5,379.0 L612.6,383.5 L613.6,367.8 L614.6,344.9 L615.6,351.7 L616.7,370.4 L617.7,371.5 L618.7,343.0 L619.7,379.4 L620.8,343.1 L621.8,378.5 L622.8,361.8 L623.9,354.1 L624.9,366.9 L625.9,365.5 L626.9,334.6 L628.0,336.4 L629.0,366.5 L630.0,364.6 L631.0,359.4 L632.1,323.0 L633.1,344.1 L634.1,331.8 L635.2,342.3 L636.2,322.0 L637.2,347.5 L638.2,319.1 L639.3,324.5 L640.3,321.3 L641.3,347.3 L642.3,323.1 L643.4,318.4 L644.4,320.1 L645.4,322.9 L646.5,326.3 L647.5,329.7 L648.5,317.8 L649.5,329.6 L650.6,328.2 L651.6,318.5 L652.6,307.7 L653.6,330.1 L654.7,314.9 L655.7,313.0 L656.7,312.7 L657.7,328.7 L658.8,323.2 L659.8,329.9 L660.8,294.9 L661.9,302.3 L662.9,306.8 L663.9,301.7 L664.9,323.5 L666.0,288.9 L667.0,293.7 L668.0,322.2 L669.0,288.9 L670.1,324.2 L671.1,302.3 L672.1,319.5 L673.2,310.5 L674.2,306.3 L675.2,290.7 L676.2,308.6 L677.3,286.6 L678.3,277.6 L679.3,286.9 L680.3,290.2 L681.4,274.6 L682.4,288.8 L683.4,290.9 L684.5,296.3 L685.5,292.0 L686.5,266.9 L687.5,296.2 L688.6,264.2 L689.6,281.2 L690.6,262.3 L691.6,276.0 L692.7,262.5 L693.7,291.0 L694.7,290.5 L695.8,262.5 L696.8,254.9 L697.8,273.6 L698.8,272.8 L699.9,273.4 L700.9,256.3 L701.9,278.8 L702.9,245.5 L704.0,252.9 L705.0,278.3 L706.0,246.5 L707.0,246.9 L708.1,265.5 L709.1,245.9 L710.1,263.5 L711.2,235.5 L712.2,244.1 L713.2,263.0 L714.2,255.2 L715.3,250.0 L716.3,259.4 L717.3,231.4 L718.3,234.1 L719.4,234.3 L720.4,230.0 L721.4,233.0 L722.5,249.2 L723.5,235.8 L724.5,252.7 L725.5,228.3 L726.6,235.9 L727.6,248.5 L728.6,231.7 L729.6,242.0 L730.7,242.1 L731.7,244.6 L732.7,216.9 L733.8,243.1 L734.8,221.7 L735.8,213.8 L736.8,216.2 L737.9,236.1 L738.9,215.9 L739.9,233.9 L740.9,230.2 L742.0,217.8 L743.0,241.9 L744.0,209.4 L745.1,233.9 L746.1,221.9 L747.1,223.0 L748.1,231.5 L749.2,218.2 L750.2,228.6 L751.2,203.6 L752.2,211.6 L753.3,228.8 L754.3,203.9 L755.3,225.9 L756.3,218.7 L757.4,207.5 L758.4,218.5 L759.4,204.6 L760.5,201.8 L761.5,212.0 L762.5,205.6 L763.5,194.9 L764.6,199.3 L765.6,201.9 L766.6,194.2 L767.6,192.7 L768.7,192.5 L769.7,210.5 L770.7,182.4 L771.8,201.2 L772.8,192.9 L773.8,206.8 L774.8,183.8 L775.9,181.4 L776.9,205.9 L777.9,198.5 L778.9,197.1 L780.0,194.6 L781.0,195.1 L782.0,181.8 L783.1,195.8 L784.1,174.8 L785.1,181.8 L786.1,183.5 L787.2,181.9 L788.2,170.5 L789.2,169.4 L790.2,186.0 L791.3,188.5 L792.3,182.6 L793.3,180.0 L794.3,172.2 L795.4,176.2 L796.4,185.9 L797.4,189.4 L798.5,174.9 L799.5,184.1 L800.5,162.4 L801.5,168.2 L802.6,174.9 L803.6,181.8 L804.6,183.1 L805.6,167.8 L806.7,161.1 L807.7,179.5 L808.7,176.4 L809.8,175.3 L810.8,159.2 L811.8,179.6 L812.8,174.4 L813.9,170.8 L814.9,161.7 L815.9,161.5 L816.9,169.2 L818.0,164.5 L819.0,150.0 L820.0,170.7 L821.1,159.2 L822.1,153.6 L823.1,166.2 L824.1,145.7 L825.2,161.1 L826.2,149.8 L827.2,150.5 L828.2,160.3 L829.3,152.2 L830.3,162.3 L831.3,157.5 L832.4,158.8 L833.4,158.9 L834.4,149.8 L835.4,152.0 L836.5,147.1 L837.5,146.6 L838.5,141.7 L839.5,135.1 L840.6,141.8 L841.6,153.2 L842.6,144.1 L843.6,148.6 L844.7,147.2 L845.7,144.0 L846.7,133.4 L847.8,133.5 L848.8,143.5 L849.8,144.5 L850.8,145.7 L851.9,133.5 L852.9,127.3 L853.9,142.1 L854.9,135.4 L856.0,131.9 L857.0,126.1 L858.0,125.2 L859.1,125.8 L860.1,135.0 L861.1,133.2 L862.1,128.4 L863.2,134.9 L864.2,134.0 L865.2,121.0 L866.2,131.6 L867.3,124.2 L868.3,129.6 L869.3,127.1 L870.4,117.1 L871.4,119.2 L872.4,129.8 L873.4,117.0 L874.5,123.2 L875.5,123.9 L876.5,127.8 L877.5,117.4 L878.6,122.6 L879.6,116.4 L880.6,117.9 L881.7,124.5 L882.7,116.0 L883.7,122.9 L884.7,123.7 L885.8,118.2 L886.8,117.0 L887.8,123.1 L888.8,116.7 L889.9,123.9 L890.9,114.3 L891.9,118.0 L892.9,117.9 L894.0,115.7 L895.0,113.8 L896.0,115.5 L897.1,114.4 L898.1,115.0 L899.1,112.4 L900.1,118.8 L901.2,115.7 L902.2,122.3 L903.2,115.0 L904.2,114.8 L905.3,117.3 L906.3,112.4 L907.3,116.0 L908.4,114.2 L909.4,113.5 L910.4,113.5 L911.4,116.1 L912.5,114.0 L913.5,116.8 L914.5,121.6 L915.5,115.7 L916.6,115.4 L917.6,118.1 L918.6,119.2 L919.7,122.2 L920.7,119.4 L921.7,123.2 L922.7,116.5 L923.8,116.1 L924.8,123.4 L925.8,121.3 L926.8,118.9 L927.9,123.2 L928.9,117.6 L929.9,120.7 L931.0,121.5 L932.0,119.4 L933.0,122.1 L934.0,121.3 L935.1,124.5 L936.1,122.9 L937.1,125.2 L938.1,120.8 L939.2,120.0 L940.2,122.6 L941.2,124.6 L942.2,123.8 L943.3,121.6 L944.3,122.9 L945.3,122.4" stroke="#ff00ff" stroke-dasharray="23.7 16.5 2.5 16.5"/>
<path d="M945.3,122.4 L946.4,128.6 L947.4,125.7 L948.4,127.2 L949.4,127.8 L950.5,123.7 L951.5,124.6 L952.5,128.4 L953.5,127.1 L954.6,126.6 L955.6,127.0 L956.6,126.3 L957.7,128.2 L958.7,128.0 L959.7,129.1 L960.7,129.0 L961.8,131.9 L962.8,132.4 L963.8,131.0 L964.8,132.2 L965.9,132.7 L966.9,133.9 L967.9,133.5 L969.0,133.6 L970.0,136.6 L971.0,137.2 L972.0,136.2 L973.1,137.9 L974.1,138.4 L975.1,139.2 L976.1,139.1 L977.2,137.6 L978.2,138.6 L979.2,141.0 L980.3,140.8 L981.3,141.5 L982.3,142.1 L983.3,141.9 L984.4,141.4 L985.4,143.6 L986.4,144.5 L987.4,144.3 L988.5,144.0 L989.5,143.7 L990.5,143.9 L991.5,146.6 L992.6,145.9 L993.6,146.6 L994.6,149.1 L995.7,147.9 L996.7,148.9 L997.7,149.4 L998.7,151.3 L999.8,152.2 L1000.8,151.8 L1001.8,152.6 L1002.8,153.7 L1003.9,152.8 L1004.9,154.0 L1005.9,155.7 L1007.0,153.9 L1008.0,154.5 L1009.0,156.0 L1010.0,157.0 L1011.1,156.8 L1012.0,157.2 L1014.9,159.8 L1017.8,162.9 L1020.8,163.5 L1023.7,166.2 L1026.6,169.0 L1029.6,170.8 L1032.5,172.5 L1035.4,175.7 L1038.4,177.9 L1041.3,179.0 L1044.2,182.7 L1047.2,184.6 L1050.1,186.2 L1053.1,189.0 L1056.0,190.8 L1058.9,192.9 L1061.9,196.0 L1064.8,197.9 L1067.7,201.0 L1070.7,202.8 L1073.6,206.0 L1076.5,207.7 L1079.5,210.1 L1082.4,212.8 L1085.3,215.8 L1088.3,217.5 L1091.2,220.3 L1094.1,222.9 L1097.1,225.6 L1100.0,228.3 L1102.9,230.9 L1105.9,233.4 L1108.8,236.1 L1111.7,239.2 L1114.7,241.7 L1117.6,244.4 L1120.5,246.7 L1123.5,249.8 L1126.4,252.9 L1129.3,255.4 L1132.3,258.2 L1135.2,261.1 L1138.2,263.5 L1141.1,266.5 L1144.0,269.1 L1147.0,272.4 L1149.9,275.2 L1152.8,278.0 L1155.8,280.2 L1158.7,283.4 L1161.6,285.4 L1164.6,288.1 L1167.5,290.8 L1170.4,293.8 L1173.4,296.4 L1176.3,298.9 L1179.2,302.1 L1182.2,304.1 L1185.1,307.4 L1188.0,309.4 L1191.0,312.2 L1193.9,315.2 L1196.8,317.1 L1199.8,319.7 L1202.7,322.5 L1205.6,324.9 L1208.6,327.6 L1211.5,330.1 L1214.5,332.7 L1217.4,335.3 L1220.3,337.7 L1223.3,340.1 L1226.2,342.2 L1229.1,344.0 L1232.1,346.4 L1235.0,349.3 L1237.9,350.9 L1240.9,353.2 L1243.8,355.7 L1246.7,357.6 L1249.7,360.4 L1252.6,361.7 L1255.5,364.4 L1258.5,366.8 L1261.4,368.1 L1264.3,370.4 L1267.3,372.4 L1270.2,374.4 L1273.1,377.2 L1276.1,379.1 L1279.0,380.8 L1281.9,383.1 L1284.9,384.6 L1287.8,387.3 L1290.7,388.9 L1293.7,390.6 L1296.6,392.8 L1299.6,394.8 L1302.5,396.5" stroke="#ff00ff" stroke-dasharray="22.5 12 1.5 12"/>
<path d="M1302.5,396.5 L1305.4,398.4 L1308.4,400.3 L1311.3,401.8 L1314.2,403.8 L1317.2,405.2 L1320.1,407.1 L1323.0,408.5 L1326.0,410.2 L1328.9,411.5 L1331.8,413.5 L1334.8,414.8 L1337.7,416.3 L1340.6,417.9 L1343.6,419.7 L1346.5,420.9 L1349.4,422.7 L1352.4,423.9 L1355.3,425.2 L1358.2,427.1 L1361.2,428.7 L1364.1,430.4 L1367.0,431.1 L1370.0,433.4 L1372.9,434.4 L1375.8,435.6 L1378.8,437.4 L1381.7,438.8 L1384.7,439.9 L1387.6,441.7 L1390.5,442.6 L1393.5,444.0 L1396.4,444.9 L1399.3,446.8 L1402.3,447.7 L1405.2,448.4 L1408.1,450.2 L1411.1,450.9 L1414.0,451.8 L1416.9,452.9 L1419.9,454.6 L1422.8,455.1 L1425.7,456.8 L1428.7,458.0 L1431.6,458.7 L1434.5,460.1 L1437.5,461.5 L1440.4,462.6 L1443.3,464.2 L1446.3,464.9 L1449.2,466.1 L1452.1,467.4 L1455.1,469.0 L1458.0,470.2 L1460.9,471.8 L1463.9,473.0 L1466.8,474.1 L1469.8,475.2 L1472.7,475.7 L1475.6,477.1 L1478.6,478.2 L1481.5,479.4 L1484.4,480.5 L1487.4,481.0 L1490.3,482.4 L1493.2,483.1 L1496.2,484.6 L1499.1,485.4 L1502.0,486.8 L1505.0,487.8 L1507.9,488.2 L1510.8,489.2 L1513.8,490.8 L1516.7,491.8 L1519.6,493.0 L1522.6,493.4 L1525.5,494.9 L1528.4,495.9 L1531.4,496.8 L1534.3,497.5 L1537.2,498.5 L1540.2,499.8 L1543.1,500.7 L1546.0,502.1 L1549.0,502.5 L1551.9,503.4 L1554.9,504.5 L1557.8,505.5 L1560.7,506.8 L1563.7,507.7 L1566.6,508.4 L1569.5,509.2 L1572.5,510.2 L1575.4,511.2 L1578.3,512.0 L1581.3,513.2 L1584.2,513.6 L1587.1,514.4 L1590.1,515.6 L1593.0,516.5 L1595.9,517.1 L1598.9,517.6 L1601.8,518.5 L1604.7,519.6 L1607.7,520.5 L1610.6,521.6 L1613.5,521.8 L1616.5,522.5 L1619.4,523.3 L1622.3,524.6 L1625.3,525.1 L1628.2,526.4 L1631.1,526.5 L1634.1,527.3 L1637.0,528.2 L1640.0,529.4 L1642.9,529.5 L1645.8,530.8 L1648.8,531.4 L1651.7,532.2 L1654.6,533.1 L1657.6,533.4 L1660.5,534.7 L1663.4,535.4 L1666.4,536.2 L1669.3,536.9 L1672.2,537.7 L1675.2,538.2 L1678.1,538.7 L1681.0,539.8 L1684.0,540.5 L1686.9,540.9 L1689.8,541.6 L1692.8,542.1 L1695.7,543.5 L1698.6,543.5 L1701.6,544.3 L1704.5,544.9 L1707.4,546.2 L1710.4,546.3 L1713.3,547.6 L1716.2,548.1 L1719.2,549.0 L1722.1,549.2 L1725.1,550.0 L1728.0,551.2 L1730.9,551.5 L1733.9,552.2 L1736.8,553.3 L1739.7,554.0 L1742.7,554.3 L1745.6,555.2 L1748.5,555.8 L1751.5,556.2 L1754.4,556.8 L1757.3,558.0 L1760.3,558.8 L1763.2,559.0 L1766.1,559.4 L1769.1,560.8 L1772.0,560.6 L1774.9,561.3 L1777.9,562.0 L1780.8,563.2 L1783.7,563.0 L1786.7,564.0 L1789.6,564.6 L1792.5,565.2 L1795.5,565.5 L1798.4,566.3 L1801.4,567.0 L1804.3,567.5 L1807.2,568.1 L1810.2,568.6 L1813.1,568.8 L1816.0,569.2 L1819.0,569.8 L1821.9,570.8 L1824.8,571.3 L1827.8,571.7 L1830.7,572.2 L1833.6,572.7 L1836.6,573.4 L1839.5,574.3 L1842.4,574.7 L1845.4,575.1 L1848.3,576.3 L1851.2,576.3 L1854.2,576.9 L1857.1,577.8 L1860.0,578.1 L1863.0,579.3 L1865.9,579.7 L1868.8,579.8 L1871.8,580.5 L1874.7,581.4 L1877.6,582.1 L1880.6,581.8 L1883.5,583.0 L1886.5,583.1 L1889.4,583.3 L1892.3,584.5 L1895.3,584.5 L1898.2,585.2 L1901.1,585.8 L1904.1,585.9 L1907.0,586.4 L1909.9,587.5 L1912.9,587.8 L1915.8,587.6 L1918.7,588.8 L1921.7,589.4 L1924.6,589.9 L1927.5,590.1 L1930.5,590.4 L1933.4,590.9 L1936.3,591.8 L1939.3,591.9 L1942.2,592.4 L1945.1,593.2 L1948.1,593.8 L1951.0,594.1 L1953.9,594.2 L1956.9,594.7 L1959.8,595.2 L1962.7,595.4 L1965.7,596.1 L1968.6,597.0 L1971.6,597.1 L1974.5,597.3 L1977.4,598.0 L1980.4,598.7 L1983.3,599.3 L1986.2,599.5 L1989.2,599.9 L1992.1,600.6 L1995.0,601.1 L1998.0,601.0 L2000.9,601.4 L2003.8,602.5 L2006.8,603.1 L2009.7,603.5 L2011.0,603.0" stroke="#ff00ff" stroke-dasharray="20.5 10.7 1.5 10.7" stroke-dashoffset="-6"/>
</g>
<!-- x tick labels -->
<g fill="#000" filter="url(#crisp)">
<text transform="translate(250.2,1431.6) scale(1,1.06)" text-anchor="middle" font-size="71.75">200</text>
<text transform="translate(543.7,1431.6) scale(1,1.06)" text-anchor="middle" font-size="71.75">300</text>
<text transform="translate(837.1,1431.6) scale(1,1.06)" text-anchor="middle" font-size="71.75">400</text>
<text transform="translate(1130.5,1431.6) scale(1,1.06)" text-anchor="middle" font-size="71.75">500</text>
<text transform="translate(1424.0,1431.6) scale(1,1.06)" text-anchor="middle" font-size="71.75">600</text>
<text transform="translate(1717.5,1431.6) scale(1,1.06)" text-anchor="middle" font-size="71.75">700</text>
<text transform="translate(2010.9,1431.6) scale(1,1.06)" text-anchor="middle" font-size="71.75">800</text>
<text transform="translate(1131.5,1537.4) scale(1,1.05)" text-anchor="middle" font-size="84.5">Wavelength (nm)</text>
<text transform="translate(128.2,689) rotate(-90) scale(1,1.04)" text-anchor="middle" font-size="84.3">Absorbance (a.u.)</text>
</g>
<!-- legend (samples) -->
<g filter="url(#crisp)">
<line x1="1384.7" y1="765.2" x2="1535" y2="765.2" stroke="#ff00ff" stroke-width="7" stroke-linecap="round"/>
<text transform="translate(1555,788.5) scale(1,1.06)" font-size="71.75" fill="#ff00ff">Ag/Cotton-10</text>
<line x1="1384.7" y1="854.8" x2="1535" y2="854.8" stroke="#008080" stroke-width="7" stroke-linecap="round"/>
<text transform="translate(1555,878.1) scale(1,1.06)" font-size="71.75" fill="#008080">Ag/Cotton-5</text>
<line x1="1384.7" y1="944" x2="1535" y2="944" stroke="#0000ff" stroke-width="7" stroke-linecap="round"/>
<text transform="translate(1555,967.3) scale(1,1.06)" font-size="71.75" fill="#0000ff">Ag/Cotton-2</text>
<line x1="1384.7" y1="1033" x2="1535" y2="1033" stroke="#ff0000" stroke-width="7" stroke-linecap="round"/>
<text transform="translate(1555,1056.3) scale(1,1.06)" font-size="71.75" fill="#ff0000">Ag/Cotton-1</text>
<line x1="1384.7" y1="1122.2" x2="1535" y2="1122.2" stroke="#000000" stroke-width="7" stroke-linecap="round"/>
<text transform="translate(1555,1145.5) scale(1,1.06)" font-size="71.75" fill="#000000">Blank cotton</text>
</g>
<!-- arrow -->
<g shape-rendering="crispEdges">
<line x1="1321.6" y1="820" x2="1321.6" y2="1051" stroke="#000" stroke-width="7" stroke-linecap="round"/>
<path d="M1321.6,789.5 L1311,827 L1332.2,827 Z" fill="#000" stroke="#000" stroke-width="2" stroke-linejoin="round"/>
</g>
<!-- legend (line styles) -->
<g filter="url(#crisp)">
<line x1="305.8" y1="1185" x2="453" y2="1185" stroke="#000" stroke-width="7" stroke-linecap="round" stroke-dasharray="23.7 16.8 3.9 16.9"/>
<text transform="translate(476.5,1208) scale(1,1.06)" font-size="71.75" fill="#000">Ultrasonic treatment for 30 min</text>
<line x1="306.7" y1="1274.7" x2="456" y2="1274.7" stroke="#000" stroke-width="7" stroke-linecap="round"/>
<text transform="translate(475.5,1297) scale(1,1.06)" font-size="71.75" fill="#000">As-prepared</text>
</g>
</svg>
</body>
</html>
